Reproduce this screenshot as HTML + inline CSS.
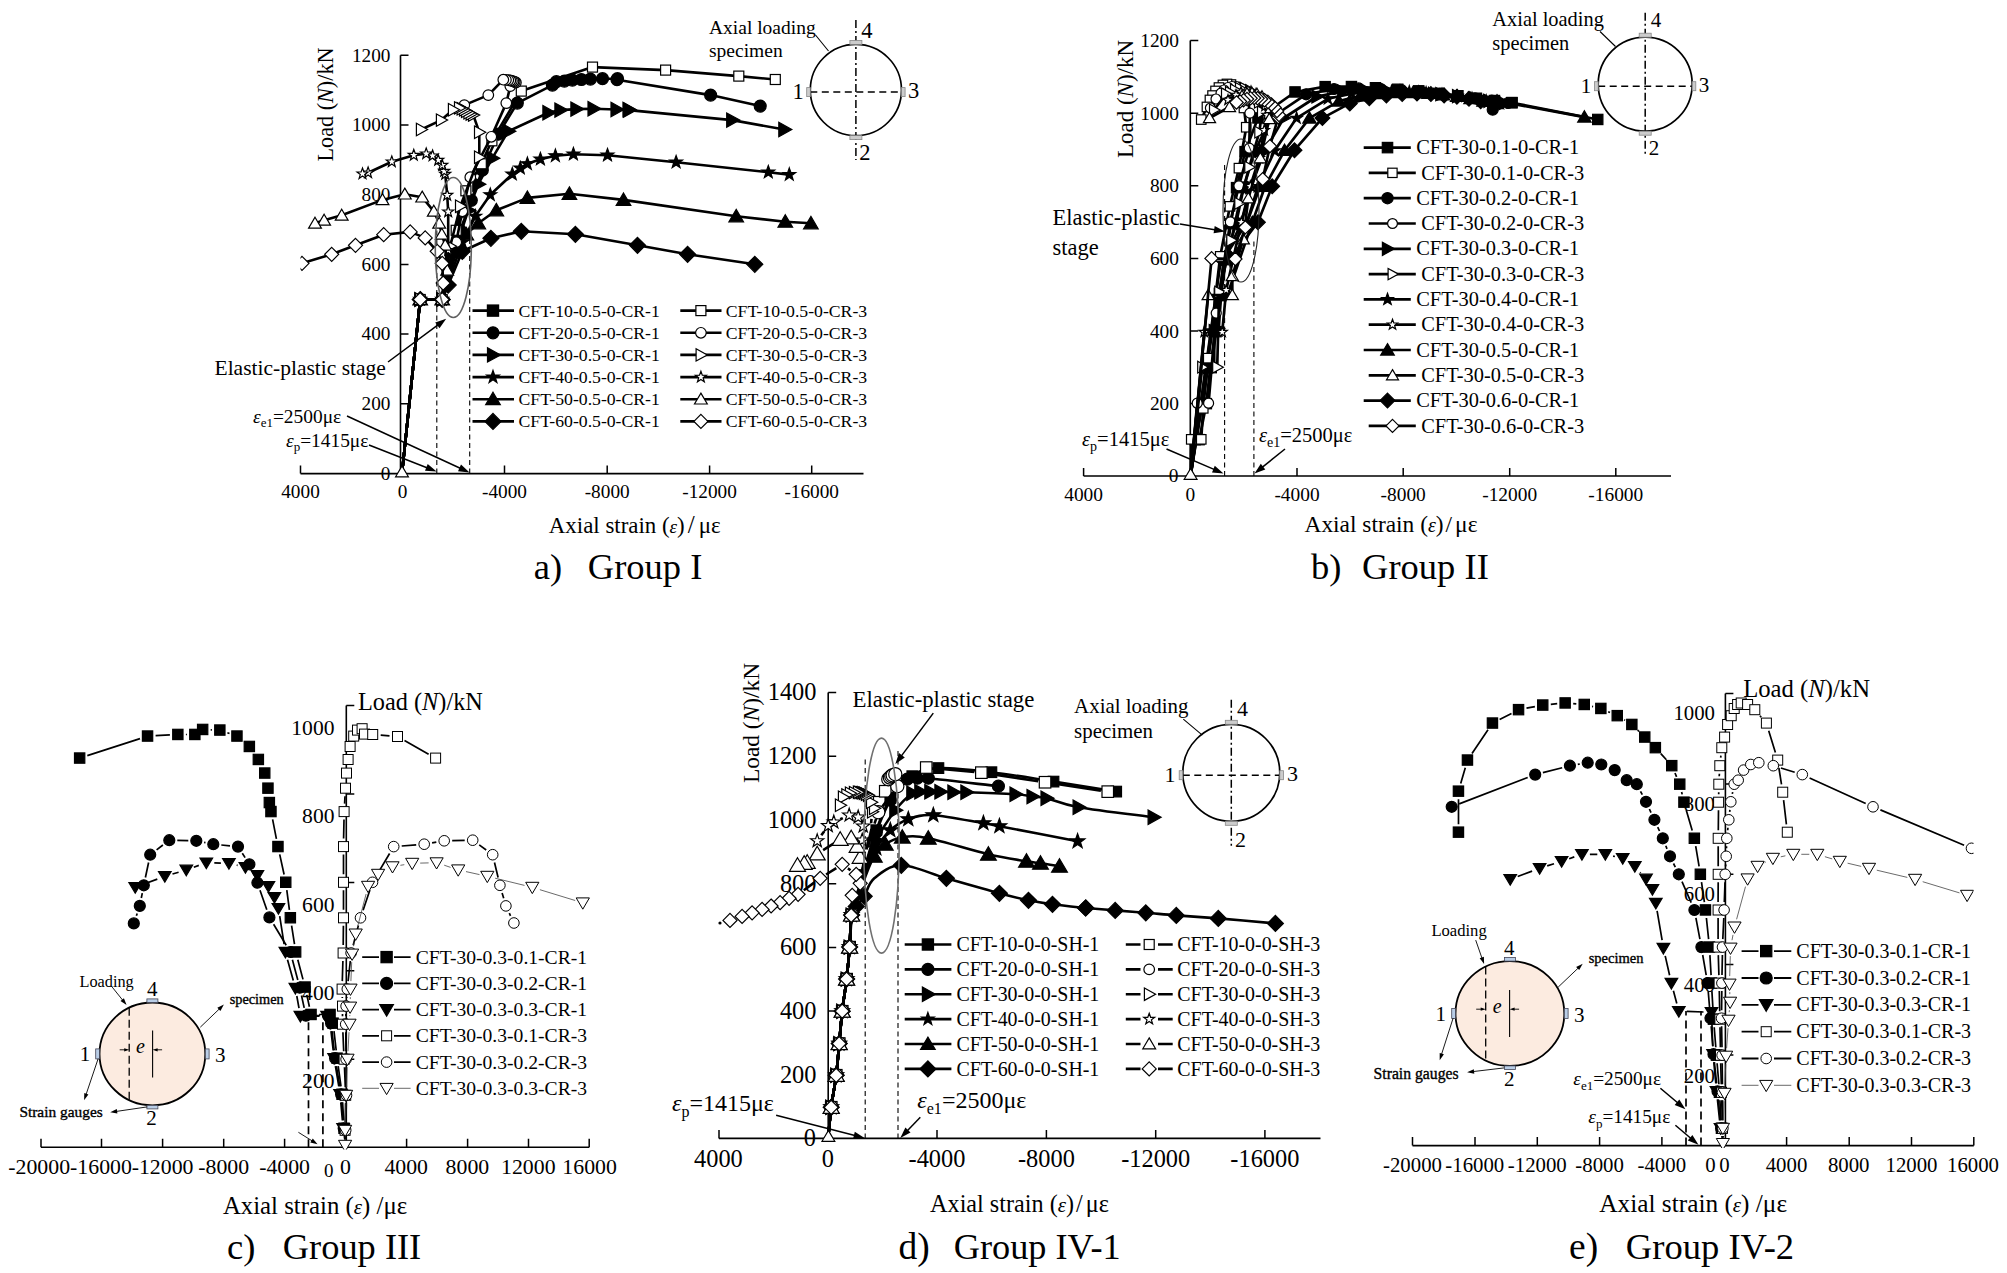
<!DOCTYPE html>
<html><head><meta charset="utf-8"><title>Load-strain curves</title>
<style>html,body{margin:0;padding:0;background:#fff}svg{display:block}text{font-family:"Liberation Serif","Times New Roman",serif;fill:#000}</style>
</head><body>
<svg width="2007" height="1273" viewBox="0 0 2007 1273">
<defs><clipPath id="clipA"><rect x="300.5" y="0" width="700" height="490"/></clipPath>
<clipPath id="clipE"><rect x="1300" y="600" width="673.6" height="548"/></clipPath><clipPath id="clipC"><rect x="0" y="600" width="700" height="549.6"/></clipPath></defs>
<rect width="2007" height="1273" fill="#fff"/>
<g id="chart_a">
<path d="M400.5 55.3V473.6M300.5 473.6H863.5" stroke="#000" stroke-width="1.6" fill="none"/>
<path d="M400.5 55.3h8M400.5 125h8M400.5 194.7h8M400.5 264.4h8M400.5 334.1h8M400.5 403.8h8M300.5 473.6v-8M504.5 473.6v-8M607.2 473.6v-8M709.6 473.6v-8M811.7 473.6v-8" stroke="#000" stroke-width="1.5" fill="none"/>
<text x="390.5" y="61.6" font-size="19.3" text-anchor="end" >1200</text>
<text x="390.5" y="131.3" font-size="19.3" text-anchor="end" >1000</text>
<text x="390.5" y="201" font-size="19.3" text-anchor="end" >800</text>
<text x="390.5" y="270.7" font-size="19.3" text-anchor="end" >600</text>
<text x="390.5" y="340.4" font-size="19.3" text-anchor="end" >400</text>
<text x="390.5" y="410.1" font-size="19.3" text-anchor="end" >200</text>
<text x="390.5" y="480" font-size="19.3" text-anchor="end" >0</text>
<text x="300.5" y="497.6" font-size="19.3" text-anchor="middle" >4000</text>
<text x="402.5" y="497.6" font-size="19.3" text-anchor="middle" >0</text>
<text x="504.5" y="497.6" font-size="19.3" text-anchor="middle" >-4000</text>
<text x="607.2" y="497.6" font-size="19.3" text-anchor="middle" >-8000</text>
<text x="709.6" y="497.6" font-size="19.3" text-anchor="middle" >-12000</text>
<text x="811.7" y="497.6" font-size="19.3" text-anchor="middle" >-16000</text>
<text transform="translate(333,104.5) rotate(-90)" font-size="22.2" text-anchor="middle">Load (<tspan font-style="italic">N</tspan>)/kN</text>
<text x="634.7" y="533.4" font-size="22.9" text-anchor="middle" >Axial strain (<tspan font-style="italic" font-size="19">ε</tspan>)<tspan dx="3" font-size="25">/</tspan><tspan dx="4">με</tspan></text>
<text x="533.7" y="578.5" font-size="36.5" text-anchor="start" >a)</text>
<text x="587.8" y="578.5" font-size="36.5" text-anchor="start" >Group I</text>
<path d="M436.8 473.6V226M469.7 473.6V232" stroke="#000" stroke-width="1.1" stroke-dasharray="5 3.5" fill="none"/>
<g clip-path="url(#clipA)">
<polyline points="402,473.3 420.2,299.5 442.2,299.5 460.3,230.3 471.3,200.3 482.3,170.2 498.3,134.2 517.3,103.1 552.4,85.1 556.4,81.7 564.4,81.1 572.4,80.1 581.4,79.5 590.4,79.1 602.5,78.7 617.5,78.7 617,79.7 710.6,95.1 760.2,106.1" fill="none" stroke="#000" stroke-width="2.6" stroke-linejoin="round" /><circle cx="420.2" cy="299.5" r="6" fill="#000" stroke="#000" stroke-width="1.2"/><circle cx="442.2" cy="299.5" r="6" fill="#000" stroke="#000" stroke-width="1.2"/><circle cx="460.3" cy="230.3" r="6" fill="#000" stroke="#000" stroke-width="1.2"/><circle cx="471.3" cy="200.3" r="6" fill="#000" stroke="#000" stroke-width="1.2"/><circle cx="482.3" cy="170.2" r="6" fill="#000" stroke="#000" stroke-width="1.2"/><circle cx="498.3" cy="134.2" r="6" fill="#000" stroke="#000" stroke-width="1.2"/><circle cx="517.3" cy="103.1" r="6" fill="#000" stroke="#000" stroke-width="1.2"/><circle cx="552.4" cy="85.1" r="6" fill="#000" stroke="#000" stroke-width="1.2"/><circle cx="556.4" cy="81.7" r="6" fill="#000" stroke="#000" stroke-width="1.2"/><circle cx="564.4" cy="81.1" r="6" fill="#000" stroke="#000" stroke-width="1.2"/><circle cx="572.4" cy="80.1" r="6" fill="#000" stroke="#000" stroke-width="1.2"/><circle cx="581.4" cy="79.5" r="6" fill="#000" stroke="#000" stroke-width="1.2"/><circle cx="590.4" cy="79.1" r="6" fill="#000" stroke="#000" stroke-width="1.2"/><circle cx="602.5" cy="78.7" r="6" fill="#000" stroke="#000" stroke-width="1.2"/><circle cx="617.5" cy="78.7" r="6" fill="#000" stroke="#000" stroke-width="1.2"/><circle cx="617" cy="79.7" r="6" fill="#000" stroke="#000" stroke-width="1.2"/><circle cx="710.6" cy="95.1" r="6" fill="#000" stroke="#000" stroke-width="1.2"/><circle cx="760.2" cy="106.1" r="6" fill="#000" stroke="#000" stroke-width="1.2"/>
<polyline points="402,473.3 420.2,299.5 442.2,299.5 458.3,240.3 468.3,210.3 478.3,184.2 492.3,158.2 508.3,131.2 548.4,112.7 560.4,110.1 576.4,109.1 593.5,108.7 616.5,109.5 628.5,109.5 629,110.1 732.2,120.1 784.3,129.5" fill="none" stroke="#000" stroke-width="2.6" stroke-linejoin="round" /><polygon points="414.7,292.4 414.7,306.6 427.7,299.5" fill="#000" stroke="#000" stroke-width="1.2"/><polygon points="436.7,292.4 436.7,306.6 449.7,299.5" fill="#000" stroke="#000" stroke-width="1.2"/><polygon points="452.8,233.2 452.8,247.5 465.8,240.3" fill="#000" stroke="#000" stroke-width="1.2"/><polygon points="462.8,203.2 462.8,217.5 475.8,210.3" fill="#000" stroke="#000" stroke-width="1.2"/><polygon points="472.8,177 472.8,191.3 485.8,184.2" fill="#000" stroke="#000" stroke-width="1.2"/><polygon points="486.8,151 486.8,165.3 499.8,158.2" fill="#000" stroke="#000" stroke-width="1.2"/><polygon points="502.8,124 502.8,138.3 515.8,131.2" fill="#000" stroke="#000" stroke-width="1.2"/><polygon points="542.9,105.5 542.9,119.9 555.9,112.7" fill="#000" stroke="#000" stroke-width="1.2"/><polygon points="554.9,102.9 554.9,117.2 567.9,110.1" fill="#000" stroke="#000" stroke-width="1.2"/><polygon points="570.9,101.9 570.9,116.2 583.9,109.1" fill="#000" stroke="#000" stroke-width="1.2"/><polygon points="588,101.5 588,115.9 601,108.7" fill="#000" stroke="#000" stroke-width="1.2"/><polygon points="611,102.3 611,116.7 624,109.5" fill="#000" stroke="#000" stroke-width="1.2"/><polygon points="623,102.3 623,116.7 636,109.5" fill="#000" stroke="#000" stroke-width="1.2"/><polygon points="623.5,102.9 623.5,117.2 636.5,110.1" fill="#000" stroke="#000" stroke-width="1.2"/><polygon points="726.7,112.9 726.7,127.2 739.7,120.1" fill="#000" stroke="#000" stroke-width="1.2"/><polygon points="778.8,122.3 778.8,136.7 791.8,129.5" fill="#000" stroke="#000" stroke-width="1.2"/>
<polyline points="402,473.3 420.2,299.5 442.2,299.5 462.3,242.3 475.3,216.3 490.3,194.8 512.3,174.2 520.3,168.2 527.4,163.8 540.4,159.2 555.4,155.8 573.4,154.2 607.5,155.2 676.1,162.2 768.3,172.2 789.3,174.6" fill="none" stroke="#000" stroke-width="2.6" stroke-linejoin="round" /><polygon points="420.2,292.8 421.8,297.3 426.6,297.4 422.7,300.3 424.1,304.9 420.2,302.2 416.3,304.9 417.7,300.3 413.8,297.4 418.6,297.3" fill="#000" stroke="#000" stroke-width="1.2"/><polygon points="442.2,292.8 443.8,297.3 448.6,297.4 444.7,300.3 446.1,304.9 442.2,302.2 438.3,304.9 439.7,300.3 435.8,297.4 440.6,297.3" fill="#000" stroke="#000" stroke-width="1.2"/><polygon points="462.3,235.6 463.9,240.1 468.7,240.2 464.8,243.1 466.2,247.7 462.3,245 458.4,247.7 459.8,243.1 455.9,240.2 460.7,240.1" fill="#000" stroke="#000" stroke-width="1.2"/><polygon points="475.3,209.6 476.9,214.1 481.7,214.2 477.8,217.1 479.2,221.7 475.3,219 471.4,221.7 472.8,217.1 468.9,214.2 473.7,214.1" fill="#000" stroke="#000" stroke-width="1.2"/><polygon points="490.3,188.1 491.9,192.6 496.7,192.7 492.8,195.6 494.2,200.2 490.3,197.5 486.4,200.2 487.8,195.6 483.9,192.7 488.7,192.6" fill="#000" stroke="#000" stroke-width="1.2"/><polygon points="512.3,167.5 513.9,172 518.7,172.1 514.8,175 516.2,179.6 512.3,176.9 508.4,179.6 509.8,175 505.9,172.1 510.7,172" fill="#000" stroke="#000" stroke-width="1.2"/><polygon points="520.3,161.5 521.9,166 526.7,166.1 522.8,169 524.2,173.6 520.3,170.9 516.4,173.6 517.8,169 513.9,166.1 518.7,166" fill="#000" stroke="#000" stroke-width="1.2"/><polygon points="527.4,157.1 529,161.6 533.8,161.7 529.9,164.6 531.3,169.2 527.4,166.5 523.5,169.2 524.9,164.6 521,161.7 525.8,161.6" fill="#000" stroke="#000" stroke-width="1.2"/><polygon points="540.4,152.5 542,157 546.8,157.1 542.9,160 544.3,164.6 540.4,161.9 536.5,164.6 537.9,160 534,157.1 538.8,157" fill="#000" stroke="#000" stroke-width="1.2"/><polygon points="555.4,149.1 557,153.6 561.8,153.7 557.9,156.6 559.3,161.2 555.4,158.5 551.5,161.2 552.9,156.6 549,153.7 553.8,153.6" fill="#000" stroke="#000" stroke-width="1.2"/><polygon points="573.4,147.5 575,152 579.8,152.1 575.9,155 577.3,159.6 573.4,156.9 569.5,159.6 570.9,155 567,152.1 571.8,152" fill="#000" stroke="#000" stroke-width="1.2"/><polygon points="607.5,148.5 609.1,153 613.9,153.1 610,156 611.4,160.6 607.5,157.9 603.6,160.6 605,156 601.1,153.1 605.9,153" fill="#000" stroke="#000" stroke-width="1.2"/><polygon points="676.1,155.5 677.7,160 682.5,160.1 678.6,163 680,167.6 676.1,164.9 672.2,167.6 673.6,163 669.7,160.1 674.5,160" fill="#000" stroke="#000" stroke-width="1.2"/><polygon points="768.3,165.5 769.9,170 774.7,170.1 770.8,173 772.2,177.6 768.3,174.9 764.4,177.6 765.8,173 761.9,170.1 766.7,170" fill="#000" stroke="#000" stroke-width="1.2"/><polygon points="789.3,167.9 790.9,172.4 795.7,172.5 791.8,175.4 793.2,180 789.3,177.3 785.4,180 786.8,175.4 782.9,172.5 787.7,172.4" fill="#000" stroke="#000" stroke-width="1.2"/>
<polyline points="402,473.3 420.2,299.5 442.2,299.5 456.2,252.3 466.3,234.3 478.3,223.3 496.3,210.3 527.4,197.9 569.4,193.8 623.5,199.9 736.2,216.3 785.3,221.7 810.9,223.3" fill="none" stroke="#000" stroke-width="2.6" stroke-linejoin="round" /><polygon points="420.2,292.6 427.5,305 412.9,305" fill="#000" stroke="#000" stroke-width="1.2"/><polygon points="442.2,292.6 449.5,305 434.9,305" fill="#000" stroke="#000" stroke-width="1.2"/><polygon points="456.2,245.4 463.5,257.8 448.9,257.8" fill="#000" stroke="#000" stroke-width="1.2"/><polygon points="466.3,227.4 473.6,239.8 459,239.8" fill="#000" stroke="#000" stroke-width="1.2"/><polygon points="478.3,216.4 485.6,228.8 471,228.8" fill="#000" stroke="#000" stroke-width="1.2"/><polygon points="496.3,203.4 503.6,215.8 489,215.8" fill="#000" stroke="#000" stroke-width="1.2"/><polygon points="527.4,191 534.7,203.4 520.1,203.4" fill="#000" stroke="#000" stroke-width="1.2"/><polygon points="569.4,186.9 576.7,199.3 562.1,199.3" fill="#000" stroke="#000" stroke-width="1.2"/><polygon points="623.5,193 630.8,205.4 616.2,205.4" fill="#000" stroke="#000" stroke-width="1.2"/><polygon points="736.2,209.4 743.5,221.8 728.9,221.8" fill="#000" stroke="#000" stroke-width="1.2"/><polygon points="785.3,214.8 792.6,227.2 778,227.2" fill="#000" stroke="#000" stroke-width="1.2"/><polygon points="810.9,216.4 818.2,228.8 803.6,228.8" fill="#000" stroke="#000" stroke-width="1.2"/>
<polyline points="402,473.3 420.2,299.5 442.2,299.5 448.2,285.1 462.3,251.3 490.9,238.3 521.3,231.3 575.4,234.3 637.5,245.3 687.6,254.3 754.8,264.3" fill="none" stroke="#000" stroke-width="2.6" stroke-linejoin="round" /><polygon points="420.2,291.5 428.2,299.5 420.2,307.5 412.2,299.5" fill="#000" stroke="#000" stroke-width="1.2"/><polygon points="442.2,291.5 450.2,299.5 442.2,307.5 434.2,299.5" fill="#000" stroke="#000" stroke-width="1.2"/><polygon points="448.2,277.1 456.2,285.1 448.2,293.1 440.2,285.1" fill="#000" stroke="#000" stroke-width="1.2"/><polygon points="462.3,243.3 470.3,251.3 462.3,259.3 454.3,251.3" fill="#000" stroke="#000" stroke-width="1.2"/><polygon points="490.9,230.3 498.9,238.3 490.9,246.3 482.9,238.3" fill="#000" stroke="#000" stroke-width="1.2"/><polygon points="521.3,223.3 529.3,231.3 521.3,239.3 513.3,231.3" fill="#000" stroke="#000" stroke-width="1.2"/><polygon points="575.4,226.3 583.4,234.3 575.4,242.3 567.4,234.3" fill="#000" stroke="#000" stroke-width="1.2"/><polygon points="637.5,237.3 645.5,245.3 637.5,253.3 629.5,245.3" fill="#000" stroke="#000" stroke-width="1.2"/><polygon points="687.6,246.3 695.6,254.3 687.6,262.3 679.6,254.3" fill="#000" stroke="#000" stroke-width="1.2"/><polygon points="754.8,256.3 762.8,264.3 754.8,272.3 746.8,264.3" fill="#000" stroke="#000" stroke-width="1.2"/>
<polyline points="402,473.3 420.2,299.5 442.2,299.5 456.2,230.3 465.9,190.8 481.3,163.8 491.9,140.8 521.3,91.1 592.5,67.1 665.6,70.1 738.8,76.1 775.3,79.5" fill="none" stroke="#000" stroke-width="2.6" stroke-linejoin="round" /><rect x="415.2" y="294.5" width="10" height="10" fill="#fff" stroke="#000" stroke-width="1.2"/><rect x="437.2" y="294.5" width="10" height="10" fill="#fff" stroke="#000" stroke-width="1.2"/><rect x="451.2" y="225.3" width="10" height="10" fill="#fff" stroke="#000" stroke-width="1.2"/><rect x="460.9" y="185.8" width="10" height="10" fill="#fff" stroke="#000" stroke-width="1.2"/><rect x="476.3" y="158.8" width="10" height="10" fill="#fff" stroke="#000" stroke-width="1.2"/><rect x="486.9" y="135.8" width="10" height="10" fill="#fff" stroke="#000" stroke-width="1.2"/><rect x="516.3" y="86.1" width="10" height="10" fill="#fff" stroke="#000" stroke-width="1.2"/><rect x="587.5" y="62.1" width="10" height="10" fill="#fff" stroke="#000" stroke-width="1.2"/><rect x="660.6" y="65.1" width="10" height="10" fill="#fff" stroke="#000" stroke-width="1.2"/><rect x="733.8" y="71.1" width="10" height="10" fill="#fff" stroke="#000" stroke-width="1.2"/><rect x="770.3" y="74.5" width="10" height="10" fill="#fff" stroke="#000" stroke-width="1.2"/>
<polyline points="402,473.3 420.2,299.5 442.2,299.5 456.2,242.3 462.3,211.3 470.3,177.2 491.3,136.8 506.3,103.1 510.3,86.1 515.9,82.5 514.7,81.9 513.5,81.3 511.9,80.9 510.3,80.5 508.3,80.1 505.9,79.9 503.3,79.7 488.3,95.1 464.3,105.1" fill="none" stroke="#000" stroke-width="2.6" stroke-linejoin="round" /><circle cx="420.2" cy="299.5" r="5.3" fill="#fff" stroke="#000" stroke-width="1.2"/><circle cx="442.2" cy="299.5" r="5.3" fill="#fff" stroke="#000" stroke-width="1.2"/><circle cx="456.2" cy="242.3" r="5.3" fill="#fff" stroke="#000" stroke-width="1.2"/><circle cx="462.3" cy="211.3" r="5.3" fill="#fff" stroke="#000" stroke-width="1.2"/><circle cx="470.3" cy="177.2" r="5.3" fill="#fff" stroke="#000" stroke-width="1.2"/><circle cx="491.3" cy="136.8" r="5.3" fill="#fff" stroke="#000" stroke-width="1.2"/><circle cx="506.3" cy="103.1" r="5.3" fill="#fff" stroke="#000" stroke-width="1.2"/><circle cx="510.3" cy="86.1" r="5.3" fill="#fff" stroke="#000" stroke-width="1.2"/><circle cx="515.9" cy="82.5" r="5.3" fill="#fff" stroke="#000" stroke-width="1.2"/><circle cx="514.7" cy="81.9" r="5.3" fill="#fff" stroke="#000" stroke-width="1.2"/><circle cx="513.5" cy="81.3" r="5.3" fill="#fff" stroke="#000" stroke-width="1.2"/><circle cx="511.9" cy="80.9" r="5.3" fill="#fff" stroke="#000" stroke-width="1.2"/><circle cx="510.3" cy="80.5" r="5.3" fill="#fff" stroke="#000" stroke-width="1.2"/><circle cx="508.3" cy="80.1" r="5.3" fill="#fff" stroke="#000" stroke-width="1.2"/><circle cx="505.9" cy="79.9" r="5.3" fill="#fff" stroke="#000" stroke-width="1.2"/><circle cx="503.3" cy="79.7" r="5.3" fill="#fff" stroke="#000" stroke-width="1.2"/><circle cx="488.3" cy="95.1" r="5.3" fill="#fff" stroke="#000" stroke-width="1.2"/><circle cx="464.3" cy="105.1" r="5.3" fill="#fff" stroke="#000" stroke-width="1.2"/>
<polyline points="402,473.3 420.2,299.5 442.2,299.5 450.2,246.3 460.3,206.3 479.3,157.2 479.3,132.2 473.3,115.1 470.9,114.1 468.7,112.7 466.3,111.3 464.3,109.9 461.9,108.7 459.3,107.9 453.2,109.7 441.2,120.1 421.2,129.5" fill="none" stroke="#000" stroke-width="2.6" stroke-linejoin="round" /><polygon points="415.4,293.3 415.4,305.7 426.6,299.5" fill="#fff" stroke="#000" stroke-width="1.2"/><polygon points="437.4,293.3 437.4,305.7 448.6,299.5" fill="#fff" stroke="#000" stroke-width="1.2"/><polygon points="445.4,240.1 445.4,252.5 456.6,246.3" fill="#fff" stroke="#000" stroke-width="1.2"/><polygon points="455.5,200.1 455.5,212.5 466.7,206.3" fill="#fff" stroke="#000" stroke-width="1.2"/><polygon points="474.5,151 474.5,163.4 485.7,157.2" fill="#fff" stroke="#000" stroke-width="1.2"/><polygon points="474.5,126 474.5,138.4 485.7,132.2" fill="#fff" stroke="#000" stroke-width="1.2"/><polygon points="468.5,108.9 468.5,121.3 479.7,115.1" fill="#fff" stroke="#000" stroke-width="1.2"/><polygon points="466.1,107.9 466.1,120.3 477.3,114.1" fill="#fff" stroke="#000" stroke-width="1.2"/><polygon points="463.9,106.5 463.9,118.9 475.1,112.7" fill="#fff" stroke="#000" stroke-width="1.2"/><polygon points="461.5,105.1 461.5,117.5 472.7,111.3" fill="#fff" stroke="#000" stroke-width="1.2"/><polygon points="459.5,103.7 459.5,116.1 470.7,109.9" fill="#fff" stroke="#000" stroke-width="1.2"/><polygon points="457.1,102.5 457.1,114.9 468.3,108.7" fill="#fff" stroke="#000" stroke-width="1.2"/><polygon points="454.5,101.7 454.5,114.1 465.7,107.9" fill="#fff" stroke="#000" stroke-width="1.2"/><polygon points="448.4,103.5 448.4,115.9 459.6,109.7" fill="#fff" stroke="#000" stroke-width="1.2"/><polygon points="436.4,113.9 436.4,126.3 447.6,120.1" fill="#fff" stroke="#000" stroke-width="1.2"/><polygon points="416.4,123.3 416.4,135.7 427.6,129.5" fill="#fff" stroke="#000" stroke-width="1.2"/>
<polyline points="402,473.3 420.2,299.5 442.2,299.5 448.2,250.3 448.2,211.9 447.2,195.2 445.2,174.2 444.2,171.2 442.2,165.2 438.2,160.2 432.6,155.8 426.2,153.8 413.8,155.2 391.8,161.8 368.1,172.8 362.5,173.8" fill="none" stroke="#000" stroke-width="2.6" stroke-linejoin="round" /><polygon points="420.2,293.7 421.6,297.6 425.7,297.7 422.4,300.2 423.6,304.2 420.2,301.8 416.8,304.2 418,300.2 414.7,297.7 418.8,297.6" fill="#fff" stroke="#000" stroke-width="1.2"/><polygon points="442.2,293.7 443.6,297.6 447.7,297.7 444.4,300.2 445.6,304.2 442.2,301.8 438.8,304.2 440,300.2 436.7,297.7 440.8,297.6" fill="#fff" stroke="#000" stroke-width="1.2"/><polygon points="448.2,244.5 449.6,248.4 453.7,248.5 450.4,251 451.6,255 448.2,252.6 444.8,255 446,251 442.7,248.5 446.8,248.4" fill="#fff" stroke="#000" stroke-width="1.2"/><polygon points="448.2,206.1 449.6,210 453.7,210.1 450.4,212.6 451.6,216.6 448.2,214.2 444.8,216.6 446,212.6 442.7,210.1 446.8,210" fill="#fff" stroke="#000" stroke-width="1.2"/><polygon points="447.2,189.4 448.6,193.3 452.7,193.4 449.4,195.9 450.6,199.9 447.2,197.5 443.8,199.9 445,195.9 441.7,193.4 445.8,193.3" fill="#fff" stroke="#000" stroke-width="1.2"/><polygon points="445.2,168.4 446.6,172.3 450.7,172.4 447.4,174.9 448.6,178.9 445.2,176.5 441.8,178.9 443,174.9 439.7,172.4 443.8,172.3" fill="#fff" stroke="#000" stroke-width="1.2"/><polygon points="444.2,165.4 445.6,169.3 449.7,169.4 446.4,171.9 447.6,175.9 444.2,173.5 440.8,175.9 442,171.9 438.7,169.4 442.8,169.3" fill="#fff" stroke="#000" stroke-width="1.2"/><polygon points="442.2,159.4 443.6,163.3 447.7,163.4 444.4,165.9 445.6,169.9 442.2,167.5 438.8,169.9 440,165.9 436.7,163.4 440.8,163.3" fill="#fff" stroke="#000" stroke-width="1.2"/><polygon points="438.2,154.4 439.6,158.3 443.7,158.4 440.4,160.9 441.6,164.9 438.2,162.5 434.8,164.9 436,160.9 432.7,158.4 436.8,158.3" fill="#fff" stroke="#000" stroke-width="1.2"/><polygon points="432.6,150 434,153.9 438.1,154 434.8,156.5 436,160.5 432.6,158.1 429.2,160.5 430.4,156.5 427.1,154 431.2,153.9" fill="#fff" stroke="#000" stroke-width="1.2"/><polygon points="426.2,148 427.6,151.9 431.7,152 428.4,154.5 429.6,158.5 426.2,156.1 422.8,158.5 424,154.5 420.7,152 424.8,151.9" fill="#fff" stroke="#000" stroke-width="1.2"/><polygon points="413.8,149.4 415.2,153.3 419.3,153.4 416,155.9 417.2,159.9 413.8,157.5 410.4,159.9 411.6,155.9 408.3,153.4 412.4,153.3" fill="#fff" stroke="#000" stroke-width="1.2"/><polygon points="391.8,156 393.2,159.9 397.3,160 394,162.5 395.2,166.5 391.8,164.1 388.4,166.5 389.6,162.5 386.3,160 390.4,159.9" fill="#fff" stroke="#000" stroke-width="1.2"/><polygon points="368.1,167 369.5,170.9 373.6,171 370.3,173.5 371.5,177.5 368.1,175.1 364.7,177.5 365.9,173.5 362.6,171 366.7,170.9" fill="#fff" stroke="#000" stroke-width="1.2"/><polygon points="362.5,168 363.9,171.9 368,172 364.7,174.5 365.9,178.5 362.5,176.1 359.1,178.5 360.3,174.5 357,172 361.1,171.9" fill="#fff" stroke="#000" stroke-width="1.2"/>
<polyline points="402,473.3 420.2,299.5 442.2,299.5 447.2,270.4 445.2,245.3 441.8,234.3 439.2,223.3 433.8,211.3 422.2,197.2 404.8,194.2 382.5,199.9 341.7,215.3 324.1,220.3 315,223.3" fill="none" stroke="#000" stroke-width="2.6" stroke-linejoin="round" /><polygon points="420.2,293.4 426.6,304.3 413.8,304.3" fill="#fff" stroke="#000" stroke-width="1.2"/><polygon points="442.2,293.4 448.6,304.3 435.8,304.3" fill="#fff" stroke="#000" stroke-width="1.2"/><polygon points="447.2,264.3 453.6,275.2 440.8,275.2" fill="#fff" stroke="#000" stroke-width="1.2"/><polygon points="445.2,239.2 451.6,250.1 438.8,250.1" fill="#fff" stroke="#000" stroke-width="1.2"/><polygon points="441.8,228.2 448.2,239.1 435.4,239.1" fill="#fff" stroke="#000" stroke-width="1.2"/><polygon points="439.2,217.2 445.6,228.1 432.8,228.1" fill="#fff" stroke="#000" stroke-width="1.2"/><polygon points="433.8,205.2 440.2,216.1 427.4,216.1" fill="#fff" stroke="#000" stroke-width="1.2"/><polygon points="422.2,191.1 428.6,202 415.8,202" fill="#fff" stroke="#000" stroke-width="1.2"/><polygon points="404.8,188.1 411.2,199 398.4,199" fill="#fff" stroke="#000" stroke-width="1.2"/><polygon points="382.5,193.8 388.9,204.7 376.1,204.7" fill="#fff" stroke="#000" stroke-width="1.2"/><polygon points="341.7,209.2 348.1,220.1 335.3,220.1" fill="#fff" stroke="#000" stroke-width="1.2"/><polygon points="324.1,214.2 330.5,225.1 317.7,225.1" fill="#fff" stroke="#000" stroke-width="1.2"/><polygon points="315,217.2 321.4,228.1 308.6,228.1" fill="#fff" stroke="#000" stroke-width="1.2"/>
<polyline points="402,473.3 420.2,299.5 442.2,299.5 443.2,283.1 442.2,263.3 437.2,251.3 425.2,237.9 410.2,231.9 383.7,234.7 355.5,245.3 331.7,254.3 302,263.3" fill="none" stroke="#000" stroke-width="2.6" stroke-linejoin="round" /><polygon points="420.2,292.5 427.2,299.5 420.2,306.5 413.2,299.5" fill="#fff" stroke="#000" stroke-width="1.2"/><polygon points="442.2,292.5 449.2,299.5 442.2,306.5 435.2,299.5" fill="#fff" stroke="#000" stroke-width="1.2"/><polygon points="443.2,276.1 450.2,283.1 443.2,290.1 436.2,283.1" fill="#fff" stroke="#000" stroke-width="1.2"/><polygon points="442.2,256.3 449.2,263.3 442.2,270.3 435.2,263.3" fill="#fff" stroke="#000" stroke-width="1.2"/><polygon points="437.2,244.3 444.2,251.3 437.2,258.3 430.2,251.3" fill="#fff" stroke="#000" stroke-width="1.2"/><polygon points="425.2,230.9 432.2,237.9 425.2,244.9 418.2,237.9" fill="#fff" stroke="#000" stroke-width="1.2"/><polygon points="410.2,224.9 417.2,231.9 410.2,238.9 403.2,231.9" fill="#fff" stroke="#000" stroke-width="1.2"/><polygon points="383.7,227.7 390.7,234.7 383.7,241.7 376.7,234.7" fill="#fff" stroke="#000" stroke-width="1.2"/><polygon points="355.5,238.3 362.5,245.3 355.5,252.3 348.5,245.3" fill="#fff" stroke="#000" stroke-width="1.2"/><polygon points="331.7,247.3 338.7,254.3 331.7,261.3 324.7,254.3" fill="#fff" stroke="#000" stroke-width="1.2"/><polygon points="302,256.3 309,263.3 302,270.3 295,263.3" fill="#fff" stroke="#000" stroke-width="1.2"/>
<polygon points="402,465.9 408.4,476.8 395.6,476.8" fill="#fff" stroke="#000" stroke-width="1.2"/>
</g>
<ellipse cx="453.3" cy="247.5" rx="18" ry="70" fill="none" stroke="#606060" stroke-width="1.6"/>
<line x1="472.5" y1="310.6" x2="514" y2="310.6" stroke="#000" stroke-width="2.6"/>
<rect x="487.4" y="305" width="11.2" height="11.2" fill="#000" stroke="#000" stroke-width="1.2"/>
<text x="518.5" y="316.5" font-size="17.7" text-anchor="start" >CFT-10-0.5-0-CR-1</text>
<line x1="680.3" y1="310.6" x2="721.5" y2="310.6" stroke="#000" stroke-width="2.6"/>
<rect x="695.9" y="305.6" width="10" height="10" fill="#fff" stroke="#000" stroke-width="1.2"/>
<text x="725.8" y="316.5" font-size="17.7" text-anchor="start" >CFT-10-0.5-0-CR-3</text>
<line x1="472.5" y1="332.8" x2="514" y2="332.8" stroke="#000" stroke-width="2.6"/>
<circle cx="493" cy="332.8" r="6" fill="#000" stroke="#000" stroke-width="1.2"/>
<text x="518.5" y="338.6" font-size="17.7" text-anchor="start" >CFT-20-0.5-0-CR-1</text>
<line x1="680.3" y1="332.8" x2="721.5" y2="332.8" stroke="#000" stroke-width="2.6"/>
<circle cx="700.9" cy="332.8" r="5.3" fill="#fff" stroke="#000" stroke-width="1.2"/>
<text x="725.8" y="338.6" font-size="17.7" text-anchor="start" >CFT-20-0.5-0-CR-3</text>
<line x1="472.5" y1="354.9" x2="514" y2="354.9" stroke="#000" stroke-width="2.6"/>
<polygon points="487.5,347.8 487.5,362.1 500.5,354.9" fill="#000" stroke="#000" stroke-width="1.2"/>
<text x="518.5" y="360.8" font-size="17.7" text-anchor="start" >CFT-30-0.5-0-CR-1</text>
<line x1="680.3" y1="354.9" x2="721.5" y2="354.9" stroke="#000" stroke-width="2.6"/>
<polygon points="696.1,348.7 696.1,361.1 707.3,354.9" fill="#fff" stroke="#000" stroke-width="1.2"/>
<text x="725.8" y="360.8" font-size="17.7" text-anchor="start" >CFT-30-0.5-0-CR-3</text>
<line x1="472.5" y1="377.1" x2="514" y2="377.1" stroke="#000" stroke-width="2.6"/>
<polygon points="493,370.4 494.6,374.9 499.4,375 495.5,377.9 496.9,382.5 493,379.7 489.1,382.5 490.5,377.9 486.6,375 491.4,374.9" fill="#000" stroke="#000" stroke-width="1.2"/>
<text x="518.5" y="382.9" font-size="17.7" text-anchor="start" >CFT-40-0.5-0-CR-1</text>
<line x1="680.3" y1="377.1" x2="721.5" y2="377.1" stroke="#000" stroke-width="2.6"/>
<polygon points="700.9,371.2 702.3,375.2 706.4,375.3 703.1,377.8 704.3,381.7 700.9,379.4 697.5,381.7 698.7,377.8 695.4,375.3 699.5,375.2" fill="#fff" stroke="#000" stroke-width="1.2"/>
<text x="725.8" y="382.9" font-size="17.7" text-anchor="start" >CFT-40-0.5-0-CR-3</text>
<line x1="472.5" y1="399.2" x2="514" y2="399.2" stroke="#000" stroke-width="2.6"/>
<polygon points="493,392.3 500.3,404.7 485.7,404.7" fill="#000" stroke="#000" stroke-width="1.2"/>
<text x="518.5" y="405.1" font-size="17.7" text-anchor="start" >CFT-50-0.5-0-CR-1</text>
<line x1="680.3" y1="399.2" x2="721.5" y2="399.2" stroke="#000" stroke-width="2.6"/>
<polygon points="700.9,393.1 707.3,404 694.5,404" fill="#fff" stroke="#000" stroke-width="1.2"/>
<text x="725.8" y="405.1" font-size="17.7" text-anchor="start" >CFT-50-0.5-0-CR-3</text>
<line x1="472.5" y1="421.4" x2="514" y2="421.4" stroke="#000" stroke-width="2.6"/>
<polygon points="493,413.4 501,421.4 493,429.4 485,421.4" fill="#000" stroke="#000" stroke-width="1.2"/>
<text x="518.5" y="427.2" font-size="17.7" text-anchor="start" >CFT-60-0.5-0-CR-1</text>
<line x1="680.3" y1="421.4" x2="721.5" y2="421.4" stroke="#000" stroke-width="2.6"/>
<polygon points="700.9,414.4 707.9,421.4 700.9,428.4 693.9,421.4" fill="#fff" stroke="#000" stroke-width="1.2"/>
<text x="725.8" y="427.2" font-size="17.7" text-anchor="start" >CFT-60-0.5-0-CR-3</text>
<text x="214.5" y="375.2" font-size="21.5" text-anchor="start" >Elastic-plastic stage</text>
<line x1="388" y1="362" x2="439" y2="324.1" stroke="#000" stroke-width="1.5"/><polygon points="446.2,318.7 439.5,328.2 435.2,322.4" fill="#000"/>
<text x="253" y="422.5" font-size="19.4" text-anchor="start" ><tspan font-style="italic">ε</tspan><tspan font-size="13" dy="4">e1</tspan><tspan dy="-4">=2500με</tspan></text>
<line x1="347" y1="416" x2="461.3" y2="468.7" stroke="#000" stroke-width="1.5"/><polygon points="469.5,472.5 458,471.2 461,464.6" fill="#000"/>
<text x="286" y="446.5" font-size="19.4" text-anchor="start" ><tspan font-style="italic">ε</tspan><tspan font-size="13" dy="4">p</tspan><tspan dy="-4">=1415με</tspan></text>
<line x1="369" y1="445" x2="428.2" y2="468.2" stroke="#000" stroke-width="1.5"/><polygon points="436.6,471.5 425,470.8 427.7,464.1" fill="#000"/>
<circle cx="855.9" cy="90" r="45.6" fill="none" stroke="#000" stroke-width="1.7"/><line x1="810.3" y1="92.1" x2="901.5" y2="92.1" stroke="#000" stroke-width="1.5" stroke-dasharray="7 4.5"/><line x1="855.9" y1="19.9" x2="855.9" y2="160.1" stroke="#000" stroke-width="1.5" stroke-dasharray="8 3 2 3"/><rect x="849.9" y="40.4" width="12" height="4" fill="#ccc" stroke="#888" stroke-width="0.8"/><rect x="849.9" y="135.6" width="12" height="4" fill="#ccc" stroke="#888" stroke-width="0.8"/><rect x="806.6999999999999" y="87.6" width="3.6" height="9" fill="#ccc" stroke="#888" stroke-width="0.8"/><rect x="901.5" y="87.6" width="3.6" height="9" fill="#ccc" stroke="#888" stroke-width="0.8"/><text x="798" y="99.1" font-size="22.5" text-anchor="middle" >1</text><text x="913.5" y="98.1" font-size="22.5" text-anchor="middle" >3</text><text x="866.8" y="37.5" font-size="22.5" text-anchor="middle" >4</text><text x="864.8" y="159.6" font-size="22.5" text-anchor="middle" >2</text>
<text x="709" y="33.5" font-size="19.5" text-anchor="start" >Axial loading</text>
<text x="709" y="56.8" font-size="19.5" text-anchor="start" >specimen</text>
<line x1="815.5" y1="35" x2="828.5" y2="51" stroke="#000" stroke-width="1.1"/>
</g>
<g id="chart_b">
<path d="M1190.3 40.6V476.0M1083.6 476.0H1671" stroke="#000" stroke-width="1.6" fill="none"/>
<path d="M1190.3 40.6h8M1190.3 113.2h8M1190.3 185.8h8M1190.3 258.4h8M1190.3 331h8M1190.3 403.6h8M1083.6 476.0v-8M1297 476.0v-8M1403.2 476.0v-8M1509.7 476.0v-8M1615.8 476.0v-8" stroke="#000" stroke-width="1.5" fill="none"/>
<text x="1179" y="47.1" font-size="19.4" text-anchor="end" >1200</text>
<text x="1179" y="119.7" font-size="19.4" text-anchor="end" >1000</text>
<text x="1179" y="192.3" font-size="19.4" text-anchor="end" >800</text>
<text x="1179" y="264.9" font-size="19.4" text-anchor="end" >600</text>
<text x="1179" y="337.5" font-size="19.4" text-anchor="end" >400</text>
<text x="1179" y="410.1" font-size="19.4" text-anchor="end" >200</text>
<text x="1178.5" y="482.3" font-size="19.4" text-anchor="end" >0</text>
<text x="1083.6" y="501" font-size="19.4" text-anchor="middle" >4000</text>
<text x="1190.3" y="501" font-size="19.4" text-anchor="middle" >0</text>
<text x="1297" y="501" font-size="19.4" text-anchor="middle" >-4000</text>
<text x="1403.2" y="501" font-size="19.4" text-anchor="middle" >-8000</text>
<text x="1509.7" y="501" font-size="19.4" text-anchor="middle" >-12000</text>
<text x="1615.8" y="501" font-size="19.4" text-anchor="middle" >-16000</text>
<text transform="translate(1133,99) rotate(-90)" font-size="23" text-anchor="middle">Load (<tspan font-style="italic">N</tspan>)/kN</text>
<text x="1391" y="531.8" font-size="23.4" text-anchor="middle" >Axial strain (<tspan font-style="italic" font-size="20">ε</tspan>)<tspan dx="2">/</tspan><tspan dx="3">με</tspan></text>
<text x="1311" y="578.5" font-size="36.5" text-anchor="start" >b)</text>
<text x="1362.1" y="578.5" font-size="36.5" text-anchor="start" >Group II</text>
<path d="M1224.6 476.0V165M1253.9 476.0V240" stroke="#000" stroke-width="1.1" stroke-dasharray="5 3.5" fill="none"/>
<polyline points="1190.6,475.8 1195.2,439.7 1199.2,439.7 1206.4,403.7 1211.3,367.7 1216.1,331.7 1221,295.7 1225.9,259.7 1230.8,223.7 1236.6,187.7 1245.1,151.7 1258,118 1295.1,92 1325.2,86.7 1351.5,86.6 1375.5,87.8 1397.8,89.3 1418.8,90.9 1438.8,93.4 1458,95.8 1476.5,98.3 1494.5,100.6 1512,102.7 1512,102.7 1597.8,119.5" fill="none" stroke="#000" stroke-width="2.7" stroke-linejoin="round" /><rect x="1190" y="434.5" width="10.3" height="10.3" fill="#000" stroke="#000" stroke-width="1.2"/><rect x="1194" y="434.5" width="10.3" height="10.3" fill="#000" stroke="#000" stroke-width="1.2"/><rect x="1201.2" y="398.5" width="10.3" height="10.3" fill="#000" stroke="#000" stroke-width="1.2"/><rect x="1206.1" y="362.5" width="10.3" height="10.3" fill="#000" stroke="#000" stroke-width="1.2"/><rect x="1210.9" y="326.5" width="10.3" height="10.3" fill="#000" stroke="#000" stroke-width="1.2"/><rect x="1215.8" y="290.5" width="10.3" height="10.3" fill="#000" stroke="#000" stroke-width="1.2"/><rect x="1220.7" y="254.5" width="10.3" height="10.3" fill="#000" stroke="#000" stroke-width="1.2"/><rect x="1225.6" y="218.5" width="10.3" height="10.3" fill="#000" stroke="#000" stroke-width="1.2"/><rect x="1231.4" y="182.5" width="10.3" height="10.3" fill="#000" stroke="#000" stroke-width="1.2"/><rect x="1239.9" y="146.5" width="10.3" height="10.3" fill="#000" stroke="#000" stroke-width="1.2"/><rect x="1252.8" y="112.8" width="10.3" height="10.3" fill="#000" stroke="#000" stroke-width="1.2"/><rect x="1289.9" y="86.8" width="10.3" height="10.3" fill="#000" stroke="#000" stroke-width="1.2"/><rect x="1320" y="81.5" width="10.3" height="10.3" fill="#000" stroke="#000" stroke-width="1.2"/><rect x="1346.3" y="81.4" width="10.3" height="10.3" fill="#000" stroke="#000" stroke-width="1.2"/><rect x="1370.3" y="82.6" width="10.3" height="10.3" fill="#000" stroke="#000" stroke-width="1.2"/><rect x="1392.6" y="84.1" width="10.3" height="10.3" fill="#000" stroke="#000" stroke-width="1.2"/><rect x="1413.6" y="85.7" width="10.3" height="10.3" fill="#000" stroke="#000" stroke-width="1.2"/><rect x="1433.6" y="88.2" width="10.3" height="10.3" fill="#000" stroke="#000" stroke-width="1.2"/><rect x="1452.8" y="90.6" width="10.3" height="10.3" fill="#000" stroke="#000" stroke-width="1.2"/><rect x="1471.3" y="93.1" width="10.3" height="10.3" fill="#000" stroke="#000" stroke-width="1.2"/><rect x="1489.3" y="95.4" width="10.3" height="10.3" fill="#000" stroke="#000" stroke-width="1.2"/><rect x="1506.8" y="97.5" width="10.3" height="10.3" fill="#000" stroke="#000" stroke-width="1.2"/><rect x="1506.8" y="97.5" width="10.3" height="10.3" fill="#000" stroke="#000" stroke-width="1.2"/><rect x="1592.6" y="114.3" width="10.3" height="10.3" fill="#000" stroke="#000" stroke-width="1.2"/>
<polyline points="1190.6,475.8 1201.8,403.4 1206.3,403.4 1210.3,367.4 1215.2,331.4 1220.1,295.4 1225.1,259.4 1236.1,223.4 1243.7,187.4 1254.8,151.4 1270.9,118 1306.1,94.3 1334,89 1358.5,88.4 1380.8,89 1401.6,90.2 1421.2,91.5 1439.9,93.8 1457.8,95.9 1475,98.4 1491.8,100.7 1508,103 1492.7,109.7" fill="none" stroke="#000" stroke-width="2.7" stroke-linejoin="round" /><circle cx="1201.8" cy="403.4" r="5.5" fill="#000" stroke="#000" stroke-width="1.2"/><circle cx="1206.3" cy="403.4" r="5.5" fill="#000" stroke="#000" stroke-width="1.2"/><circle cx="1210.3" cy="367.4" r="5.5" fill="#000" stroke="#000" stroke-width="1.2"/><circle cx="1215.2" cy="331.4" r="5.5" fill="#000" stroke="#000" stroke-width="1.2"/><circle cx="1220.1" cy="295.4" r="5.5" fill="#000" stroke="#000" stroke-width="1.2"/><circle cx="1225.1" cy="259.4" r="5.5" fill="#000" stroke="#000" stroke-width="1.2"/><circle cx="1236.1" cy="223.4" r="5.5" fill="#000" stroke="#000" stroke-width="1.2"/><circle cx="1243.7" cy="187.4" r="5.5" fill="#000" stroke="#000" stroke-width="1.2"/><circle cx="1254.8" cy="151.4" r="5.5" fill="#000" stroke="#000" stroke-width="1.2"/><circle cx="1270.9" cy="118" r="5.5" fill="#000" stroke="#000" stroke-width="1.2"/><circle cx="1306.1" cy="94.3" r="5.5" fill="#000" stroke="#000" stroke-width="1.2"/><circle cx="1334" cy="89" r="5.5" fill="#000" stroke="#000" stroke-width="1.2"/><circle cx="1358.5" cy="88.4" r="5.5" fill="#000" stroke="#000" stroke-width="1.2"/><circle cx="1380.8" cy="89" r="5.5" fill="#000" stroke="#000" stroke-width="1.2"/><circle cx="1401.6" cy="90.2" r="5.5" fill="#000" stroke="#000" stroke-width="1.2"/><circle cx="1421.2" cy="91.5" r="5.5" fill="#000" stroke="#000" stroke-width="1.2"/><circle cx="1439.9" cy="93.8" r="5.5" fill="#000" stroke="#000" stroke-width="1.2"/><circle cx="1457.8" cy="95.9" r="5.5" fill="#000" stroke="#000" stroke-width="1.2"/><circle cx="1475" cy="98.4" r="5.5" fill="#000" stroke="#000" stroke-width="1.2"/><circle cx="1491.8" cy="100.7" r="5.5" fill="#000" stroke="#000" stroke-width="1.2"/><circle cx="1508" cy="103" r="5.5" fill="#000" stroke="#000" stroke-width="1.2"/><circle cx="1492.7" cy="109.7" r="5.5" fill="#000" stroke="#000" stroke-width="1.2"/>
<polyline points="1190.6,475.8 1208.2,367.1 1214.2,367.1 1214.3,331.1 1219.3,295.1 1224.3,259.1 1241.4,223.1 1250.8,187.1 1264.7,151.1 1283.8,118 1317,96.5 1342.8,91.3 1365.5,90.1 1386.2,90.2 1405.4,91 1423.7,92.2 1440.9,94.2 1457.6,96.1 1473.5,98.5 1489,100.8 1504,103.2" fill="none" stroke="#000" stroke-width="2.7" stroke-linejoin="round" /><polygon points="1203.1,360.5 1203.1,373.7 1215.1,367.1" fill="#000" stroke="#000" stroke-width="1.2"/><polygon points="1209.1,360.5 1209.1,373.7 1221.1,367.1" fill="#000" stroke="#000" stroke-width="1.2"/><polygon points="1209.2,324.5 1209.2,337.7 1221.2,331.1" fill="#000" stroke="#000" stroke-width="1.2"/><polygon points="1214.2,288.5 1214.2,301.7 1226.2,295.1" fill="#000" stroke="#000" stroke-width="1.2"/><polygon points="1219.2,252.5 1219.2,265.7 1231.2,259.1" fill="#000" stroke="#000" stroke-width="1.2"/><polygon points="1236.3,216.5 1236.3,229.7 1248.3,223.1" fill="#000" stroke="#000" stroke-width="1.2"/><polygon points="1245.7,180.5 1245.7,193.7 1257.7,187.1" fill="#000" stroke="#000" stroke-width="1.2"/><polygon points="1259.6,144.5 1259.6,157.7 1271.6,151.1" fill="#000" stroke="#000" stroke-width="1.2"/><polygon points="1278.7,111.4 1278.7,124.6 1290.7,118" fill="#000" stroke="#000" stroke-width="1.2"/><polygon points="1311.9,89.9 1311.9,103.1 1323.9,96.5" fill="#000" stroke="#000" stroke-width="1.2"/><polygon points="1337.7,84.7 1337.7,97.9 1349.7,91.3" fill="#000" stroke="#000" stroke-width="1.2"/><polygon points="1360.4,83.5 1360.4,96.7 1372.4,90.1" fill="#000" stroke="#000" stroke-width="1.2"/><polygon points="1381.1,83.6 1381.1,96.8 1393.1,90.2" fill="#000" stroke="#000" stroke-width="1.2"/><polygon points="1400.3,84.4 1400.3,97.6 1412.3,91" fill="#000" stroke="#000" stroke-width="1.2"/><polygon points="1418.6,85.6 1418.6,98.8 1430.6,92.2" fill="#000" stroke="#000" stroke-width="1.2"/><polygon points="1435.8,87.6 1435.8,100.8 1447.8,94.2" fill="#000" stroke="#000" stroke-width="1.2"/><polygon points="1452.5,89.5 1452.5,102.7 1464.5,96.1" fill="#000" stroke="#000" stroke-width="1.2"/><polygon points="1468.4,91.9 1468.4,105.1 1480.4,98.5" fill="#000" stroke="#000" stroke-width="1.2"/><polygon points="1483.9,94.2 1483.9,107.4 1495.9,100.8" fill="#000" stroke="#000" stroke-width="1.2"/><polygon points="1498.9,96.6 1498.9,109.8 1510.9,103.2" fill="#000" stroke="#000" stroke-width="1.2"/>
<polyline points="1190.6,475.8 1211.4,330.8 1218.6,330.8 1223.6,258.8 1246.8,222.8 1257.9,186.8 1274.6,150.8 1296.6,118.1 1327.9,98.8 1351.6,93.6 1372.5,91.9 1391.5,91.5 1409.3,91.9 1426.1,92.8 1442,94.6 1457.3,96.3 1472,98.5 1486.2,101 1500,103.5" fill="none" stroke="#000" stroke-width="2.7" stroke-linejoin="round" /><polygon points="1211.4,324.6 1212.8,328.8 1217.3,328.9 1213.7,331.6 1215,335.8 1211.4,333.3 1207.8,335.8 1209.1,331.6 1205.5,328.9 1210,328.8" fill="#000" stroke="#000" stroke-width="1.2"/><polygon points="1218.6,324.6 1220,328.8 1224.5,328.9 1220.9,331.6 1222.2,335.8 1218.6,333.3 1215,335.8 1216.3,331.6 1212.7,328.9 1217.2,328.8" fill="#000" stroke="#000" stroke-width="1.2"/><polygon points="1223.6,252.6 1225,256.8 1229.5,256.9 1225.9,259.6 1227.2,263.8 1223.6,261.3 1220,263.8 1221.3,259.6 1217.7,256.9 1222.2,256.8" fill="#000" stroke="#000" stroke-width="1.2"/><polygon points="1246.8,216.6 1248.2,220.8 1252.7,220.9 1249.1,223.6 1250.4,227.8 1246.8,225.3 1243.2,227.8 1244.5,223.6 1240.9,220.9 1245.4,220.8" fill="#000" stroke="#000" stroke-width="1.2"/><polygon points="1257.9,180.6 1259.3,184.8 1263.8,184.9 1260.2,187.6 1261.5,191.8 1257.9,189.3 1254.3,191.8 1255.6,187.6 1252,184.9 1256.5,184.8" fill="#000" stroke="#000" stroke-width="1.2"/><polygon points="1274.6,144.6 1276,148.8 1280.5,148.9 1276.9,151.6 1278.2,155.8 1274.6,153.3 1271,155.8 1272.3,151.6 1268.7,148.9 1273.2,148.8" fill="#000" stroke="#000" stroke-width="1.2"/><polygon points="1296.6,111.9 1298,116.1 1302.5,116.2 1298.9,118.9 1300.2,123.1 1296.6,120.6 1293,123.1 1294.3,118.9 1290.7,116.2 1295.2,116.1" fill="#000" stroke="#000" stroke-width="1.2"/><polygon points="1327.9,92.6 1329.3,96.8 1333.8,96.9 1330.2,99.6 1331.5,103.8 1327.9,101.3 1324.3,103.8 1325.6,99.6 1322,96.9 1326.5,96.8" fill="#000" stroke="#000" stroke-width="1.2"/><polygon points="1351.6,87.4 1353,91.6 1357.5,91.7 1353.9,94.4 1355.2,98.6 1351.6,96.1 1348,98.6 1349.3,94.4 1345.7,91.7 1350.2,91.6" fill="#000" stroke="#000" stroke-width="1.2"/><polygon points="1372.5,85.7 1373.9,89.9 1378.4,90 1374.8,92.7 1376.1,96.9 1372.5,94.4 1368.9,96.9 1370.2,92.7 1366.6,90 1371.1,89.9" fill="#000" stroke="#000" stroke-width="1.2"/><polygon points="1391.5,85.3 1392.9,89.5 1397.4,89.6 1393.8,92.3 1395.1,96.5 1391.5,94 1387.9,96.5 1389.2,92.3 1385.6,89.6 1390.1,89.5" fill="#000" stroke="#000" stroke-width="1.2"/><polygon points="1409.3,85.7 1410.7,89.9 1415.2,90 1411.6,92.7 1412.9,96.9 1409.3,94.4 1405.7,96.9 1407,92.7 1403.4,90 1407.9,89.9" fill="#000" stroke="#000" stroke-width="1.2"/><polygon points="1426.1,86.6 1427.5,90.8 1432,90.9 1428.4,93.6 1429.7,97.8 1426.1,95.3 1422.5,97.8 1423.8,93.6 1420.2,90.9 1424.7,90.8" fill="#000" stroke="#000" stroke-width="1.2"/><polygon points="1442,88.4 1443.4,92.6 1447.9,92.7 1444.3,95.4 1445.6,99.6 1442,97.1 1438.4,99.6 1439.7,95.4 1436.1,92.7 1440.6,92.6" fill="#000" stroke="#000" stroke-width="1.2"/><polygon points="1457.3,90.1 1458.7,94.3 1463.2,94.4 1459.6,97.1 1460.9,101.3 1457.3,98.8 1453.7,101.3 1455,97.1 1451.4,94.4 1455.9,94.3" fill="#000" stroke="#000" stroke-width="1.2"/><polygon points="1472,92.3 1473.4,96.5 1477.9,96.6 1474.3,99.3 1475.6,103.5 1472,101 1468.4,103.5 1469.7,99.3 1466.1,96.6 1470.6,96.5" fill="#000" stroke="#000" stroke-width="1.2"/><polygon points="1486.2,94.8 1487.6,99 1492.1,99.1 1488.5,101.8 1489.8,106 1486.2,103.5 1482.6,106 1483.9,101.8 1480.3,99.1 1484.8,99" fill="#000" stroke="#000" stroke-width="1.2"/><polygon points="1500,97.3 1501.4,101.5 1505.9,101.6 1502.3,104.3 1503.6,108.5 1500,106 1496.4,108.5 1497.7,104.3 1494.1,101.6 1498.6,101.5" fill="#000" stroke="#000" stroke-width="1.2"/>
<polyline points="1190.6,475.8 1217.8,294.5 1227.5,294.5 1252.3,222.5 1265,186.5 1284.5,150.5 1309.5,118.1 1338.9,101.1 1360.4,95.9 1379.5,93.6 1396.9,92.7 1413.1,92.7 1428.5,93.5 1443.1,95 1457.1,96.5 1470.5,98.6 1483.5,101.1 1496,103.7 1497,101 1584.4,117.1" fill="none" stroke="#000" stroke-width="2.7" stroke-linejoin="round" /><polygon points="1217.8,288.1 1224.6,299.5 1211.1,299.5" fill="#000" stroke="#000" stroke-width="1.2"/><polygon points="1227.5,288.1 1234.2,299.5 1220.8,299.5" fill="#000" stroke="#000" stroke-width="1.2"/><polygon points="1252.3,216.1 1259,227.5 1245.6,227.5" fill="#000" stroke="#000" stroke-width="1.2"/><polygon points="1265,180.1 1271.7,191.5 1258.3,191.5" fill="#000" stroke="#000" stroke-width="1.2"/><polygon points="1284.5,144.1 1291.2,155.5 1277.8,155.5" fill="#000" stroke="#000" stroke-width="1.2"/><polygon points="1309.5,111.7 1316.2,123.1 1302.8,123.1" fill="#000" stroke="#000" stroke-width="1.2"/><polygon points="1338.9,94.7 1345.6,106.1 1332.2,106.1" fill="#000" stroke="#000" stroke-width="1.2"/><polygon points="1360.4,89.5 1367.1,100.9 1353.7,100.9" fill="#000" stroke="#000" stroke-width="1.2"/><polygon points="1379.5,87.2 1386.2,98.6 1372.8,98.6" fill="#000" stroke="#000" stroke-width="1.2"/><polygon points="1396.9,86.3 1403.6,97.7 1390.2,97.7" fill="#000" stroke="#000" stroke-width="1.2"/><polygon points="1413.1,86.3 1419.8,97.7 1406.4,97.7" fill="#000" stroke="#000" stroke-width="1.2"/><polygon points="1428.5,87.1 1435.2,98.5 1421.8,98.5" fill="#000" stroke="#000" stroke-width="1.2"/><polygon points="1443.1,88.6 1449.8,100 1436.4,100" fill="#000" stroke="#000" stroke-width="1.2"/><polygon points="1457.1,90.1 1463.8,101.5 1450.4,101.5" fill="#000" stroke="#000" stroke-width="1.2"/><polygon points="1470.5,92.2 1477.2,103.6 1463.8,103.6" fill="#000" stroke="#000" stroke-width="1.2"/><polygon points="1483.5,94.7 1490.2,106.1 1476.8,106.1" fill="#000" stroke="#000" stroke-width="1.2"/><polygon points="1496,97.3 1502.7,108.7 1489.3,108.7" fill="#000" stroke="#000" stroke-width="1.2"/><polygon points="1497,94.6 1503.7,106 1490.3,106" fill="#000" stroke="#000" stroke-width="1.2"/><polygon points="1584.4,110.7 1591.1,122.1 1577.7,122.1" fill="#000" stroke="#000" stroke-width="1.2"/>
<polyline points="1190.6,475.8 1221.1,258.2 1230.6,258.2 1257.9,222.2 1272.2,186.2 1294.5,150.2 1322.4,118.1 1349.8,103.4 1369.3,98.2 1386.4,95.4 1402.2,93.9 1417,93.6 1430.9,94.1 1444.1,95.4 1456.9,96.7 1469,98.7 1480.7,101.2 1492,104" fill="none" stroke="#000" stroke-width="2.7" stroke-linejoin="round" /><polygon points="1221.1,250.8 1228.4,258.2 1221.1,265.6 1213.7,258.2" fill="#000" stroke="#000" stroke-width="1.2"/><polygon points="1230.6,250.8 1237.9,258.2 1230.6,265.6 1223.2,258.2" fill="#000" stroke="#000" stroke-width="1.2"/><polygon points="1257.9,214.8 1265.3,222.2 1257.9,229.6 1250.5,222.2" fill="#000" stroke="#000" stroke-width="1.2"/><polygon points="1272.2,178.8 1279.6,186.2 1272.2,193.6 1264.8,186.2" fill="#000" stroke="#000" stroke-width="1.2"/><polygon points="1294.5,142.8 1301.9,150.2 1294.5,157.6 1287.1,150.2" fill="#000" stroke="#000" stroke-width="1.2"/><polygon points="1322.4,110.7 1329.8,118.1 1322.4,125.5 1315,118.1" fill="#000" stroke="#000" stroke-width="1.2"/><polygon points="1349.8,96 1357.2,103.4 1349.8,110.8 1342.4,103.4" fill="#000" stroke="#000" stroke-width="1.2"/><polygon points="1369.3,90.8 1376.7,98.2 1369.3,105.6 1361.9,98.2" fill="#000" stroke="#000" stroke-width="1.2"/><polygon points="1386.4,88 1393.8,95.4 1386.4,102.8 1379,95.4" fill="#000" stroke="#000" stroke-width="1.2"/><polygon points="1402.2,86.5 1409.6,93.9 1402.2,101.3 1394.8,93.9" fill="#000" stroke="#000" stroke-width="1.2"/><polygon points="1417,86.2 1424.4,93.6 1417,101 1409.6,93.6" fill="#000" stroke="#000" stroke-width="1.2"/><polygon points="1430.9,86.7 1438.3,94.1 1430.9,101.5 1423.5,94.1" fill="#000" stroke="#000" stroke-width="1.2"/><polygon points="1444.1,88 1451.5,95.4 1444.1,102.8 1436.7,95.4" fill="#000" stroke="#000" stroke-width="1.2"/><polygon points="1456.9,89.3 1464.3,96.7 1456.9,104.1 1449.5,96.7" fill="#000" stroke="#000" stroke-width="1.2"/><polygon points="1469,91.3 1476.4,98.7 1469,106.1 1461.6,98.7" fill="#000" stroke="#000" stroke-width="1.2"/><polygon points="1480.7,93.8 1488.1,101.2 1480.7,108.6 1473.3,101.2" fill="#000" stroke="#000" stroke-width="1.2"/><polygon points="1492,96.6 1499.4,104 1492,111.4 1484.6,104" fill="#000" stroke="#000" stroke-width="1.2"/>
<polyline points="1190.6,475.8 1191.2,439.3 1201.2,439.3 1203.2,408.3 1208.2,358.2 1220.2,256.4 1229.9,206.3 1238.9,168.2 1246.3,127.2 1244,108 1240,95 1235,87 1231,84.5 1227,84 1223,85 1219,87.5 1215.5,91 1212.5,95.5 1210,100 1207,107 1201.2,119.5" fill="none" stroke="#000" stroke-width="2.7" stroke-linejoin="round" /><rect x="1186.5" y="434.6" width="9.5" height="9.5" fill="#fff" stroke="#000" stroke-width="1.2"/><rect x="1196.5" y="434.6" width="9.5" height="9.5" fill="#fff" stroke="#000" stroke-width="1.2"/><rect x="1198.5" y="403.6" width="9.5" height="9.5" fill="#fff" stroke="#000" stroke-width="1.2"/><rect x="1203.5" y="353.4" width="9.5" height="9.5" fill="#fff" stroke="#000" stroke-width="1.2"/><rect x="1215.5" y="251.6" width="9.5" height="9.5" fill="#fff" stroke="#000" stroke-width="1.2"/><rect x="1225.2" y="201.6" width="9.5" height="9.5" fill="#fff" stroke="#000" stroke-width="1.2"/><rect x="1234.2" y="163.4" width="9.5" height="9.5" fill="#fff" stroke="#000" stroke-width="1.2"/><rect x="1241.5" y="122.5" width="9.5" height="9.5" fill="#fff" stroke="#000" stroke-width="1.2"/><rect x="1239.2" y="103.2" width="9.5" height="9.5" fill="#fff" stroke="#000" stroke-width="1.2"/><rect x="1235.2" y="90.2" width="9.5" height="9.5" fill="#fff" stroke="#000" stroke-width="1.2"/><rect x="1230.2" y="82.2" width="9.5" height="9.5" fill="#fff" stroke="#000" stroke-width="1.2"/><rect x="1226.2" y="79.8" width="9.5" height="9.5" fill="#fff" stroke="#000" stroke-width="1.2"/><rect x="1222.2" y="79.2" width="9.5" height="9.5" fill="#fff" stroke="#000" stroke-width="1.2"/><rect x="1218.2" y="80.2" width="9.5" height="9.5" fill="#fff" stroke="#000" stroke-width="1.2"/><rect x="1214.2" y="82.8" width="9.5" height="9.5" fill="#fff" stroke="#000" stroke-width="1.2"/><rect x="1210.8" y="86.2" width="9.5" height="9.5" fill="#fff" stroke="#000" stroke-width="1.2"/><rect x="1207.8" y="90.8" width="9.5" height="9.5" fill="#fff" stroke="#000" stroke-width="1.2"/><rect x="1205.2" y="95.2" width="9.5" height="9.5" fill="#fff" stroke="#000" stroke-width="1.2"/><rect x="1202.2" y="102.2" width="9.5" height="9.5" fill="#fff" stroke="#000" stroke-width="1.2"/><rect x="1196.5" y="114.8" width="9.5" height="9.5" fill="#fff" stroke="#000" stroke-width="1.2"/>
<polyline points="1190.6,475.8 1197.2,403.2 1208.6,403.2 1216.2,313.1 1230.3,221.9 1238.9,185.8 1249.3,148.2 1249.9,113.1 1248,100 1244,92 1240,88 1236,86.5 1232,86.5 1228,87.5 1224,90 1221,93.2 1216,99 1210.4,108" fill="none" stroke="#000" stroke-width="2.7" stroke-linejoin="round" /><circle cx="1197.2" cy="403.2" r="5" fill="#fff" stroke="#000" stroke-width="1.2"/><circle cx="1208.6" cy="403.2" r="5" fill="#fff" stroke="#000" stroke-width="1.2"/><circle cx="1216.2" cy="313.1" r="5" fill="#fff" stroke="#000" stroke-width="1.2"/><circle cx="1230.3" cy="221.9" r="5" fill="#fff" stroke="#000" stroke-width="1.2"/><circle cx="1238.9" cy="185.8" r="5" fill="#fff" stroke="#000" stroke-width="1.2"/><circle cx="1249.3" cy="148.2" r="5" fill="#fff" stroke="#000" stroke-width="1.2"/><circle cx="1249.9" cy="113.1" r="5" fill="#fff" stroke="#000" stroke-width="1.2"/><circle cx="1248" cy="100" r="5" fill="#fff" stroke="#000" stroke-width="1.2"/><circle cx="1244" cy="92" r="5" fill="#fff" stroke="#000" stroke-width="1.2"/><circle cx="1240" cy="88" r="5" fill="#fff" stroke="#000" stroke-width="1.2"/><circle cx="1236" cy="86.5" r="5" fill="#fff" stroke="#000" stroke-width="1.2"/><circle cx="1232" cy="86.5" r="5" fill="#fff" stroke="#000" stroke-width="1.2"/><circle cx="1228" cy="87.5" r="5" fill="#fff" stroke="#000" stroke-width="1.2"/><circle cx="1224" cy="90" r="5" fill="#fff" stroke="#000" stroke-width="1.2"/><circle cx="1221" cy="93.2" r="5" fill="#fff" stroke="#000" stroke-width="1.2"/><circle cx="1216" cy="99" r="5" fill="#fff" stroke="#000" stroke-width="1.2"/><circle cx="1210.4" cy="108" r="5" fill="#fff" stroke="#000" stroke-width="1.2"/>
<polyline points="1190.6,475.8 1202.2,367.2 1217.2,367.2 1219.2,292.1 1231.3,240.3 1239.3,203.3 1249.3,167.2 1259.3,132.2 1262,112 1259,102 1255,95 1250,90.5 1245,88.5 1240,88.5 1235,90 1230,92.5 1226,94 1214,110" fill="none" stroke="#000" stroke-width="2.7" stroke-linejoin="round" /><polygon points="1197.7,361.3 1197.7,373.1 1208.3,367.2" fill="#fff" stroke="#000" stroke-width="1.2"/><polygon points="1212.7,361.3 1212.7,373.1 1223.3,367.2" fill="#fff" stroke="#000" stroke-width="1.2"/><polygon points="1214.7,286.2 1214.7,298 1225.3,292.1" fill="#fff" stroke="#000" stroke-width="1.2"/><polygon points="1226.8,234.4 1226.8,246.2 1237.4,240.3" fill="#fff" stroke="#000" stroke-width="1.2"/><polygon points="1234.8,197.4 1234.8,209.2 1245.4,203.3" fill="#fff" stroke="#000" stroke-width="1.2"/><polygon points="1244.8,161.3 1244.8,173.1 1255.4,167.2" fill="#fff" stroke="#000" stroke-width="1.2"/><polygon points="1254.8,126.3 1254.8,138.1 1265.4,132.2" fill="#fff" stroke="#000" stroke-width="1.2"/><polygon points="1257.5,106.1 1257.5,117.9 1268.1,112" fill="#fff" stroke="#000" stroke-width="1.2"/><polygon points="1254.5,96.1 1254.5,107.9 1265.1,102" fill="#fff" stroke="#000" stroke-width="1.2"/><polygon points="1250.5,89.1 1250.5,100.9 1261.1,95" fill="#fff" stroke="#000" stroke-width="1.2"/><polygon points="1245.5,84.6 1245.5,96.4 1256.1,90.5" fill="#fff" stroke="#000" stroke-width="1.2"/><polygon points="1240.5,82.6 1240.5,94.4 1251.1,88.5" fill="#fff" stroke="#000" stroke-width="1.2"/><polygon points="1235.5,82.6 1235.5,94.4 1246.1,88.5" fill="#fff" stroke="#000" stroke-width="1.2"/><polygon points="1230.5,84.1 1230.5,95.9 1241.1,90" fill="#fff" stroke="#000" stroke-width="1.2"/><polygon points="1225.5,86.6 1225.5,98.4 1236.1,92.5" fill="#fff" stroke="#000" stroke-width="1.2"/><polygon points="1221.5,88.1 1221.5,99.9 1232.1,94" fill="#fff" stroke="#000" stroke-width="1.2"/><polygon points="1209.5,104.1 1209.5,115.9 1220.1,110" fill="#fff" stroke="#000" stroke-width="1.2"/>
<polyline points="1190.6,475.8 1204.2,332.1 1222.2,332.1 1226.2,290.1 1241.3,222.3 1250.3,186.2 1259.3,158.2 1264.3,130.2 1267,115 1265,106 1261,99 1256,94 1251,91.5 1246,91 1241,92 1236,95 1228,100" fill="none" stroke="#000" stroke-width="2.7" stroke-linejoin="round" /><polygon points="1204.2,326.6 1205.5,330.3 1209.4,330.4 1206.3,332.8 1207.4,336.6 1204.2,334.3 1201,336.6 1202.1,332.8 1199,330.4 1202.9,330.3" fill="#fff" stroke="#000" stroke-width="1.2"/><polygon points="1222.2,326.6 1223.5,330.3 1227.4,330.4 1224.3,332.8 1225.4,336.6 1222.2,334.3 1219,336.6 1220.1,332.8 1217,330.4 1220.9,330.3" fill="#fff" stroke="#000" stroke-width="1.2"/><polygon points="1226.2,284.6 1227.5,288.3 1231.4,288.4 1228.3,290.8 1229.4,294.6 1226.2,292.3 1223,294.6 1224.1,290.8 1221,288.4 1224.9,288.3" fill="#fff" stroke="#000" stroke-width="1.2"/><polygon points="1241.3,216.8 1242.6,220.5 1246.5,220.6 1243.4,223 1244.5,226.8 1241.3,224.5 1238.1,226.8 1239.2,223 1236.1,220.6 1240,220.5" fill="#fff" stroke="#000" stroke-width="1.2"/><polygon points="1250.3,180.7 1251.6,184.4 1255.5,184.5 1252.4,186.9 1253.5,190.7 1250.3,188.4 1247.1,190.7 1248.2,186.9 1245.1,184.5 1249,184.4" fill="#fff" stroke="#000" stroke-width="1.2"/><polygon points="1259.3,152.7 1260.6,156.4 1264.5,156.5 1261.4,158.9 1262.5,162.7 1259.3,160.4 1256.1,162.7 1257.2,158.9 1254.1,156.5 1258,156.4" fill="#fff" stroke="#000" stroke-width="1.2"/><polygon points="1264.3,124.7 1265.6,128.4 1269.5,128.5 1266.4,130.9 1267.5,134.7 1264.3,132.4 1261.1,134.7 1262.2,130.9 1259.1,128.5 1263,128.4" fill="#fff" stroke="#000" stroke-width="1.2"/><polygon points="1267,109.5 1268.3,113.2 1272.2,113.3 1269.1,115.7 1270.2,119.5 1267,117.2 1263.8,119.5 1264.9,115.7 1261.8,113.3 1265.7,113.2" fill="#fff" stroke="#000" stroke-width="1.2"/><polygon points="1265,100.5 1266.3,104.2 1270.2,104.3 1267.1,106.7 1268.2,110.5 1265,108.2 1261.8,110.5 1262.9,106.7 1259.8,104.3 1263.7,104.2" fill="#fff" stroke="#000" stroke-width="1.2"/><polygon points="1261,93.5 1262.3,97.2 1266.2,97.3 1263.1,99.7 1264.2,103.5 1261,101.2 1257.8,103.5 1258.9,99.7 1255.8,97.3 1259.7,97.2" fill="#fff" stroke="#000" stroke-width="1.2"/><polygon points="1256,88.5 1257.3,92.2 1261.2,92.3 1258.1,94.7 1259.2,98.5 1256,96.2 1252.8,98.5 1253.9,94.7 1250.8,92.3 1254.7,92.2" fill="#fff" stroke="#000" stroke-width="1.2"/><polygon points="1251,86 1252.3,89.7 1256.2,89.8 1253.1,92.2 1254.2,96 1251,93.7 1247.8,96 1248.9,92.2 1245.8,89.8 1249.7,89.7" fill="#fff" stroke="#000" stroke-width="1.2"/><polygon points="1246,85.5 1247.3,89.2 1251.2,89.3 1248.1,91.7 1249.2,95.5 1246,93.2 1242.8,95.5 1243.9,91.7 1240.8,89.3 1244.7,89.2" fill="#fff" stroke="#000" stroke-width="1.2"/><polygon points="1241,86.5 1242.3,90.2 1246.2,90.3 1243.1,92.7 1244.2,96.5 1241,94.2 1237.8,96.5 1238.9,92.7 1235.8,90.3 1239.7,90.2" fill="#fff" stroke="#000" stroke-width="1.2"/><polygon points="1236,89.5 1237.3,93.2 1241.2,93.3 1238.1,95.7 1239.2,99.5 1236,97.2 1232.8,99.5 1233.9,95.7 1230.8,93.3 1234.7,93.2" fill="#fff" stroke="#000" stroke-width="1.2"/><polygon points="1228,94.5 1229.3,98.2 1233.2,98.3 1230.1,100.7 1231.2,104.5 1228,102.2 1224.8,104.5 1225.9,100.7 1222.8,98.3 1226.7,98.2" fill="#fff" stroke="#000" stroke-width="1.2"/>
<polyline points="1190.6,475.8 1208.2,295.1 1232.3,295.1 1232.3,276.1 1243.3,239.3 1248.3,198.3 1260.3,158.2 1269.3,119.1 1271,108 1267,101 1262,96.5 1257,94 1252,93 1247,93.5 1242,96 1229.5,107 1209.5,118" fill="none" stroke="#000" stroke-width="2.7" stroke-linejoin="round" /><polygon points="1208.2,289.3 1214.3,299.7 1202.1,299.7" fill="#fff" stroke="#000" stroke-width="1.2"/><polygon points="1232.3,289.3 1238.4,299.7 1226.2,299.7" fill="#fff" stroke="#000" stroke-width="1.2"/><polygon points="1232.3,270.3 1238.4,280.7 1226.2,280.7" fill="#fff" stroke="#000" stroke-width="1.2"/><polygon points="1243.3,233.5 1249.4,243.9 1237.2,243.9" fill="#fff" stroke="#000" stroke-width="1.2"/><polygon points="1248.3,192.5 1254.4,202.9 1242.2,202.9" fill="#fff" stroke="#000" stroke-width="1.2"/><polygon points="1260.3,152.4 1266.4,162.8 1254.2,162.8" fill="#fff" stroke="#000" stroke-width="1.2"/><polygon points="1269.3,113.3 1275.4,123.7 1263.2,123.7" fill="#fff" stroke="#000" stroke-width="1.2"/><polygon points="1271,102.2 1277.1,112.6 1264.9,112.6" fill="#fff" stroke="#000" stroke-width="1.2"/><polygon points="1267,95.2 1273.1,105.6 1260.9,105.6" fill="#fff" stroke="#000" stroke-width="1.2"/><polygon points="1262,90.7 1268.1,101.1 1255.9,101.1" fill="#fff" stroke="#000" stroke-width="1.2"/><polygon points="1257,88.2 1263.1,98.6 1250.9,98.6" fill="#fff" stroke="#000" stroke-width="1.2"/><polygon points="1252,87.2 1258.1,97.6 1245.9,97.6" fill="#fff" stroke="#000" stroke-width="1.2"/><polygon points="1247,87.7 1253.1,98.1 1240.9,98.1" fill="#fff" stroke="#000" stroke-width="1.2"/><polygon points="1242,90.2 1248.1,100.6 1235.9,100.6" fill="#fff" stroke="#000" stroke-width="1.2"/><polygon points="1229.5,101.2 1235.6,111.6 1223.4,111.6" fill="#fff" stroke="#000" stroke-width="1.2"/><polygon points="1209.5,112.2 1215.6,122.6 1203.4,122.6" fill="#fff" stroke="#000" stroke-width="1.2"/>
<polyline points="1190.6,475.8 1211.6,258.4 1235.3,259 1245.3,227.3 1262.7,179.2 1269.9,146.2 1278.3,117.1 1279,115 1277,111 1274.5,107.5 1271.5,104.5 1268,102 1264.5,100.2 1261,99 1257.5,98.3 1254,98 1250.5,98.3 1247,99 1243.5,100.3 1240,101.5 1236.5,102.4" fill="none" stroke="#000" stroke-width="2.7" stroke-linejoin="round" /><polygon points="1211.6,251.7 1218.2,258.4 1211.6,265 1204.9,258.4" fill="#fff" stroke="#000" stroke-width="1.2"/><polygon points="1235.3,252.3 1242,259 1235.3,265.6 1228.6,259" fill="#fff" stroke="#000" stroke-width="1.2"/><polygon points="1245.3,220.7 1252,227.3 1245.3,234 1238.6,227.3" fill="#fff" stroke="#000" stroke-width="1.2"/><polygon points="1262.7,172.5 1269.4,179.2 1262.7,185.8 1256,179.2" fill="#fff" stroke="#000" stroke-width="1.2"/><polygon points="1269.9,139.5 1276.6,146.2 1269.9,152.8 1263.2,146.2" fill="#fff" stroke="#000" stroke-width="1.2"/><polygon points="1278.3,110.4 1285,117.1 1278.3,123.8 1271.6,117.1" fill="#fff" stroke="#000" stroke-width="1.2"/><polygon points="1279,108.3 1285.7,115 1279,121.7 1272.3,115" fill="#fff" stroke="#000" stroke-width="1.2"/><polygon points="1277,104.3 1283.7,111 1277,117.7 1270.3,111" fill="#fff" stroke="#000" stroke-width="1.2"/><polygon points="1274.5,100.8 1281.2,107.5 1274.5,114.2 1267.8,107.5" fill="#fff" stroke="#000" stroke-width="1.2"/><polygon points="1271.5,97.8 1278.2,104.5 1271.5,111.2 1264.8,104.5" fill="#fff" stroke="#000" stroke-width="1.2"/><polygon points="1268,95.3 1274.7,102 1268,108.7 1261.3,102" fill="#fff" stroke="#000" stroke-width="1.2"/><polygon points="1264.5,93.5 1271.2,100.2 1264.5,106.9 1257.8,100.2" fill="#fff" stroke="#000" stroke-width="1.2"/><polygon points="1261,92.3 1267.7,99 1261,105.7 1254.3,99" fill="#fff" stroke="#000" stroke-width="1.2"/><polygon points="1257.5,91.6 1264.2,98.3 1257.5,105 1250.8,98.3" fill="#fff" stroke="#000" stroke-width="1.2"/><polygon points="1254,91.3 1260.7,98 1254,104.7 1247.3,98" fill="#fff" stroke="#000" stroke-width="1.2"/><polygon points="1250.5,91.6 1257.2,98.3 1250.5,105 1243.8,98.3" fill="#fff" stroke="#000" stroke-width="1.2"/><polygon points="1247,92.3 1253.7,99 1247,105.7 1240.3,99" fill="#fff" stroke="#000" stroke-width="1.2"/><polygon points="1243.5,93.6 1250.2,100.3 1243.5,107 1236.8,100.3" fill="#fff" stroke="#000" stroke-width="1.2"/><polygon points="1240,94.8 1246.7,101.5 1240,108.2 1233.3,101.5" fill="#fff" stroke="#000" stroke-width="1.2"/><polygon points="1236.5,95.8 1243.2,102.4 1236.5,109.1 1229.8,102.4" fill="#fff" stroke="#000" stroke-width="1.2"/>
<polygon points="1190.6,468.4 1197,479.3 1184.2,479.3" fill="#fff" stroke="#000" stroke-width="1.2"/>
<ellipse cx="1241" cy="210.5" rx="18" ry="71.5" fill="none" stroke="#222" stroke-width="1.1"/>
<line x1="1363.7" y1="147.6" x2="1410.8" y2="147.6" stroke="#000" stroke-width="2.7"/>
<rect x="1382.3" y="142.4" width="10.4" height="10.4" fill="#000" stroke="#000" stroke-width="1.2"/>
<text x="1416.2" y="154.2" font-size="20.4" text-anchor="start" >CFT-30-0.1-0-CR-1</text>
<line x1="1368.7" y1="172.9" x2="1415.8" y2="172.9" stroke="#000" stroke-width="2.7"/>
<rect x="1387.8" y="168.2" width="9.3" height="9.3" fill="#fff" stroke="#000" stroke-width="1.2"/>
<text x="1421.2" y="179.5" font-size="20.4" text-anchor="start" >CFT-30-0.1-0-CR-3</text>
<line x1="1363.7" y1="198.2" x2="1410.8" y2="198.2" stroke="#000" stroke-width="2.7"/>
<circle cx="1387.5" cy="198.2" r="5.6" fill="#000" stroke="#000" stroke-width="1.2"/>
<text x="1416.2" y="204.8" font-size="20.4" text-anchor="start" >CFT-30-0.2-0-CR-1</text>
<line x1="1368.7" y1="223.5" x2="1415.8" y2="223.5" stroke="#000" stroke-width="2.7"/>
<circle cx="1392.5" cy="223.5" r="4.9" fill="#fff" stroke="#000" stroke-width="1.2"/>
<text x="1421.2" y="230.1" font-size="20.4" text-anchor="start" >CFT-30-0.2-0-CR-3</text>
<line x1="1363.7" y1="248.8" x2="1410.8" y2="248.8" stroke="#000" stroke-width="2.7"/>
<polygon points="1382.4,242.2 1382.4,255.4 1394.5,248.8" fill="#000" stroke="#000" stroke-width="1.2"/>
<text x="1416.2" y="255.4" font-size="20.4" text-anchor="start" >CFT-30-0.3-0-CR-1</text>
<line x1="1368.7" y1="274.1" x2="1415.8" y2="274.1" stroke="#000" stroke-width="2.7"/>
<polygon points="1388.1,268.4 1388.1,279.8 1398.5,274.1" fill="#fff" stroke="#000" stroke-width="1.2"/>
<text x="1421.2" y="280.7" font-size="20.4" text-anchor="start" >CFT-30-0.3-0-CR-3</text>
<line x1="1363.7" y1="299.4" x2="1410.8" y2="299.4" stroke="#000" stroke-width="2.7"/>
<polygon points="1387.5,293.2 1389,297.4 1393.4,297.5 1389.9,300.2 1391.2,304.4 1387.5,301.9 1383.8,304.4 1385.1,300.2 1381.6,297.5 1386,297.4" fill="#000" stroke="#000" stroke-width="1.2"/>
<text x="1416.2" y="306" font-size="20.4" text-anchor="start" >CFT-30-0.4-0-CR-1</text>
<line x1="1368.7" y1="324.7" x2="1415.8" y2="324.7" stroke="#000" stroke-width="2.7"/>
<polygon points="1392.5,319.3 1393.8,323 1397.6,323 1394.6,325.4 1395.7,329.1 1392.5,326.9 1389.3,329.1 1390.4,325.4 1387.4,323 1391.2,323" fill="#fff" stroke="#000" stroke-width="1.2"/>
<text x="1421.2" y="331.3" font-size="20.4" text-anchor="start" >CFT-30-0.4-0-CR-3</text>
<line x1="1363.7" y1="350" x2="1410.8" y2="350" stroke="#000" stroke-width="2.7"/>
<polygon points="1387.5,343.6 1394.3,355.1 1380.7,355.1" fill="#000" stroke="#000" stroke-width="1.2"/>
<text x="1416.2" y="356.6" font-size="20.4" text-anchor="start" >CFT-30-0.5-0-CR-1</text>
<line x1="1368.7" y1="375.3" x2="1415.8" y2="375.3" stroke="#000" stroke-width="2.7"/>
<polygon points="1392.5,369.6 1398.5,379.8 1386.5,379.8" fill="#fff" stroke="#000" stroke-width="1.2"/>
<text x="1421.2" y="381.9" font-size="20.4" text-anchor="start" >CFT-30-0.5-0-CR-3</text>
<line x1="1363.7" y1="400.6" x2="1410.8" y2="400.6" stroke="#000" stroke-width="2.7"/>
<polygon points="1387.5,393.2 1394.9,400.6 1387.5,408 1380.1,400.6" fill="#000" stroke="#000" stroke-width="1.2"/>
<text x="1416.2" y="407.2" font-size="20.4" text-anchor="start" >CFT-30-0.6-0-CR-1</text>
<line x1="1368.7" y1="425.9" x2="1415.8" y2="425.9" stroke="#000" stroke-width="2.7"/>
<polygon points="1392.5,419.4 1399,425.9 1392.5,432.4 1386,425.9" fill="#fff" stroke="#000" stroke-width="1.2"/>
<text x="1421.2" y="432.5" font-size="20.4" text-anchor="start" >CFT-30-0.6-0-CR-3</text>
<text x="1052.5" y="224.5" font-size="22.5" text-anchor="start" >Elastic-plastic</text>
<text x="1052.5" y="254.5" font-size="22.5" text-anchor="start" >stage</text>
<line x1="1180" y1="224" x2="1216.1" y2="230" stroke="#000" stroke-width="1.5"/><polygon points="1225,231.5 1213.6,233.2 1214.7,226.1" fill="#000"/>
<text x="1082" y="446" font-size="20.5" text-anchor="start" ><tspan font-style="italic">ε</tspan><tspan font-size="14" dy="5">p</tspan><tspan dy="-5">=1415με</tspan></text>
<line x1="1166.5" y1="449" x2="1215.2" y2="469.9" stroke="#000" stroke-width="1.5"/><polygon points="1223.5,473.5 1212,472.5 1214.8,465.8" fill="#000"/>
<text x="1259" y="441.5" font-size="20.5" text-anchor="start" ><tspan font-style="italic">ε</tspan><tspan font-size="14" dy="5">e1</tspan><tspan dy="-5">=2500με</tspan></text>
<line x1="1285" y1="449" x2="1261.5" y2="467.9" stroke="#000" stroke-width="1.5"/><polygon points="1254.5,473.5 1260.8,463.8 1265.3,469.4" fill="#000"/>
<circle cx="1645.2" cy="84.2" r="47" fill="none" stroke="#000" stroke-width="1.7"/><line x1="1598.2" y1="86.2" x2="1692.2" y2="86.2" stroke="#000" stroke-width="1.5" stroke-dasharray="7 4.5"/><line x1="1645.2" y1="12.700000000000003" x2="1645.2" y2="155.7" stroke="#000" stroke-width="1.5" stroke-dasharray="8 3 2 3"/><rect x="1639.2" y="33.2" width="12" height="4" fill="#ccc" stroke="#888" stroke-width="0.8"/><rect x="1639.2" y="131.2" width="12" height="4" fill="#ccc" stroke="#888" stroke-width="0.8"/><rect x="1594.6000000000001" y="81.7" width="3.6" height="9" fill="#ccc" stroke="#888" stroke-width="0.8"/><rect x="1692.2" y="81.7" width="3.6" height="9" fill="#ccc" stroke="#888" stroke-width="0.8"/><text x="1586" y="93.2" font-size="21" text-anchor="middle" >1</text><text x="1704" y="92.2" font-size="21" text-anchor="middle" >3</text><text x="1656" y="27" font-size="21" text-anchor="middle" >4</text><text x="1654" y="155" font-size="21" text-anchor="middle" >2</text>
<text x="1492.3" y="25.5" font-size="20.4" text-anchor="start" >Axial loading</text>
<text x="1492.3" y="50" font-size="20.4" text-anchor="start" >specimen</text>
<line x1="1600" y1="31.5" x2="1615.5" y2="46.5" stroke="#000" stroke-width="1.1"/>
</g>
<g id="chart_c">
<path d="M346.3 705.6V1147.2M41 1147.2H589.2" stroke="#000" stroke-width="1.6" fill="none"/>
<path d="M346.3 705.6h8M346.3 794h8M346.3 882.4h8M346.3 970.8h8M346.3 1059.2h8M41 1147.2v-8.5M101.5 1147.2v-8.5M162.6 1147.2v-8.5M223.7 1147.2v-8.5M284.6 1147.2v-8.5M406.6 1147.2v-8.5M467.6 1147.2v-8.5M528.5 1147.2v-8.5M589.2 1147.2v-8.5" stroke="#000" stroke-width="1.5" fill="none"/>
<text x="334.5" y="734.7" font-size="21.6" text-anchor="end" >1000</text>
<text x="334.5" y="823.1" font-size="21.6" text-anchor="end" >800</text>
<text x="334.5" y="911.5" font-size="21.6" text-anchor="end" >600</text>
<text x="334.5" y="999.9" font-size="21.6" text-anchor="end" >400</text>
<text x="334.5" y="1088.3" font-size="21.6" text-anchor="end" >200</text>
<text x="39.2" y="1174.4" font-size="21.8" text-anchor="middle" >-20000</text>
<text x="101" y="1174.4" font-size="21.8" text-anchor="middle" >-16000</text>
<text x="162.6" y="1174.4" font-size="21.8" text-anchor="middle" >-12000</text>
<text x="223.7" y="1174.4" font-size="21.8" text-anchor="middle" >-8000</text>
<text x="284.6" y="1174.4" font-size="21.8" text-anchor="middle" >-4000</text>
<text x="345.5" y="1174.4" font-size="21.8" text-anchor="middle" >0</text>
<text x="406.2" y="1174.4" font-size="21.8" text-anchor="middle" >4000</text>
<text x="467.4" y="1174.4" font-size="21.8" text-anchor="middle" >8000</text>
<text x="528.3" y="1174.4" font-size="21.8" text-anchor="middle" >12000</text>
<text x="589.6" y="1174.4" font-size="21.8" text-anchor="middle" >16000</text>
<text x="328.8" y="1176.5" font-size="19" text-anchor="middle" >0</text>
<text x="358" y="710" font-size="24.3" text-anchor="start" >Load (<tspan font-style="italic">N</tspan>)/kN</text>
<text x="315" y="1214.1" font-size="24.8" text-anchor="middle" >Axial strain (<tspan font-style="italic" font-size="21">ε</tspan>) /με</text>
<text x="227" y="1258.5" font-size="36.5" text-anchor="start" >c)</text>
<text x="282.8" y="1258.5" font-size="36.4" text-anchor="start" >Group III</text>
<path d="M308.5 1147.2V1016M322.9 1147.2V1016" stroke="#000" stroke-width="1.7" stroke-dasharray="8 5" fill="none"/>
<line x1="298.4" y1="1132.3" x2="313.3" y2="1141.6" stroke="#000" stroke-width="0.9"/><polygon points="317.5,1144.3 310.3,1142.6 312.8,1138.5" fill="#000"/>
<g clip-path="url(#clipC)">
<path d="M345.2 1139.2L344.9 1136.3M343.6 1120.3L342.6 1102.3M341 1086.4L338.2 1066.1M336.2 1050.3L334 1031.1M322.1 1014.5L319.1 1014.5M309.4 1006.7L306.8 994.9M303 979.4L297.8 959.7M294.5 944.1L291.6 925.7M289.4 909.9L286.8 890.2M284.1 874.5L279.7 854.4M276.4 838.8L272.6 819.4M229.5 733.5L227.4 732.7M211.9 729.8L210.7 729.8M186.9 734.5L185.9 734.5M169.9 734.9L155.6 735.7M140 738.6L87.3 755.6" fill="none" stroke="#000" stroke-width="1.7"/><rect x="338.9" y="1123.1" width="10.3" height="10.3" fill="#000" stroke="#000" stroke-width="1.2"/><rect x="336.9" y="1089.1" width="10.3" height="10.3" fill="#000" stroke="#000" stroke-width="1.2"/><rect x="331.9" y="1053" width="10.3" height="10.3" fill="#000" stroke="#000" stroke-width="1.2"/><rect x="327.9" y="1018" width="10.3" height="10.3" fill="#000" stroke="#000" stroke-width="1.2"/><rect x="324.9" y="1009.3" width="10.3" height="10.3" fill="#000" stroke="#000" stroke-width="1.2"/><rect x="305.9" y="1009.3" width="10.3" height="10.3" fill="#000" stroke="#000" stroke-width="1.2"/><rect x="299.9" y="981.9" width="10.3" height="10.3" fill="#000" stroke="#000" stroke-width="1.2"/><rect x="290.5" y="946.8" width="10.3" height="10.3" fill="#000" stroke="#000" stroke-width="1.2"/><rect x="285.2" y="912.6" width="10.3" height="10.3" fill="#000" stroke="#000" stroke-width="1.2"/><rect x="280.6" y="877.1" width="10.3" height="10.3" fill="#000" stroke="#000" stroke-width="1.2"/><rect x="272.8" y="841.4" width="10.3" height="10.3" fill="#000" stroke="#000" stroke-width="1.2"/><rect x="265.8" y="806.4" width="10.3" height="10.3" fill="#000" stroke="#000" stroke-width="1.2"/><rect x="264.2" y="797.4" width="10.3" height="10.3" fill="#000" stroke="#000" stroke-width="1.2"/><rect x="262.8" y="783" width="10.3" height="10.3" fill="#000" stroke="#000" stroke-width="1.2"/><rect x="259.6" y="767.9" width="10.3" height="10.3" fill="#000" stroke="#000" stroke-width="1.2"/><rect x="253.2" y="754.3" width="10.3" height="10.3" fill="#000" stroke="#000" stroke-width="1.2"/><rect x="244.2" y="741.3" width="10.3" height="10.3" fill="#000" stroke="#000" stroke-width="1.2"/><rect x="231.8" y="730.9" width="10.3" height="10.3" fill="#000" stroke="#000" stroke-width="1.2"/><rect x="214.7" y="724.9" width="10.3" height="10.3" fill="#000" stroke="#000" stroke-width="1.2"/><rect x="197.5" y="724.3" width="10.3" height="10.3" fill="#000" stroke="#000" stroke-width="1.2"/><rect x="189.7" y="729.3" width="10.3" height="10.3" fill="#000" stroke="#000" stroke-width="1.2"/><rect x="172.7" y="729.3" width="10.3" height="10.3" fill="#000" stroke="#000" stroke-width="1.2"/><rect x="142.4" y="730.9" width="10.3" height="10.3" fill="#000" stroke="#000" stroke-width="1.2"/><rect x="74.5" y="752.9" width="10.3" height="10.3" fill="#000" stroke="#000" stroke-width="1.2"/>
<path d="M345 1139.3L344.7 1136.2M343.1 1120.3L341.7 1102.3M339.8 1086.4L336.4 1066.1M334.2 1050.3L332 1031.1M320.1 1015.7L313.9 1015.7M304.2 1007.9L301.5 995.5M297.8 980L292.4 959.7M286.2 945.2L273.6 924.2M266.8 909.8L260 890.3M254.2 875.4L252.6 871.6M245.1 857.6L242.3 853.3M230 845.8L221.3 845M205.5 842.6L204.1 842.4M188.3 840.6L177.3 840.4M162.9 845L156.6 849.9M148.6 862.5L145.4 877.5M142.3 893.2L141.3 898M137.2 913.5L136.4 915.8" fill="none" stroke="#000" stroke-width="1.7"/><circle cx="343.7" cy="1128.3" r="5.5" fill="#000" stroke="#000" stroke-width="1.2"/><circle cx="341.1" cy="1094.3" r="5.5" fill="#000" stroke="#000" stroke-width="1.2"/><circle cx="335.1" cy="1058.2" r="5.5" fill="#000" stroke="#000" stroke-width="1.2"/><circle cx="331.1" cy="1023.2" r="5.5" fill="#000" stroke="#000" stroke-width="1.2"/><circle cx="328.1" cy="1015.7" r="5.5" fill="#000" stroke="#000" stroke-width="1.2"/><circle cx="305.9" cy="1015.7" r="5.5" fill="#000" stroke="#000" stroke-width="1.2"/><circle cx="299.8" cy="987.7" r="5.5" fill="#000" stroke="#000" stroke-width="1.2"/><circle cx="290.4" cy="952" r="5.5" fill="#000" stroke="#000" stroke-width="1.2"/><circle cx="269.4" cy="917.4" r="5.5" fill="#000" stroke="#000" stroke-width="1.2"/><circle cx="257.4" cy="882.7" r="5.5" fill="#000" stroke="#000" stroke-width="1.2"/><circle cx="249.4" cy="864.3" r="5.5" fill="#000" stroke="#000" stroke-width="1.2"/><circle cx="238" cy="846.6" r="5.5" fill="#000" stroke="#000" stroke-width="1.2"/><circle cx="213.3" cy="844.2" r="5.5" fill="#000" stroke="#000" stroke-width="1.2"/><circle cx="196.3" cy="840.8" r="5.5" fill="#000" stroke="#000" stroke-width="1.2"/><circle cx="169.3" cy="840.2" r="5.5" fill="#000" stroke="#000" stroke-width="1.2"/><circle cx="150.2" cy="854.7" r="5.5" fill="#000" stroke="#000" stroke-width="1.2"/><circle cx="143.8" cy="885.3" r="5.5" fill="#000" stroke="#000" stroke-width="1.2"/><circle cx="139.8" cy="905.9" r="5.5" fill="#000" stroke="#000" stroke-width="1.2"/><circle cx="133.8" cy="923.4" r="5.5" fill="#000" stroke="#000" stroke-width="1.2"/>
<path d="M344.8 1139.3L344.3 1136.2M342.4 1120.3L340.8 1102.3M338.8 1086.4L335.4 1066.1M333.2 1050.3L331 1031.1M319.1 1016.1L308.4 1016.1M299 1008.2L296.8 996M293.3 980.4L287.5 959.7M284.1 944.1L279.7 916.2M237.6 865.4L236.7 865.2M220.9 863.1L214.3 862.9M198.8 865.4L193.8 867.2M178.6 872.2L172.5 874M157.3 879.1L142.7 884.5" fill="none" stroke="#000" stroke-width="1.7"/><polygon points="343.1,1134.2 349.4,1123.6 336.8,1123.6" fill="#000" stroke="#000" stroke-width="1.2"/><polygon points="340.1,1100.2 346.4,1089.6 333.8,1089.6" fill="#000" stroke="#000" stroke-width="1.2"/><polygon points="334.1,1064.1 340.4,1053.5 327.8,1053.5" fill="#000" stroke="#000" stroke-width="1.2"/><polygon points="330.1,1029.1 336.4,1018.5 323.8,1018.5" fill="#000" stroke="#000" stroke-width="1.2"/><polygon points="327.1,1022 333.4,1011.4 320.8,1011.4" fill="#000" stroke="#000" stroke-width="1.2"/><polygon points="300.4,1022 306.7,1011.4 294.1,1011.4" fill="#000" stroke="#000" stroke-width="1.2"/><polygon points="295.4,994 301.7,983.4 289.1,983.4" fill="#000" stroke="#000" stroke-width="1.2"/><polygon points="285.4,957.9 291.7,947.3 279.1,947.3" fill="#000" stroke="#000" stroke-width="1.2"/><polygon points="278.4,914.2 284.7,903.6 272.1,903.6" fill="#000" stroke="#000" stroke-width="1.2"/><polygon points="274.4,903.2 280.7,892.6 268.1,892.6" fill="#000" stroke="#000" stroke-width="1.2"/><polygon points="268.4,892.2 274.7,881.6 262.1,881.6" fill="#000" stroke="#000" stroke-width="1.2"/><polygon points="257.4,881.2 263.7,870.6 251.1,870.6" fill="#000" stroke="#000" stroke-width="1.2"/><polygon points="245.4,873.2 251.7,862.6 239.1,862.6" fill="#000" stroke="#000" stroke-width="1.2"/><polygon points="228.9,869.2 235.2,858.6 222.6,858.6" fill="#000" stroke="#000" stroke-width="1.2"/><polygon points="206.3,868.6 212.6,858 200,858" fill="#000" stroke="#000" stroke-width="1.2"/><polygon points="186.3,875.8 192.6,865.2 180,865.2" fill="#000" stroke="#000" stroke-width="1.2"/><polygon points="164.8,882.2 171.1,871.6 158.5,871.6" fill="#000" stroke="#000" stroke-width="1.2"/><polygon points="135.2,893.2 141.5,882.6 128.9,882.6" fill="#000" stroke="#000" stroke-width="1.2"/>
<path d="M345.6 1139.2L345.5 1138.3M345.2 1122.3L345.6 1103.3M345.3 1087.3L344.5 1067.2M343.7 1051.2L342.9 1032.2M342.5 1016.2L342.5 1014.1M342.3 998.1L342.3 997.1M342.3 981.1L342.9 961M343.2 945L343.4 925.8M343.5 909.8L343.5 890.3M343.5 874.3L343.5 854.6M343.6 838.6L344 819.6M344.6 803.6L345 796.2M380.7 735.1L389.5 735.9M404.5 740.4L428.6 754.2" fill="none" stroke="#000" stroke-width="1.7"/><rect x="340.1" y="1125.3" width="10" height="10" fill="#fff" stroke="#000" stroke-width="1.0"/><rect x="340.7" y="1090.3" width="10" height="10" fill="#fff" stroke="#000" stroke-width="1.0"/><rect x="339.1" y="1054.2" width="10" height="10" fill="#fff" stroke="#000" stroke-width="1.0"/><rect x="337.5" y="1019.2" width="10" height="10" fill="#fff" stroke="#000" stroke-width="1.0"/><rect x="337.5" y="1001.1" width="10" height="10" fill="#fff" stroke="#000" stroke-width="1.0"/><rect x="337.1" y="984.1" width="10" height="10" fill="#fff" stroke="#000" stroke-width="1.0"/><rect x="338.1" y="948" width="10" height="10" fill="#fff" stroke="#000" stroke-width="1.0"/><rect x="338.5" y="912.8" width="10" height="10" fill="#fff" stroke="#000" stroke-width="1.0"/><rect x="338.5" y="877.3" width="10" height="10" fill="#fff" stroke="#000" stroke-width="1.0"/><rect x="338.5" y="841.6" width="10" height="10" fill="#fff" stroke="#000" stroke-width="1.0"/><rect x="339.1" y="806.6" width="10" height="10" fill="#fff" stroke="#000" stroke-width="1.0"/><rect x="340.5" y="783.2" width="10" height="10" fill="#fff" stroke="#000" stroke-width="1.0"/><rect x="341.5" y="768.1" width="10" height="10" fill="#fff" stroke="#000" stroke-width="1.0"/><rect x="343.1" y="754.5" width="10" height="10" fill="#fff" stroke="#000" stroke-width="1.0"/><rect x="345.1" y="741.5" width="10" height="10" fill="#fff" stroke="#000" stroke-width="1.0"/><rect x="348.7" y="731.1" width="10" height="10" fill="#fff" stroke="#000" stroke-width="1.0"/><rect x="352.5" y="725.1" width="10" height="10" fill="#fff" stroke="#000" stroke-width="1.0"/><rect x="357.1" y="723.7" width="10" height="10" fill="#fff" stroke="#000" stroke-width="1.0"/><rect x="359.5" y="729.1" width="10" height="10" fill="#fff" stroke="#000" stroke-width="1.0"/><rect x="367.7" y="729.5" width="10" height="10" fill="#fff" stroke="#000" stroke-width="1.0"/><rect x="392.5" y="731.5" width="10" height="10" fill="#fff" stroke="#000" stroke-width="1.0"/><rect x="430.6" y="753.1" width="10" height="10" fill="#fff" stroke="#000" stroke-width="1.0"/>
<path d="M345.9 1139.2L345.8 1138.3M345.9 1122.3L346.3 1103.3M346.4 1087.3L346.2 1067.2M346 1051.2L345.8 1032.2M345.9 1016.2L345.9 1014.1M346.7 998.1L346.7 997.1M348.1 981.1L350.3 961M353.2 945.3L358.4 925.5M363.1 910.2L369.9 889.9M376.6 875.4L389.6 853.5M401.7 846L416.2 844.8M432.1 842.9L436.3 842.1M452.2 840.6L464.7 840.4M479.2 844.9L486.2 850M494.5 862.5L498.1 877.5M502.1 893L503.7 898.2M509.3 913.1L510.5 915.8" fill="none" stroke="#000" stroke-width="1.7"/><circle cx="345.7" cy="1130.3" r="5.3" fill="#fff" stroke="#000" stroke-width="1.0"/><circle cx="346.5" cy="1095.3" r="5.3" fill="#fff" stroke="#000" stroke-width="1.0"/><circle cx="346.1" cy="1059.2" r="5.3" fill="#fff" stroke="#000" stroke-width="1.0"/><circle cx="345.7" cy="1024.2" r="5.3" fill="#fff" stroke="#000" stroke-width="1.0"/><circle cx="346.1" cy="1006.1" r="5.3" fill="#fff" stroke="#000" stroke-width="1.0"/><circle cx="347.3" cy="989.1" r="5.3" fill="#fff" stroke="#000" stroke-width="1.0"/><circle cx="351.1" cy="953" r="5.3" fill="#fff" stroke="#000" stroke-width="1.0"/><circle cx="360.5" cy="917.8" r="5.3" fill="#fff" stroke="#000" stroke-width="1.0"/><circle cx="372.5" cy="882.3" r="5.3" fill="#fff" stroke="#000" stroke-width="1.0"/><circle cx="393.7" cy="846.6" r="5.3" fill="#fff" stroke="#000" stroke-width="1.0"/><circle cx="424.2" cy="844.2" r="5.3" fill="#fff" stroke="#000" stroke-width="1.0"/><circle cx="444.2" cy="840.8" r="5.3" fill="#fff" stroke="#000" stroke-width="1.0"/><circle cx="472.7" cy="840.2" r="5.3" fill="#fff" stroke="#000" stroke-width="1.0"/><circle cx="492.7" cy="854.7" r="5.3" fill="#fff" stroke="#000" stroke-width="1.0"/><circle cx="499.9" cy="885.3" r="5.3" fill="#fff" stroke="#000" stroke-width="1.0"/><circle cx="505.9" cy="905.9" r="5.3" fill="#fff" stroke="#000" stroke-width="1.0"/><circle cx="513.9" cy="923" r="5.3" fill="#fff" stroke="#000" stroke-width="1.0"/>
<path d="M345.3 1122.3L345.9 1103.3M346.4 1087.3L347.2 1067.2M348 1051.2L349 1032.2M349.8 1016.2L349.8 1015.1M350.3 999.1L350.3 997.1M350.9 981.1L351.7 962.1M353.5 946.2L354.3 941.9M357.7 926.3L366.1 894M400.4 865.3L404.3 864.7M420.2 863.1L428.6 862.9M444.2 865.2L450.6 867.4M466 871.6L479.5 874.6M495.1 878.2L524.5 885.4M539.9 889.7L575.2 900.5" fill="none" stroke="#444" stroke-width="0.8"/><polygon points="345.1,1151.6 351.7,1140.3 338.5,1140.3" fill="#fff" stroke="#000" stroke-width="1.0"/><polygon points="345.1,1136.6 351.7,1125.3 338.5,1125.3" fill="#fff" stroke="#000" stroke-width="1.0"/><polygon points="346.1,1101.6 352.7,1090.3 339.5,1090.3" fill="#fff" stroke="#000" stroke-width="1.0"/><polygon points="347.5,1065.5 354.1,1054.2 340.9,1054.2" fill="#fff" stroke="#000" stroke-width="1.0"/><polygon points="349.5,1030.5 356.1,1019.2 342.9,1019.2" fill="#fff" stroke="#000" stroke-width="1.0"/><polygon points="350.1,1013.4 356.7,1002.1 343.5,1002.1" fill="#fff" stroke="#000" stroke-width="1.0"/><polygon points="350.5,995.4 357.1,984.1 343.9,984.1" fill="#fff" stroke="#000" stroke-width="1.0"/><polygon points="352.1,960.4 358.7,949.1 345.5,949.1" fill="#fff" stroke="#000" stroke-width="1.0"/><polygon points="355.7,940.3 362.3,929 349.1,929" fill="#fff" stroke="#000" stroke-width="1.0"/><polygon points="368.1,892.6 374.7,881.3 361.5,881.3" fill="#fff" stroke="#000" stroke-width="1.0"/><polygon points="378.1,880.6 384.7,869.3 371.5,869.3" fill="#fff" stroke="#000" stroke-width="1.0"/><polygon points="392.5,873 399.1,861.8 385.9,861.8" fill="#fff" stroke="#000" stroke-width="1.0"/><polygon points="412.2,869.6 418.8,858.3 405.6,858.3" fill="#fff" stroke="#000" stroke-width="1.0"/><polygon points="436.6,869 443.2,857.8 430,857.8" fill="#fff" stroke="#000" stroke-width="1.0"/><polygon points="458.2,876.2 464.8,864.9 451.6,864.9" fill="#fff" stroke="#000" stroke-width="1.0"/><polygon points="487.3,882.6 493.9,871.3 480.7,871.3" fill="#fff" stroke="#000" stroke-width="1.0"/><polygon points="532.3,893.6 538.9,882.3 525.7,882.3" fill="#fff" stroke="#000" stroke-width="1.0"/><polygon points="582.8,909.2 589.4,897.9 576.2,897.9" fill="#fff" stroke="#000" stroke-width="1.0"/>
</g>
<path d="M362.2 957.1H379M394 957.1H410.6" stroke="#000" stroke-width="1.8"/>
<rect x="381" y="951.5" width="11.2" height="11.2" fill="#000" stroke="#000" stroke-width="1.2"/>
<text x="415.8" y="963.6" font-size="19.6" text-anchor="start" >CFT-30-0.3-0.1-CR-1</text>
<path d="M362.2 983.4H379M394 983.4H410.6" stroke="#000" stroke-width="1.8"/>
<circle cx="386.6" cy="983.4" r="6" fill="#000" stroke="#000" stroke-width="1.2"/>
<text x="415.8" y="989.9" font-size="19.6" text-anchor="start" >CFT-30-0.3-0.2-CR-1</text>
<path d="M362.2 1009.6H379M394 1009.6H410.6" stroke="#000" stroke-width="1.8"/>
<polygon points="386.6,1016.1 393.4,1004.5 379.8,1004.5" fill="#000" stroke="#000" stroke-width="1.2"/>
<text x="415.8" y="1016.1" font-size="19.6" text-anchor="start" >CFT-30-0.3-0.3-CR-1</text>
<path d="M362.2 1035.8H379M394 1035.8H410.6" stroke="#000" stroke-width="1.8"/>
<rect x="381.6" y="1030.8" width="10" height="10" fill="#fff" stroke="#000" stroke-width="1.0"/>
<text x="415.8" y="1042.3" font-size="19.6" text-anchor="start" >CFT-30-0.3-0.1-CR-3</text>
<path d="M362.2 1062.1H379M394 1062.1H410.6" stroke="#000" stroke-width="1.8"/>
<circle cx="386.6" cy="1062.1" r="5.3" fill="#fff" stroke="#000" stroke-width="1.0"/>
<text x="415.8" y="1068.6" font-size="19.6" text-anchor="start" >CFT-30-0.3-0.2-CR-3</text>
<path d="M362.2 1088.3H379M394 1088.3H410.6" stroke="#444" stroke-width="0.8"/>
<polygon points="386.6,1094.6 393.2,1083.4 380,1083.4" fill="#fff" stroke="#000" stroke-width="1.0"/>
<text x="415.8" y="1094.8" font-size="19.6" text-anchor="start" >CFT-30-0.3-0.3-CR-3</text>
<ellipse cx="152.4" cy="1053.9" rx="52.9" ry="51.4" fill="#fcebe0" stroke="#000" stroke-width="1.8"/><line x1="129.2" y1="1007.7" x2="129.2" y2="1100.1" stroke="#000" stroke-width="1.3" stroke-dasharray="8 4"/><line x1="152.6" y1="1030.4" x2="152.6" y2="1077.4" stroke="#000" stroke-width="1.1"/><line x1="119.7" y1="1049.8" x2="126.2" y2="1049.8" stroke="#000" stroke-width="0.9"/><polygon points="129.2,1049.8 124.2,1051.4 124.2,1048.2" fill="#000"/><line x1="162.1" y1="1049.8" x2="155.6" y2="1049.8" stroke="#000" stroke-width="0.9"/><polygon points="152.6,1049.8 157.6,1048.2 157.6,1051.4" fill="#000"/><text x="140.4" y="1053.3" font-size="20" text-anchor="middle" font-style="italic">e</text><rect x="146.9" y="998.9000000000001" width="11" height="3.6" fill="#b9cde6" stroke="#445" stroke-width="0.8"/><rect x="146.9" y="1105.3000000000002" width="11" height="3.6" fill="#b9cde6" stroke="#445" stroke-width="0.8"/><rect x="95.7" y="1048.9" width="3.8" height="10" fill="#b9cde6" stroke="#445" stroke-width="0.8"/><rect x="205.3" y="1048.9" width="3.8" height="10" fill="#b9cde6" stroke="#445" stroke-width="0.8"/><text x="152.2" y="996.1" font-size="21" text-anchor="middle" >4</text><text x="85.1" y="1060.8" font-size="21" text-anchor="middle" >1</text><text x="220.3" y="1062.2" font-size="21" text-anchor="middle" >3</text><text x="151.6" y="1125.3" font-size="21" text-anchor="middle" >2</text>
<text x="79.5" y="987.1" font-size="16.3" text-anchor="start" >Loading</text>
<line x1="112.2" y1="987.1" x2="123.5" y2="1001.2" stroke="#000" stroke-width="0.9"/><polygon points="126.6,1005.1 120.5,1001 123.9,998.3" fill="#000"/>
<text x="229.7" y="1003.7" font-size="14.3" text-anchor="start" stroke="#000" stroke-width="0.35">specimen</text>
<line x1="200.3" y1="1027.2" x2="220.3" y2="1008" stroke="#000" stroke-width="0.9"/><polygon points="223.9,1004.5 220.4,1010.9 217.3,1007.8" fill="#000"/>
<text x="19.4" y="1117.3" font-size="15.4" text-anchor="start" stroke="#000" stroke-width="0.35">Strain gauges</text>
<line x1="98.1" y1="1058.8" x2="85.7" y2="1095.6" stroke="#000" stroke-width="0.9"/><polygon points="84.1,1100.3 84.3,1093 88.4,1094.4" fill="#000"/>
<line x1="147.2" y1="1106.9" x2="115.1" y2="1111.6" stroke="#000" stroke-width="0.9"/><polygon points="110.2,1112.3 116.8,1109.1 117.4,1113.5" fill="#000"/>
</g>
<g id="chart_d">
<path d="M828.2 692.6V1138.4M719 1138.4H1320.5" stroke="#000" stroke-width="1.6" fill="none"/>
<path d="M828.2 692.6h8M828.2 756.3h8M828.2 820h8M828.2 883.7h8M828.2 947.4h8M828.2 1011.1h8M828.2 1074.8h8M719 1138.4v-8.5M937 1138.4v-8.5M1046.4 1138.4v-8.5M1155.7 1138.4v-8.5M1264.9 1138.4v-8.5" stroke="#000" stroke-width="1.5" fill="none"/>
<text x="816.5" y="700.4" font-size="24.4" text-anchor="end" >1400</text>
<text x="816.5" y="764.1" font-size="24.4" text-anchor="end" >1200</text>
<text x="816.5" y="827.8" font-size="24.4" text-anchor="end" >1000</text>
<text x="816.5" y="891.5" font-size="24.4" text-anchor="end" >800</text>
<text x="816.5" y="955.2" font-size="24.4" text-anchor="end" >600</text>
<text x="816.5" y="1018.9" font-size="24.4" text-anchor="end" >400</text>
<text x="816.5" y="1082.6" font-size="24.4" text-anchor="end" >200</text>
<text x="816" y="1146.3" font-size="24.4" text-anchor="end" >0</text>
<text x="718.4" y="1167.4" font-size="24.4" text-anchor="middle" >4000</text>
<text x="827.9" y="1167.4" font-size="24.4" text-anchor="middle" >0</text>
<text x="937" y="1167.4" font-size="24.4" text-anchor="middle" >-4000</text>
<text x="1046.4" y="1167.4" font-size="24.4" text-anchor="middle" >-8000</text>
<text x="1155.7" y="1167.4" font-size="24.4" text-anchor="middle" >-12000</text>
<text x="1264.9" y="1167.4" font-size="24.4" text-anchor="middle" >-16000</text>
<text transform="translate(759,723) rotate(-90)" font-size="23.4" text-anchor="middle">Load (<tspan font-style="italic">N</tspan>)/kN</text>
<text x="1019.5" y="1211.8" font-size="24.2" text-anchor="middle" >Axial strain (<tspan font-style="italic" font-size="21">ε</tspan>)<tspan dx="2">/</tspan><tspan dx="3">με</tspan></text>
<text x="898.6" y="1258.5" font-size="37.5" text-anchor="start" >d)</text>
<text x="953.7" y="1258.5" font-size="36.3" text-anchor="start" >Group IV-1</text>
<path d="M865.2 1138.4V758M898 1138.4V751" stroke="#000" stroke-width="1.1" stroke-dasharray="5 3.5" fill="none"/>
<path d="M828.2 1138.4C828.7 1133.2 829.9 1117.8 831.2 1107.3C832.5 1096.8 834.9 1085.9 836.2 1075.3C837.5 1064.7 838.2 1054.3 839.2 1043.6C840.2 1032.9 841 1022 842.2 1011.2C843.4 1000.5 845.4 989.8 846.6 979.1C847.8 968.4 848.8 957.8 849.6 947.1C850.4 936.4 850.2 924.5 851.6 915C853 905.5 855.8 899.1 858.2 890.3C860.6 881.5 863.2 872.3 866.2 862.3C869.2 852.3 872.3 840.9 876.3 830.2C880.3 819.5 884.3 807.2 890.3 798.2C896.3 789.2 904.3 781.2 912.3 776.2C920.3 771.2 925.2 768.8 938.4 768.1C951.6 767.4 972.2 770 991.4 772.2C1010.6 774.5 1032.7 778.4 1053.5 781.6C1074.3 784.8 1105.8 789.9 1116.2 791.6" fill="none" stroke="#000" stroke-width="2.6"/><rect x="825.9" y="1102" width="10.6" height="10.6" fill="#000" stroke="#000" stroke-width="1.2"/><rect x="830.9" y="1070" width="10.6" height="10.6" fill="#000" stroke="#000" stroke-width="1.2"/><rect x="833.9" y="1038.3" width="10.6" height="10.6" fill="#000" stroke="#000" stroke-width="1.2"/><rect x="836.9" y="1005.9" width="10.6" height="10.6" fill="#000" stroke="#000" stroke-width="1.2"/><rect x="841.3" y="973.8" width="10.6" height="10.6" fill="#000" stroke="#000" stroke-width="1.2"/><rect x="844.3" y="941.8" width="10.6" height="10.6" fill="#000" stroke="#000" stroke-width="1.2"/><rect x="846.3" y="909.7" width="10.6" height="10.6" fill="#000" stroke="#000" stroke-width="1.2"/><rect x="871" y="824.9" width="10.6" height="10.6" fill="#000" stroke="#000" stroke-width="1.2"/><rect x="885" y="792.9" width="10.6" height="10.6" fill="#000" stroke="#000" stroke-width="1.2"/><rect x="907" y="770.9" width="10.6" height="10.6" fill="#000" stroke="#000" stroke-width="1.2"/><rect x="933.1" y="762.8" width="10.6" height="10.6" fill="#000" stroke="#000" stroke-width="1.2"/><rect x="986.1" y="766.9" width="10.6" height="10.6" fill="#000" stroke="#000" stroke-width="1.2"/><rect x="1048.2" y="776.3" width="10.6" height="10.6" fill="#000" stroke="#000" stroke-width="1.2"/><rect x="1110.9" y="786.3" width="10.6" height="10.6" fill="#000" stroke="#000" stroke-width="1.2"/>
<path d="M828.2 1138.4C828.7 1133.2 829.9 1117.8 831.2 1107.3C832.5 1096.8 834.9 1085.9 836.2 1075.3C837.5 1064.7 838.2 1054.3 839.2 1043.6C840.2 1032.9 841 1022 842.2 1011.2C843.4 1000.5 845.4 989.8 846.6 979.1C847.8 968.4 848.8 957.8 849.6 947.1C850.4 936.4 850.2 924.1 851.6 915C853 905.9 855.8 900.8 858.2 892.3C860.6 883.8 863.2 874.3 866.2 864.3C869.2 854.3 872.3 842.9 876.3 832.2C880.3 821.5 885.1 809 890.3 800.2C895.5 791.4 902.8 782.9 907.3 779.2C911.8 775.5 913.8 778.4 917.3 778.2C920.8 778 914.8 776.9 928.3 778.2C941.8 779.5 986.7 784.9 998.4 786.2" fill="none" stroke="#000" stroke-width="2.6"/><circle cx="831.2" cy="1107.3" r="6" fill="#000" stroke="#000" stroke-width="1.2"/><circle cx="836.2" cy="1075.3" r="6" fill="#000" stroke="#000" stroke-width="1.2"/><circle cx="839.2" cy="1043.6" r="6" fill="#000" stroke="#000" stroke-width="1.2"/><circle cx="842.2" cy="1011.2" r="6" fill="#000" stroke="#000" stroke-width="1.2"/><circle cx="846.6" cy="979.1" r="6" fill="#000" stroke="#000" stroke-width="1.2"/><circle cx="849.6" cy="947.1" r="6" fill="#000" stroke="#000" stroke-width="1.2"/><circle cx="851.6" cy="915" r="6" fill="#000" stroke="#000" stroke-width="1.2"/><circle cx="876.3" cy="832.2" r="6" fill="#000" stroke="#000" stroke-width="1.2"/><circle cx="890.3" cy="800.2" r="6" fill="#000" stroke="#000" stroke-width="1.2"/><circle cx="907.3" cy="779.2" r="6" fill="#000" stroke="#000" stroke-width="1.2"/><circle cx="917.3" cy="778.2" r="6" fill="#000" stroke="#000" stroke-width="1.2"/><circle cx="928.3" cy="778.2" r="6" fill="#000" stroke="#000" stroke-width="1.2"/><circle cx="998.4" cy="786.2" r="6" fill="#000" stroke="#000" stroke-width="1.2"/>
<path d="M828.2 1138.4C828.7 1133.2 829.9 1117.8 831.2 1107.3C832.5 1096.8 834.9 1085.9 836.2 1075.3C837.5 1064.7 838.2 1054.3 839.2 1043.6C840.2 1032.9 841 1022 842.2 1011.2C843.4 1000.5 845.4 989.8 846.6 979.1C847.8 968.4 848.8 957.8 849.6 947.1C850.4 936.4 850.2 923.8 851.6 915C853 906.2 855.8 902.2 858.2 894.3C860.6 886.3 863.2 876.3 866.2 867.3C869.2 858.3 871.4 849.8 876.3 840.3C881.1 830.8 889.3 818.1 895.3 810.2C901.3 802.4 908.1 796.3 912.3 793.2C916.5 790.1 917.3 792 920.3 791.8C923.3 791.6 926.9 791.8 930.3 791.8C933.6 791.8 936.5 791.7 940.4 791.8C944.2 791.9 949.1 792.1 953.4 792.2C957.7 792.3 956 791.9 966.4 792.2C976.8 792.5 1004.5 793.5 1015.5 794.2C1026.5 794.9 1027.3 795.9 1032.5 796.6C1037.7 797.3 1038.8 796.4 1046.5 798.2C1054.2 800 1060.8 804 1078.6 807.2C1096.4 810.4 1141.1 815.5 1153.6 817.2" fill="none" stroke="#000" stroke-width="2.6"/><polygon points="825.7,1100.1 825.7,1114.5 838.7,1107.3" fill="#000" stroke="#000" stroke-width="1.2"/><polygon points="830.7,1068.1 830.7,1082.5 843.7,1075.3" fill="#000" stroke="#000" stroke-width="1.2"/><polygon points="833.7,1036.4 833.7,1050.8 846.7,1043.6" fill="#000" stroke="#000" stroke-width="1.2"/><polygon points="836.7,1004.1 836.7,1018.4 849.7,1011.2" fill="#000" stroke="#000" stroke-width="1.2"/><polygon points="841.1,972 841.1,986.2 854.1,979.1" fill="#000" stroke="#000" stroke-width="1.2"/><polygon points="844.1,940 844.1,954.2 857.1,947.1" fill="#000" stroke="#000" stroke-width="1.2"/><polygon points="846.1,907.9 846.1,922.1 859.1,915" fill="#000" stroke="#000" stroke-width="1.2"/><polygon points="870.8,833.1 870.8,847.4 883.8,840.3" fill="#000" stroke="#000" stroke-width="1.2"/><polygon points="889.8,803.1 889.8,817.4 902.8,810.2" fill="#000" stroke="#000" stroke-width="1.2"/><polygon points="906.8,786.1 906.8,800.4 919.8,793.2" fill="#000" stroke="#000" stroke-width="1.2"/><polygon points="914.8,784.6 914.8,798.9 927.8,791.8" fill="#000" stroke="#000" stroke-width="1.2"/><polygon points="924.8,784.6 924.8,798.9 937.8,791.8" fill="#000" stroke="#000" stroke-width="1.2"/><polygon points="934.9,784.6 934.9,798.9 947.9,791.8" fill="#000" stroke="#000" stroke-width="1.2"/><polygon points="947.9,785.1 947.9,799.4 960.9,792.2" fill="#000" stroke="#000" stroke-width="1.2"/><polygon points="960.9,785.1 960.9,799.4 973.9,792.2" fill="#000" stroke="#000" stroke-width="1.2"/><polygon points="1010,787.1 1010,801.4 1023,794.2" fill="#000" stroke="#000" stroke-width="1.2"/><polygon points="1027,789.5 1027,803.8 1040,796.6" fill="#000" stroke="#000" stroke-width="1.2"/><polygon points="1041,791.1 1041,805.4 1054,798.2" fill="#000" stroke="#000" stroke-width="1.2"/><polygon points="1073.1,800.1 1073.1,814.4 1086.1,807.2" fill="#000" stroke="#000" stroke-width="1.2"/><polygon points="1148.1,810.1 1148.1,824.4 1161.1,817.2" fill="#000" stroke="#000" stroke-width="1.2"/>
<path d="M828.2 1138.4C828.7 1133.2 829.9 1117.8 831.2 1107.3C832.5 1096.8 834.9 1085.9 836.2 1075.3C837.5 1064.7 838.2 1054.3 839.2 1043.6C840.2 1032.9 841 1022 842.2 1011.2C843.4 1000.5 845.4 989.8 846.6 979.1C847.8 968.4 848.8 957.8 849.6 947.1C850.4 936.4 850.2 923.5 851.6 915C853 906.5 855.8 903.8 858.2 896.3C860.6 888.8 863.2 878.3 866.2 870.3C869.2 862.3 872.3 855 876.3 848.3C880.3 841.6 885 835.1 890.3 830.2C895.6 825.4 901.1 821.7 908.3 819.2C915.5 816.7 920.8 814.5 933.3 815.2C945.8 815.9 972.4 821.4 983.4 823.2C994.4 825 983.7 823.2 999.4 826.2C1015.1 829.2 1064.6 838.8 1077.6 841.3" fill="none" stroke="#000" stroke-width="2.6"/><polygon points="831.2,1099.6 833,1104.8 838.5,1104.9 834.1,1108.3 835.7,1113.5 831.2,1110.4 826.7,1113.5 828.3,1108.3 823.9,1104.9 829.4,1104.8" fill="#000" stroke="#000" stroke-width="1.2"/><polygon points="836.2,1067.6 838,1072.8 843.5,1072.9 839.1,1076.3 840.7,1081.5 836.2,1078.4 831.7,1081.5 833.3,1076.3 828.9,1072.9 834.4,1072.8" fill="#000" stroke="#000" stroke-width="1.2"/><polygon points="839.2,1035.9 841,1041.1 846.5,1041.2 842.1,1044.6 843.7,1049.8 839.2,1046.7 834.7,1049.8 836.3,1044.6 831.9,1041.2 837.4,1041.1" fill="#000" stroke="#000" stroke-width="1.2"/><polygon points="842.2,1003.5 844,1008.7 849.5,1008.8 845.1,1012.2 846.7,1017.4 842.2,1014.3 837.7,1017.4 839.3,1012.2 834.9,1008.8 840.4,1008.7" fill="#000" stroke="#000" stroke-width="1.2"/><polygon points="846.6,971.4 848.4,976.6 853.9,976.7 849.5,980.1 851.1,985.3 846.6,982.2 842.1,985.3 843.7,980.1 839.3,976.7 844.8,976.6" fill="#000" stroke="#000" stroke-width="1.2"/><polygon points="849.6,939.4 851.4,944.6 856.9,944.7 852.5,948.1 854.1,953.3 849.6,950.2 845.1,953.3 846.7,948.1 842.3,944.7 847.8,944.6" fill="#000" stroke="#000" stroke-width="1.2"/><polygon points="851.6,907.3 853.4,912.5 858.9,912.6 854.5,916 856.1,921.2 851.6,918.1 847.1,921.2 848.7,916 844.3,912.6 849.8,912.5" fill="#000" stroke="#000" stroke-width="1.2"/><polygon points="876.3,840.6 878.1,845.8 883.6,845.9 879.2,849.3 880.8,854.5 876.3,851.4 871.8,854.5 873.4,849.3 869,845.9 874.5,845.8" fill="#000" stroke="#000" stroke-width="1.2"/><polygon points="890.3,822.5 892.1,827.7 897.6,827.8 893.2,831.2 894.8,836.4 890.3,833.3 885.8,836.4 887.4,831.2 883,827.8 888.5,827.7" fill="#000" stroke="#000" stroke-width="1.2"/><polygon points="908.3,811.5 910.1,816.7 915.6,816.8 911.2,820.2 912.8,825.4 908.3,822.3 903.8,825.4 905.4,820.2 901,816.8 906.5,816.7" fill="#000" stroke="#000" stroke-width="1.2"/><polygon points="933.3,807.5 935.1,812.7 940.6,812.8 936.2,816.2 937.8,821.4 933.3,818.3 928.8,821.4 930.4,816.2 926,812.8 931.5,812.7" fill="#000" stroke="#000" stroke-width="1.2"/><polygon points="983.4,815.5 985.2,820.7 990.7,820.8 986.3,824.2 987.9,829.4 983.4,826.3 978.9,829.4 980.5,824.2 976.1,820.8 981.6,820.7" fill="#000" stroke="#000" stroke-width="1.2"/><polygon points="999.4,818.5 1001.2,823.7 1006.7,823.8 1002.3,827.2 1003.9,832.4 999.4,829.3 994.9,832.4 996.5,827.2 992.1,823.8 997.6,823.7" fill="#000" stroke="#000" stroke-width="1.2"/><polygon points="1077.6,833.6 1079.4,838.8 1084.9,838.9 1080.5,842.3 1082.1,847.5 1077.6,844.4 1073.1,847.5 1074.7,842.3 1070.3,838.9 1075.8,838.8" fill="#000" stroke="#000" stroke-width="1.2"/>
<path d="M828.2 1138.4C828.7 1133.2 829.9 1117.8 831.2 1107.3C832.5 1096.8 834.9 1085.9 836.2 1075.3C837.5 1064.7 838.2 1054.3 839.2 1043.6C840.2 1032.9 841 1022 842.2 1011.2C843.4 1000.5 845.4 989.8 846.6 979.1C847.8 968.4 848.8 957.8 849.6 947.1C850.4 936.4 850.2 923.1 851.6 915C853 906.9 855.8 905.1 858.2 898.3C860.6 891.5 863.5 881.3 866.2 874.3C868.9 867.3 871.1 861.3 874.3 856.3C877.5 851.3 880.6 847.5 885.3 844.3C890 841.1 895.1 838.2 902.3 837.2C909.5 836.2 913.9 835.4 928.3 838.3C942.6 841.1 972 850.5 988.4 854.3C1004.8 858.1 1017.8 859.8 1026.5 861.3C1035.2 862.8 1035 862.5 1040.5 863.3C1046 864.1 1056.3 865.8 1059.5 866.3" fill="none" stroke="#000" stroke-width="2.6"/><polygon points="831.2,1099.8 839.1,1113.2 823.3,1113.2" fill="#000" stroke="#000" stroke-width="1.2"/><polygon points="836.2,1067.8 844.1,1081.2 828.3,1081.2" fill="#000" stroke="#000" stroke-width="1.2"/><polygon points="839.2,1036.1 847.1,1049.5 831.3,1049.5" fill="#000" stroke="#000" stroke-width="1.2"/><polygon points="842.2,1003.7 850.1,1017.1 834.3,1017.1" fill="#000" stroke="#000" stroke-width="1.2"/><polygon points="846.6,971.6 854.5,985 838.7,985" fill="#000" stroke="#000" stroke-width="1.2"/><polygon points="849.6,939.6 857.5,953 841.7,953" fill="#000" stroke="#000" stroke-width="1.2"/><polygon points="851.6,907.5 859.5,920.9 843.7,920.9" fill="#000" stroke="#000" stroke-width="1.2"/><polygon points="874.3,848.8 882.2,862.2 866.4,862.2" fill="#000" stroke="#000" stroke-width="1.2"/><polygon points="885.3,836.8 893.2,850.2 877.4,850.2" fill="#000" stroke="#000" stroke-width="1.2"/><polygon points="902.3,829.7 910.2,843.1 894.4,843.1" fill="#000" stroke="#000" stroke-width="1.2"/><polygon points="928.3,830.8 936.2,844.2 920.4,844.2" fill="#000" stroke="#000" stroke-width="1.2"/><polygon points="988.4,846.8 996.3,860.2 980.5,860.2" fill="#000" stroke="#000" stroke-width="1.2"/><polygon points="1026.5,853.8 1034.4,867.2 1018.6,867.2" fill="#000" stroke="#000" stroke-width="1.2"/><polygon points="1040.5,855.8 1048.4,869.2 1032.6,869.2" fill="#000" stroke="#000" stroke-width="1.2"/><polygon points="1059.5,858.8 1067.4,872.2 1051.6,872.2" fill="#000" stroke="#000" stroke-width="1.2"/>
<path d="M828.2 1138.4C828.7 1133.2 829.9 1117.8 831.2 1107.3C832.5 1096.8 834.9 1085.9 836.2 1075.3C837.5 1064.7 838.2 1054.3 839.2 1043.6C840.2 1032.9 841 1022 842.2 1011.2C843.4 1000.5 845.4 989.8 846.6 979.1C847.8 968.4 848.8 957.8 849.6 947.1C850.4 936.4 850.5 921.8 851.6 915C852.7 908.2 854.1 909.5 856.2 906.4C858.3 903.3 861.2 901 864.2 896.3C867.2 891.6 868.1 883.5 874.3 878.3C880.5 873.1 889.3 865.3 901.3 865.3C913.3 865.3 930 873.6 946.4 878.3C962.8 883 985.7 889.6 999.4 893.3C1013.1 897 1019.6 898.5 1028.5 900.3C1037.3 902.1 1043 903 1052.5 904.3C1062 905.6 1080.1 907.4 1085.6 908C1091.1 908.6 1080.8 907.6 1085.7 908C1090.6 908.4 1105.2 909.6 1115.2 910.4C1125.2 911.2 1135.6 912 1145.8 912.8C1156 913.6 1164.2 914.5 1176.3 915.4C1188.4 916.3 1201.8 917.1 1218.3 918.4C1234.8 919.7 1265.9 922.6 1275.4 923.4" fill="none" stroke="#000" stroke-width="2.6"/><polygon points="831.2,1099.3 839.2,1107.3 831.2,1115.3 823.2,1107.3" fill="#000" stroke="#000" stroke-width="1.2"/><polygon points="836.2,1067.3 844.2,1075.3 836.2,1083.3 828.2,1075.3" fill="#000" stroke="#000" stroke-width="1.2"/><polygon points="839.2,1035.6 847.2,1043.6 839.2,1051.6 831.2,1043.6" fill="#000" stroke="#000" stroke-width="1.2"/><polygon points="842.2,1003.2 850.2,1011.2 842.2,1019.2 834.2,1011.2" fill="#000" stroke="#000" stroke-width="1.2"/><polygon points="846.6,971.1 854.6,979.1 846.6,987.1 838.6,979.1" fill="#000" stroke="#000" stroke-width="1.2"/><polygon points="849.6,939.1 857.6,947.1 849.6,955.1 841.6,947.1" fill="#000" stroke="#000" stroke-width="1.2"/><polygon points="851.6,907 859.6,915 851.6,923 843.6,915" fill="#000" stroke="#000" stroke-width="1.2"/><polygon points="856.2,898.4 864.2,906.4 856.2,914.4 848.2,906.4" fill="#000" stroke="#000" stroke-width="1.2"/><polygon points="864.2,888.3 872.2,896.3 864.2,904.3 856.2,896.3" fill="#000" stroke="#000" stroke-width="1.2"/><polygon points="901.3,857.3 909.3,865.3 901.3,873.3 893.3,865.3" fill="#000" stroke="#000" stroke-width="1.2"/><polygon points="946.4,870.3 954.4,878.3 946.4,886.3 938.4,878.3" fill="#000" stroke="#000" stroke-width="1.2"/><polygon points="999.4,885.3 1007.4,893.3 999.4,901.3 991.4,893.3" fill="#000" stroke="#000" stroke-width="1.2"/><polygon points="1028.5,892.3 1036.5,900.3 1028.5,908.3 1020.5,900.3" fill="#000" stroke="#000" stroke-width="1.2"/><polygon points="1052.5,896.3 1060.5,904.3 1052.5,912.3 1044.5,904.3" fill="#000" stroke="#000" stroke-width="1.2"/><polygon points="1085.6,900 1093.6,908 1085.6,916 1077.6,908" fill="#000" stroke="#000" stroke-width="1.2"/><polygon points="1085.7,900 1093.7,908 1085.7,916 1077.7,908" fill="#000" stroke="#000" stroke-width="1.2"/><polygon points="1115.2,902.4 1123.2,910.4 1115.2,918.4 1107.2,910.4" fill="#000" stroke="#000" stroke-width="1.2"/><polygon points="1145.8,904.8 1153.8,912.8 1145.8,920.8 1137.8,912.8" fill="#000" stroke="#000" stroke-width="1.2"/><polygon points="1176.3,907.4 1184.3,915.4 1176.3,923.4 1168.3,915.4" fill="#000" stroke="#000" stroke-width="1.2"/><polygon points="1218.3,910.4 1226.3,918.4 1218.3,926.4 1210.3,918.4" fill="#000" stroke="#000" stroke-width="1.2"/><polygon points="1275.4,915.4 1283.4,923.4 1275.4,931.4 1267.4,923.4" fill="#000" stroke="#000" stroke-width="1.2"/>
<path d="M828.2 1138.4C828.7 1133.2 829.9 1117.8 831.2 1107.3C832.5 1096.8 834.9 1085.9 836.2 1075.3C837.5 1064.7 838.2 1054.3 839.2 1043.6C840.2 1032.9 841 1022 842.2 1011.2C843.4 1000.5 845.4 989.8 846.6 979.1C847.8 968.4 848.8 957.8 849.6 947.1C850.4 936.4 850.2 924.5 851.6 915C853 905.5 857.1 894.4 858.2 890.3" fill="none" stroke="#000" stroke-width="2.6"/><path d="M859.6 883.4L864.8 857.2M867.9 843.5L871.6 829M875.3 815.5L877.3 808.9M891.4 787.7L920.2 771M933.3 768.1L974.4 772M988.3 773.6L1038.2 781.2M1052 783.2L1100.9 790.6" fill="none" stroke="#000" stroke-width="2.6"/>
<rect x="825.5" y="1101.5" width="11.5" height="11.5" fill="#fff" stroke="#000" stroke-width="1.2"/>
<rect x="830.5" y="1069.5" width="11.5" height="11.5" fill="#fff" stroke="#000" stroke-width="1.2"/>
<rect x="833.5" y="1037.8" width="11.5" height="11.5" fill="#fff" stroke="#000" stroke-width="1.2"/>
<rect x="836.5" y="1005.5" width="11.5" height="11.5" fill="#fff" stroke="#000" stroke-width="1.2"/>
<rect x="840.9" y="973.4" width="11.5" height="11.5" fill="#fff" stroke="#000" stroke-width="1.2"/>
<rect x="843.9" y="941.4" width="11.5" height="11.5" fill="#fff" stroke="#000" stroke-width="1.2"/>
<rect x="845.9" y="909.2" width="11.5" height="11.5" fill="#fff" stroke="#000" stroke-width="1.2"/>
<rect x="873.5" y="796.5" width="11.5" height="11.5" fill="#fff" stroke="#000" stroke-width="1.2"/>
<rect x="879.5" y="785.5" width="11.5" height="11.5" fill="#fff" stroke="#000" stroke-width="1.2"/>
<rect x="920.5" y="761.8" width="11.5" height="11.5" fill="#fff" stroke="#000" stroke-width="1.2"/>
<rect x="975.6" y="766.9" width="11.5" height="11.5" fill="#fff" stroke="#000" stroke-width="1.2"/>
<rect x="1039.3" y="776.5" width="11.5" height="11.5" fill="#fff" stroke="#000" stroke-width="1.2"/>
<rect x="1102" y="785.9" width="11.5" height="11.5" fill="#fff" stroke="#000" stroke-width="1.2"/>
<path d="M828.2 1138.4C828.7 1133.2 829.9 1117.8 831.2 1107.3C832.5 1096.8 834.9 1085.9 836.2 1075.3C837.5 1064.7 838.2 1054.3 839.2 1043.6C840.2 1032.9 841 1022 842.2 1011.2C843.4 1000.5 845.4 989.8 846.6 979.1C847.8 968.4 848.8 957.8 849.6 947.1C850.4 936.4 850.2 924.3 851.6 915C853 905.7 857.1 895.2 858.2 891.3" fill="none" stroke="#000" stroke-width="2.6"/><path d="M859.7 884.5L864.7 861.1M867.9 847.5L870.6 837M874.5 823.6L876.1 818.8M882.4 806.5L893.2 791.9" fill="none" stroke="#000" stroke-width="2.6"/>
<circle cx="831.2" cy="1107.3" r="6.6" fill="#fff" stroke="#000" stroke-width="1.2"/>
<circle cx="836.2" cy="1075.3" r="6.6" fill="#fff" stroke="#000" stroke-width="1.2"/>
<circle cx="839.2" cy="1043.6" r="6.6" fill="#fff" stroke="#000" stroke-width="1.2"/>
<circle cx="842.2" cy="1011.2" r="6.6" fill="#fff" stroke="#000" stroke-width="1.2"/>
<circle cx="846.6" cy="979.1" r="6.6" fill="#fff" stroke="#000" stroke-width="1.2"/>
<circle cx="849.6" cy="947.1" r="6.6" fill="#fff" stroke="#000" stroke-width="1.2"/>
<circle cx="851.6" cy="915" r="6.6" fill="#fff" stroke="#000" stroke-width="1.2"/>
<circle cx="878.3" cy="812.2" r="6.6" fill="#fff" stroke="#000" stroke-width="1.2"/>
<circle cx="897.3" cy="786.2" r="6.6" fill="#fff" stroke="#000" stroke-width="1.2"/>
<circle cx="888.3" cy="779.2" r="6.6" fill="#fff" stroke="#000" stroke-width="1.2"/>
<circle cx="889.9" cy="777.6" r="6.6" fill="#fff" stroke="#000" stroke-width="1.2"/>
<circle cx="891.3" cy="776.2" r="6.6" fill="#fff" stroke="#000" stroke-width="1.2"/>
<circle cx="892.7" cy="775.2" r="6.6" fill="#fff" stroke="#000" stroke-width="1.2"/>
<circle cx="895.3" cy="774.2" r="6.6" fill="#fff" stroke="#000" stroke-width="1.2"/>
<path d="M828.2 1138.4C828.7 1133.2 829.9 1117.8 831.2 1107.3C832.5 1096.8 834.9 1085.9 836.2 1075.3C837.5 1064.7 838.2 1054.3 839.2 1043.6C840.2 1032.9 841 1022 842.2 1011.2C843.4 1000.5 845.4 989.8 846.6 979.1C847.8 968.4 848.8 957.8 849.6 947.1C850.4 936.4 850.2 924.1 851.6 915C853 905.9 857.1 896.1 858.2 892.3" fill="none" stroke="#000" stroke-width="2.6"/><path d="M859.5 885.4L863.9 863.2M866.5 849.4L869 837.1M871.1 823.2L871.5 818.8" fill="none" stroke="#000" stroke-width="2.6"/>
<polygon points="826.4,1101.1 826.4,1113.5 837.6,1107.3" fill="#fff" stroke="#000" stroke-width="1.2"/>
<polygon points="831.4,1069.1 831.4,1081.5 842.6,1075.3" fill="#fff" stroke="#000" stroke-width="1.2"/>
<polygon points="834.4,1037.4 834.4,1049.8 845.6,1043.6" fill="#fff" stroke="#000" stroke-width="1.2"/>
<polygon points="837.4,1005 837.4,1017.4 848.6,1011.2" fill="#fff" stroke="#000" stroke-width="1.2"/>
<polygon points="841.8,972.9 841.8,985.3 853,979.1" fill="#fff" stroke="#000" stroke-width="1.2"/>
<polygon points="844.8,940.9 844.8,953.3 856,947.1" fill="#fff" stroke="#000" stroke-width="1.2"/>
<polygon points="846.8,908.8 846.8,921.2 858,915" fill="#fff" stroke="#000" stroke-width="1.2"/>
<polygon points="867.5,805.6 867.5,818 878.7,811.8" fill="#fff" stroke="#000" stroke-width="1.2"/>
<polygon points="869.5,802 869.5,814.4 880.7,808.2" fill="#fff" stroke="#000" stroke-width="1.2"/>
<polygon points="866.5,796 866.5,808.4 877.7,802.2" fill="#fff" stroke="#000" stroke-width="1.2"/>
<polygon points="863.5,789 863.5,801.4 874.7,795.2" fill="#fff" stroke="#000" stroke-width="1.2"/>
<polygon points="861.4,788 861.4,800.4 872.6,794.2" fill="#fff" stroke="#000" stroke-width="1.2"/>
<polygon points="859.4,787 859.4,799.4 870.6,793.2" fill="#fff" stroke="#000" stroke-width="1.2"/>
<polygon points="857.8,786.6 857.8,799 869,792.8" fill="#fff" stroke="#000" stroke-width="1.2"/>
<polygon points="856.4,786.4 856.4,798.8 867.6,792.6" fill="#fff" stroke="#000" stroke-width="1.2"/>
<polygon points="854.8,786.2 854.8,798.6 866,792.4" fill="#fff" stroke="#000" stroke-width="1.2"/>
<polygon points="853.4,786 853.4,798.4 864.6,792.2" fill="#fff" stroke="#000" stroke-width="1.2"/>
<polygon points="849.4,786.4 849.4,798.8 860.6,792.6" fill="#fff" stroke="#000" stroke-width="1.2"/>
<polygon points="845.4,787 845.4,799.4 856.6,793.2" fill="#fff" stroke="#000" stroke-width="1.2"/>
<polygon points="841.8,788.8 841.8,801.2 853,795" fill="#fff" stroke="#000" stroke-width="1.2"/>
<polygon points="838.4,791 838.4,803.4 849.6,797.2" fill="#fff" stroke="#000" stroke-width="1.2"/>
<polygon points="835.4,799 835.4,811.4 846.6,805.2" fill="#fff" stroke="#000" stroke-width="1.2"/>
<path d="M828.2 1138.4C828.7 1133.2 829.9 1117.8 831.2 1107.3C832.5 1096.8 834.9 1085.9 836.2 1075.3C837.5 1064.7 838.2 1054.3 839.2 1043.6C840.2 1032.9 841 1022 842.2 1011.2C843.4 1000.5 845.4 989.8 846.6 979.1C847.8 968.4 848.8 957.8 849.6 947.1C850.4 936.4 850.3 924 851.6 915C852.9 906 856.3 896.9 857.2 893.3" fill="none" stroke="#000" stroke-width="2.6"/><path d="M858.1 886.4L860.3 869.2M861.5 855.3L861.9 847.3M842.8 818.1L840.2 819.3M824.1 831.5L821.3 835.2" fill="none" stroke="#000" stroke-width="2.6"/>
<polygon points="831.2,1100.3 832.8,1105 837.8,1105.1 833.8,1108.2 835.3,1112.9 831.2,1110.1 827.1,1112.9 828.6,1108.2 824.6,1105.1 829.6,1105" fill="#fff" stroke="#000" stroke-width="1.2"/>
<polygon points="836.2,1068.3 837.8,1073 842.8,1073.1 838.8,1076.2 840.3,1080.9 836.2,1078.1 832.1,1080.9 833.6,1076.2 829.6,1073.1 834.6,1073" fill="#fff" stroke="#000" stroke-width="1.2"/>
<polygon points="839.2,1036.6 840.8,1041.3 845.8,1041.4 841.8,1044.5 843.3,1049.2 839.2,1046.4 835.1,1049.2 836.6,1044.5 832.6,1041.4 837.6,1041.3" fill="#fff" stroke="#000" stroke-width="1.2"/>
<polygon points="842.2,1004.2 843.8,1008.9 848.8,1009 844.8,1012.1 846.3,1016.8 842.2,1014 838.1,1016.8 839.6,1012.1 835.6,1009 840.6,1008.9" fill="#fff" stroke="#000" stroke-width="1.2"/>
<polygon points="846.6,972.1 848.2,976.8 853.2,976.9 849.2,980 850.7,984.7 846.6,981.9 842.5,984.7 844,980 840,976.9 845,976.8" fill="#fff" stroke="#000" stroke-width="1.2"/>
<polygon points="849.6,940.1 851.2,944.8 856.2,944.9 852.2,948 853.7,952.7 849.6,949.9 845.5,952.7 847,948 843,944.9 848,944.8" fill="#fff" stroke="#000" stroke-width="1.2"/>
<polygon points="851.6,908 853.2,912.7 858.2,912.8 854.2,915.9 855.7,920.6 851.6,917.8 847.5,920.6 849,915.9 845,912.8 850,912.7" fill="#fff" stroke="#000" stroke-width="1.2"/>
<polygon points="862.2,833.3 863.8,838 868.8,838.1 864.8,841.2 866.3,845.9 862.2,843.1 858.1,845.9 859.6,841.2 855.6,838.1 860.6,838" fill="#fff" stroke="#000" stroke-width="1.2"/>
<polygon points="863.2,819.2 864.8,823.9 869.8,824 865.8,827.1 867.3,831.8 863.2,829 859.1,831.8 860.6,827.1 856.6,824 861.6,823.9" fill="#fff" stroke="#000" stroke-width="1.2"/>
<polygon points="858.2,810.2 859.8,814.9 864.8,815 860.8,818.1 862.3,822.8 858.2,820 854.1,822.8 855.6,818.1 851.6,815 856.6,814.9" fill="#fff" stroke="#000" stroke-width="1.2"/>
<polygon points="849.2,808.2 850.8,812.9 855.8,813 851.8,816.1 853.3,820.8 849.2,818 845.1,820.8 846.6,816.1 842.6,813 847.6,812.9" fill="#fff" stroke="#000" stroke-width="1.2"/>
<polygon points="833.8,815.2 835.4,819.9 840.4,820 836.4,823.1 837.9,827.8 833.8,825 829.7,827.8 831.2,823.1 827.2,820 832.2,819.9" fill="#fff" stroke="#000" stroke-width="1.2"/>
<polygon points="828.2,818.8 829.8,823.5 834.8,823.6 830.8,826.7 832.3,831.4 828.2,828.6 824.1,831.4 825.6,826.7 821.6,823.6 826.6,823.5" fill="#fff" stroke="#000" stroke-width="1.2"/>
<polygon points="817.2,833.9 818.8,838.6 823.8,838.7 819.8,841.8 821.3,846.5 817.2,843.7 813.1,846.5 814.6,841.8 810.6,838.7 815.6,838.6" fill="#fff" stroke="#000" stroke-width="1.2"/>
<path d="M828.2 1138.4C828.7 1133.2 829.9 1117.8 831.2 1107.3C832.5 1096.8 834.9 1085.9 836.2 1075.3C837.5 1064.7 838.2 1054.3 839.2 1043.6C840.2 1032.9 841 1022 842.2 1011.2C843.4 1000.5 845.4 989.8 846.6 979.1C847.8 968.4 848.8 957.8 849.6 947.1C850.4 936.4 850.5 923.8 851.6 915C852.7 906.2 855.4 897.8 856.2 894.3" fill="none" stroke="#000" stroke-width="2.6"/><path d="M857.4 887.4L859 877.2M834.3 843.1L823.1 850.1" fill="none" stroke="#000" stroke-width="2.6"/>
<polygon points="831.2,1099.7 839.2,1113.3 823.2,1113.3" fill="#fff" stroke="#000" stroke-width="1.2"/>
<polygon points="836.2,1067.7 844.2,1081.3 828.2,1081.3" fill="#fff" stroke="#000" stroke-width="1.2"/>
<polygon points="839.2,1036 847.2,1049.6 831.2,1049.6" fill="#fff" stroke="#000" stroke-width="1.2"/>
<polygon points="842.2,1003.6 850.2,1017.2 834.2,1017.2" fill="#fff" stroke="#000" stroke-width="1.2"/>
<polygon points="846.6,971.5 854.6,985.1 838.6,985.1" fill="#fff" stroke="#000" stroke-width="1.2"/>
<polygon points="849.6,939.5 857.6,953.1 841.6,953.1" fill="#fff" stroke="#000" stroke-width="1.2"/>
<polygon points="851.6,907.4 859.6,921 843.6,921" fill="#fff" stroke="#000" stroke-width="1.2"/>
<polygon points="860.2,849.7 868.2,863.3 852.2,863.3" fill="#fff" stroke="#000" stroke-width="1.2"/>
<polygon points="857.2,838.7 865.2,852.3 849.2,852.3" fill="#fff" stroke="#000" stroke-width="1.2"/>
<polygon points="851.2,830.3 859.2,843.9 843.2,843.9" fill="#fff" stroke="#000" stroke-width="1.2"/>
<polygon points="840.2,831.7 848.2,845.3 832.2,845.3" fill="#fff" stroke="#000" stroke-width="1.2"/>
<polygon points="817.2,846.3 825.2,859.9 809.2,859.9" fill="#fff" stroke="#000" stroke-width="1.2"/>
<polygon points="807.2,854.7 815.2,868.3 799.2,868.3" fill="#fff" stroke="#000" stroke-width="1.2"/>
<polygon points="804.2,855.7 812.2,869.3 796.2,869.3" fill="#fff" stroke="#000" stroke-width="1.2"/>
<polygon points="797.5,857.7 805.5,871.3 789.5,871.3" fill="#fff" stroke="#000" stroke-width="1.2"/>
<path d="M828.2 1138.4C828.7 1133.2 829.9 1117.8 831.2 1107.3C832.5 1096.8 834.9 1085.9 836.2 1075.3C837.5 1064.7 838.2 1054.3 839.2 1043.6C840.2 1032.9 841 1022 842.2 1011.2C843.4 1000.5 845.4 989.8 846.6 979.1C847.8 968.4 848.8 957.8 849.6 947.1C850.4 936.4 851.3 920.3 851.6 915C851.9 909.7 851.3 915.3 851.2 915.4" fill="none" stroke="#000" stroke-width="2.6"/><path d="M851.5 908.4L851.9 902.3M850.5 870.2L847.9 868.4M836.3 868.1L826.1 874.5M814.5 882.4L803.8 890.2" fill="none" stroke="#000" stroke-width="2.6"/>
<polygon points="831.2,1100.3 838.2,1107.3 831.2,1114.3 824.2,1107.3" fill="#fff" stroke="#000" stroke-width="1.2"/>
<polygon points="836.2,1068.3 843.2,1075.3 836.2,1082.3 829.2,1075.3" fill="#fff" stroke="#000" stroke-width="1.2"/>
<polygon points="839.2,1036.6 846.2,1043.6 839.2,1050.6 832.2,1043.6" fill="#fff" stroke="#000" stroke-width="1.2"/>
<polygon points="842.2,1004.2 849.2,1011.2 842.2,1018.2 835.2,1011.2" fill="#fff" stroke="#000" stroke-width="1.2"/>
<polygon points="846.6,972.1 853.6,979.1 846.6,986.1 839.6,979.1" fill="#fff" stroke="#000" stroke-width="1.2"/>
<polygon points="849.6,940.1 856.6,947.1 849.6,954.1 842.6,947.1" fill="#fff" stroke="#000" stroke-width="1.2"/>
<polygon points="851.6,908 858.6,915 851.6,922 844.6,915" fill="#fff" stroke="#000" stroke-width="1.2"/>
<polygon points="851.2,908.4 858.2,915.4 851.2,922.4 844.2,915.4" fill="#fff" stroke="#000" stroke-width="1.2"/>
<polygon points="852.2,888.3 859.2,895.3 852.2,902.3 845.2,895.3" fill="#fff" stroke="#000" stroke-width="1.2"/>
<polygon points="860.2,876.3 867.2,883.3 860.2,890.3 853.2,883.3" fill="#fff" stroke="#000" stroke-width="1.2"/>
<polygon points="856.2,867.3 863.2,874.3 856.2,881.3 849.2,874.3" fill="#fff" stroke="#000" stroke-width="1.2"/>
<polygon points="842.2,857.3 849.2,864.3 842.2,871.3 835.2,864.3" fill="#fff" stroke="#000" stroke-width="1.2"/>
<polygon points="820.2,871.3 827.2,878.3 820.2,885.3 813.2,878.3" fill="#fff" stroke="#000" stroke-width="1.2"/>
<polygon points="798.1,887.3 805.1,894.3 798.1,901.3 791.1,894.3" fill="#fff" stroke="#000" stroke-width="1.2"/>
<polygon points="789.1,891.3 796.1,898.3 789.1,905.3 782.1,898.3" fill="#fff" stroke="#000" stroke-width="1.2"/>
<polygon points="780.1,895.7 787.1,902.7 780.1,909.7 773.1,902.7" fill="#fff" stroke="#000" stroke-width="1.2"/>
<polygon points="771.1,899 778.1,906 771.1,913 764.1,906" fill="#fff" stroke="#000" stroke-width="1.2"/>
<polygon points="762.1,902.4 769.1,909.4 762.1,916.4 755.1,909.4" fill="#fff" stroke="#000" stroke-width="1.2"/>
<polygon points="752.1,905.8 759.1,912.8 752.1,919.8 745.1,912.8" fill="#fff" stroke="#000" stroke-width="1.2"/>
<polygon points="742.1,909.4 749.1,916.4 742.1,923.4 735.1,916.4" fill="#fff" stroke="#000" stroke-width="1.2"/>
<polygon points="730,913.4 737,920.4 730,927.4 723,920.4" fill="#fff" stroke="#000" stroke-width="1.2"/>
<circle cx="720" cy="923" r="1.6" fill="#000"/>
<polygon points="828.4,1130.4 834.8,1141.3 822,1141.3" fill="#fff" stroke="#000" stroke-width="1.2"/>
<ellipse cx="881.5" cy="845.6" rx="17.7" ry="107.5" fill="none" stroke="#707070" stroke-width="1.6"/>
<line x1="904.7" y1="944.5" x2="951.4" y2="944.5" stroke="#000" stroke-width="2.6"/>
<rect x="922.3" y="938.9" width="11.2" height="11.2" fill="#000" stroke="#000" stroke-width="1.2"/>
<text x="956.4" y="951.1" font-size="19.9" text-anchor="start" >CFT-10-0-0-SH-1</text>
<path d="M1125.8 944.5H1140.5M1158 944.5H1172.7" stroke="#000" stroke-width="2.6"/>
<rect x="1144.2" y="939.5" width="10" height="10" fill="#fff" stroke="#000" stroke-width="1.2"/>
<text x="1177.3" y="951.1" font-size="19.9" text-anchor="start" >CFT-10-0-0-SH-3</text>
<line x1="904.7" y1="969.4" x2="951.4" y2="969.4" stroke="#000" stroke-width="2.6"/>
<circle cx="927.9" cy="969.4" r="6" fill="#000" stroke="#000" stroke-width="1.2"/>
<text x="956.4" y="976" font-size="19.9" text-anchor="start" >CFT-20-0-0-SH-1</text>
<path d="M1125.8 969.4H1140.5M1158 969.4H1172.7" stroke="#000" stroke-width="2.6"/>
<circle cx="1149.2" cy="969.4" r="5.3" fill="#fff" stroke="#000" stroke-width="1.2"/>
<text x="1177.3" y="976" font-size="19.9" text-anchor="start" >CFT-20-0-0-SH-3</text>
<line x1="904.7" y1="994.3" x2="951.4" y2="994.3" stroke="#000" stroke-width="2.6"/>
<polygon points="922.4,987.1 922.4,1001.4 935.4,994.3" fill="#000" stroke="#000" stroke-width="1.2"/>
<text x="956.4" y="1000.9" font-size="19.9" text-anchor="start" >CFT-30-0-0-SH-1</text>
<path d="M1125.8 994.3H1140.5M1158 994.3H1172.7" stroke="#000" stroke-width="2.6"/>
<polygon points="1144.4,988.1 1144.4,1000.4 1155.6,994.3" fill="#fff" stroke="#000" stroke-width="1.2"/>
<text x="1177.3" y="1000.9" font-size="19.9" text-anchor="start" >CFT-30-0-0-SH-3</text>
<line x1="904.7" y1="1019.1" x2="951.4" y2="1019.1" stroke="#000" stroke-width="2.6"/>
<polygon points="927.9,1012.4 929.5,1017 934.3,1017.1 930.4,1020 931.8,1024.6 927.9,1021.8 924,1024.6 925.4,1020 921.5,1017.1 926.3,1017" fill="#000" stroke="#000" stroke-width="1.2"/>
<text x="956.4" y="1025.7" font-size="19.9" text-anchor="start" >CFT-40-0-0-SH-1</text>
<path d="M1125.8 1019.1H1140.5M1158 1019.1H1172.7" stroke="#000" stroke-width="2.6"/>
<polygon points="1149.2,1013.3 1150.6,1017.3 1154.7,1017.3 1151.4,1019.9 1152.6,1023.8 1149.2,1021.5 1145.8,1023.8 1147,1019.9 1143.7,1017.3 1147.8,1017.3" fill="#fff" stroke="#000" stroke-width="1.2"/>
<text x="1177.3" y="1025.7" font-size="19.9" text-anchor="start" >CFT-40-0-0-SH-3</text>
<line x1="904.7" y1="1044" x2="951.4" y2="1044" stroke="#000" stroke-width="2.6"/>
<polygon points="927.9,1037.1 935.2,1049.5 920.6,1049.5" fill="#000" stroke="#000" stroke-width="1.2"/>
<text x="956.4" y="1050.6" font-size="19.9" text-anchor="start" >CFT-50-0-0-SH-1</text>
<path d="M1125.8 1044H1140.5M1158 1044H1172.7" stroke="#000" stroke-width="2.6"/>
<polygon points="1149.2,1037.9 1155.6,1048.8 1142.8,1048.8" fill="#fff" stroke="#000" stroke-width="1.2"/>
<text x="1177.3" y="1050.6" font-size="19.9" text-anchor="start" >CFT-50-0-0-SH-3</text>
<line x1="904.7" y1="1068.9" x2="951.4" y2="1068.9" stroke="#000" stroke-width="2.6"/>
<polygon points="927.9,1060.9 935.9,1068.9 927.9,1076.9 919.9,1068.9" fill="#000" stroke="#000" stroke-width="1.2"/>
<text x="956.4" y="1075.5" font-size="19.9" text-anchor="start" >CFT-60-0-0-SH-1</text>
<path d="M1125.8 1068.9H1140.5M1158 1068.9H1172.7" stroke="#000" stroke-width="2.6"/>
<polygon points="1149.2,1061.9 1156.2,1068.9 1149.2,1075.9 1142.2,1068.9" fill="#fff" stroke="#000" stroke-width="1.2"/>
<text x="1177.3" y="1075.5" font-size="19.9" text-anchor="start" >CFT-60-0-0-SH-3</text>
<text x="852.6" y="706.7" font-size="22.8" text-anchor="start" >Elastic-plastic stage</text>
<line x1="933.3" y1="713.1" x2="900.7" y2="756.9" stroke="#000" stroke-width="1.5"/><polygon points="895.3,764.1 899,753.1 904.8,757.4" fill="#000"/>
<text x="917.3" y="1108.3" font-size="24" text-anchor="start" ><tspan font-style="italic">ε</tspan><tspan font-size="16" dy="6">e1</tspan><tspan dy="-6">=2500με</tspan></text>
<line x1="920.3" y1="1117.3" x2="906.6" y2="1131.5" stroke="#000" stroke-width="1.5"/><polygon points="900.3,1138 905.4,1127.6 910.5,1132.6" fill="#000"/>
<text x="672" y="1111" font-size="24" text-anchor="start" ><tspan font-style="italic">ε</tspan><tspan font-size="16" dy="6">p</tspan><tspan dy="-6">=1415με</tspan></text>
<line x1="776.1" y1="1115.3" x2="855.9" y2="1135.8" stroke="#000" stroke-width="1.5"/><polygon points="864.6,1138 853.1,1138.8 854.8,1131.8" fill="#000"/>
<circle cx="1231.3" cy="772.8" r="48.5" fill="none" stroke="#000" stroke-width="1.7"/><line x1="1182.8" y1="775.2" x2="1279.8" y2="775.2" stroke="#000" stroke-width="1.5" stroke-dasharray="7 4.5"/><line x1="1231.3" y1="699.8" x2="1231.3" y2="845.8" stroke="#000" stroke-width="1.5" stroke-dasharray="8 3 2 3"/><rect x="1225.3" y="720.3" width="12" height="4" fill="#ccc" stroke="#888" stroke-width="0.8"/><rect x="1225.3" y="821.3" width="12" height="4" fill="#ccc" stroke="#888" stroke-width="0.8"/><rect x="1179.2" y="770.7" width="3.6" height="9" fill="#ccc" stroke="#888" stroke-width="0.8"/><rect x="1279.8" y="770.7" width="3.6" height="9" fill="#ccc" stroke="#888" stroke-width="0.8"/><text x="1169.9" y="782.2" font-size="22" text-anchor="middle" >1</text><text x="1292.4" y="781.2" font-size="22" text-anchor="middle" >3</text><text x="1242.4" y="716" font-size="22" text-anchor="middle" >4</text><text x="1240.4" y="847.3" font-size="22" text-anchor="middle" >2</text>
<text x="1074.1" y="712.5" font-size="20.9" text-anchor="start" >Axial loading</text>
<text x="1074.1" y="738.1" font-size="20.9" text-anchor="start" >specimen</text>
<line x1="1183.3" y1="719.1" x2="1202.3" y2="735.1" stroke="#000" stroke-width="1.1"/>
</g>
<g id="chart_e">
<path d="M1725.4 693.6V1145.6M1412.5 1145.6H1973.8" stroke="#000" stroke-width="1.6" fill="none"/>
<path d="M1725.4 693.6h8M1725.4 784h8M1725.4 874.3h8M1725.4 964.6h8M1725.4 1055h8M1412.5 1145.6v-8.5M1475 1145.6v-8.5M1537.3 1145.6v-8.5M1599.6 1145.6v-8.5M1661.9 1145.6v-8.5M1786.6 1145.6v-8.5M1849.2 1145.6v-8.5M1911.5 1145.6v-8.5M1973.8 1145.6v-8.5" stroke="#000" stroke-width="1.5" fill="none"/>
<text x="1715" y="720.1" font-size="20.8" text-anchor="end" >1000</text>
<text x="1715" y="810.7" font-size="20.8" text-anchor="end" >800</text>
<text x="1715" y="901.3" font-size="20.8" text-anchor="end" >600</text>
<text x="1715" y="991.9" font-size="20.8" text-anchor="end" >400</text>
<text x="1715" y="1082.5" font-size="20.8" text-anchor="end" >200</text>
<text x="1412.5" y="1172.4" font-size="20.8" text-anchor="middle" >-20000</text>
<text x="1474.8" y="1172.4" font-size="20.8" text-anchor="middle" >-16000</text>
<text x="1537.3" y="1172.4" font-size="20.8" text-anchor="middle" >-12000</text>
<text x="1599.6" y="1172.4" font-size="20.8" text-anchor="middle" >-8000</text>
<text x="1661.8" y="1172.4" font-size="20.8" text-anchor="middle" >-4000</text>
<text x="1724.4" y="1172.4" font-size="20.8" text-anchor="middle" >0</text>
<text x="1786.5" y="1172.4" font-size="20.8" text-anchor="middle" >4000</text>
<text x="1848.7" y="1172.4" font-size="20.8" text-anchor="middle" >8000</text>
<text x="1911.5" y="1172.4" font-size="20.8" text-anchor="middle" >12000</text>
<text x="1973" y="1172.4" font-size="20.8" text-anchor="middle" >16000</text>
<text x="1710.5" y="1172.4" font-size="20.8" text-anchor="middle" >0</text>
<text x="1743.2" y="697" font-size="24.7" text-anchor="start" >Load (<tspan font-style="italic">N</tspan>)/kN</text>
<text x="1693.2" y="1211.8" font-size="25.3" text-anchor="middle" >Axial strain (<tspan font-style="italic" font-size="21">ε</tspan>) /με</text>
<text x="1569" y="1258.5" font-size="37.5" text-anchor="start" >e)</text>
<text x="1625.8" y="1258.5" font-size="36.6" text-anchor="start" >Group IV-2</text>
<path d="M1686 1145.6V1011M1701 1145.6V1011" stroke="#000" stroke-width="1.7" stroke-dasharray="8 5" fill="none"/>
<g clip-path="url(#clipE)">
<path d="M1722.6 1137.5L1722.4 1136.2M1721.1 1120.3L1719.9 1100.3M1718.9 1084.3L1717.1 1063.2M1715.8 1047.2L1714.2 1027.2M1713.1 1011.2L1711.9 991.1M1711.1 975.1L1709.9 955.1M1708.6 939.1L1706.4 918M1704.4 902.1L1701.5 882.2M1699.1 866.4L1695.7 846.2M1692.2 830.6L1686.2 809.9M1682.2 794.4L1681.6 792M1676.6 776.9L1675 773M1666.4 759.8L1660.8 753.6M1639.1 731.5L1637.6 730.1M1625 720.4L1624.2 719.8M1610 712.5L1608.2 711.7M1593.1 706.6L1592.1 706.4M1576.3 703.9L1573.2 703.6M1557.2 703.7L1550.8 704.4M1534.9 706.6L1526.5 708.2M1511.5 713.4L1499.6 719.4M1488 729.7L1472 753.5M1465.3 767.8L1460.7 783.5M1458.5 799.2L1458.5 824.2" fill="none" stroke="#000" stroke-width="1.7"/><rect x="1716.3" y="1123.1" width="10.3" height="10.3" fill="#000" stroke="#000" stroke-width="1.2"/><rect x="1714.3" y="1087.1" width="10.3" height="10.3" fill="#000" stroke="#000" stroke-width="1.2"/><rect x="1711.3" y="1050" width="10.3" height="10.3" fill="#000" stroke="#000" stroke-width="1.2"/><rect x="1708.3" y="1014" width="10.3" height="10.3" fill="#000" stroke="#000" stroke-width="1.2"/><rect x="1706.3" y="977.9" width="10.3" height="10.3" fill="#000" stroke="#000" stroke-width="1.2"/><rect x="1704.3" y="941.9" width="10.3" height="10.3" fill="#000" stroke="#000" stroke-width="1.2"/><rect x="1700.3" y="904.8" width="10.3" height="10.3" fill="#000" stroke="#000" stroke-width="1.2"/><rect x="1695.2" y="869.1" width="10.3" height="10.3" fill="#000" stroke="#000" stroke-width="1.2"/><rect x="1689.2" y="833.1" width="10.3" height="10.3" fill="#000" stroke="#000" stroke-width="1.2"/><rect x="1678.8" y="797" width="10.3" height="10.3" fill="#000" stroke="#000" stroke-width="1.2"/><rect x="1674.6" y="779" width="10.3" height="10.3" fill="#000" stroke="#000" stroke-width="1.2"/><rect x="1666.6" y="760.5" width="10.3" height="10.3" fill="#000" stroke="#000" stroke-width="1.2"/><rect x="1650.2" y="742.5" width="10.3" height="10.3" fill="#000" stroke="#000" stroke-width="1.2"/><rect x="1639.6" y="731.9" width="10.3" height="10.3" fill="#000" stroke="#000" stroke-width="1.2"/><rect x="1626.7" y="719.3" width="10.3" height="10.3" fill="#000" stroke="#000" stroke-width="1.2"/><rect x="1612.1" y="710.5" width="10.3" height="10.3" fill="#000" stroke="#000" stroke-width="1.2"/><rect x="1595.7" y="703.3" width="10.3" height="10.3" fill="#000" stroke="#000" stroke-width="1.2"/><rect x="1579.1" y="699.3" width="10.3" height="10.3" fill="#000" stroke="#000" stroke-width="1.2"/><rect x="1560" y="697.8" width="10.3" height="10.3" fill="#000" stroke="#000" stroke-width="1.2"/><rect x="1537.6" y="699.9" width="10.3" height="10.3" fill="#000" stroke="#000" stroke-width="1.2"/><rect x="1513.4" y="704.5" width="10.3" height="10.3" fill="#000" stroke="#000" stroke-width="1.2"/><rect x="1487.3" y="717.9" width="10.3" height="10.3" fill="#000" stroke="#000" stroke-width="1.2"/><rect x="1462.3" y="754.9" width="10.3" height="10.3" fill="#000" stroke="#000" stroke-width="1.2"/><rect x="1453.3" y="786" width="10.3" height="10.3" fill="#000" stroke="#000" stroke-width="1.2"/><rect x="1453.3" y="827" width="10.3" height="10.3" fill="#000" stroke="#000" stroke-width="1.2"/>
<path d="M1722.4 1137.5L1722.2 1136.2M1720.3 1120.3L1718.3 1099.3M1716.6 1083.3L1714.4 1062.2M1712.8 1046.2L1711.2 1026.2M1709.8 1010.2L1708.2 991.1M1706.2 975.2L1702.7 955M1699.9 939.2L1695.9 917.9M1691.2 902.7L1682 881.6M1675.3 867.1L1673.5 863.5M1667 848.9L1665.8 845.7M1659.5 831L1657.7 827.1M1651 812.6L1649.4 809M1642.3 794.7L1640.5 791.3M1579.8 764L1577.8 764.4M1562.2 767.7L1542.9 772.6M1527.7 777.5L1459.2 803.9" fill="none" stroke="#000" stroke-width="1.7"/><circle cx="1721.1" cy="1128.3" r="5.5" fill="#000" stroke="#000" stroke-width="1.2"/><circle cx="1717.5" cy="1091.3" r="5.5" fill="#000" stroke="#000" stroke-width="1.2"/><circle cx="1713.5" cy="1054.2" r="5.5" fill="#000" stroke="#000" stroke-width="1.2"/><circle cx="1710.5" cy="1018.2" r="5.5" fill="#000" stroke="#000" stroke-width="1.2"/><circle cx="1707.5" cy="983.1" r="5.5" fill="#000" stroke="#000" stroke-width="1.2"/><circle cx="1701.4" cy="947.1" r="5.5" fill="#000" stroke="#000" stroke-width="1.2"/><circle cx="1694.4" cy="910" r="5.5" fill="#000" stroke="#000" stroke-width="1.2"/><circle cx="1678.8" cy="874.3" r="5.5" fill="#000" stroke="#000" stroke-width="1.2"/><circle cx="1670" cy="856.3" r="5.5" fill="#000" stroke="#000" stroke-width="1.2"/><circle cx="1662.8" cy="838.3" r="5.5" fill="#000" stroke="#000" stroke-width="1.2"/><circle cx="1654.4" cy="819.8" r="5.5" fill="#000" stroke="#000" stroke-width="1.2"/><circle cx="1646" cy="801.8" r="5.5" fill="#000" stroke="#000" stroke-width="1.2"/><circle cx="1636.8" cy="784.2" r="5.5" fill="#000" stroke="#000" stroke-width="1.2"/><circle cx="1626.7" cy="780.2" r="5.5" fill="#000" stroke="#000" stroke-width="1.2"/><circle cx="1614.7" cy="770.1" r="5.5" fill="#000" stroke="#000" stroke-width="1.2"/><circle cx="1601.3" cy="764.5" r="5.5" fill="#000" stroke="#000" stroke-width="1.2"/><circle cx="1587.7" cy="762.7" r="5.5" fill="#000" stroke="#000" stroke-width="1.2"/><circle cx="1569.9" cy="765.7" r="5.5" fill="#000" stroke="#000" stroke-width="1.2"/><circle cx="1535.2" cy="774.6" r="5.5" fill="#000" stroke="#000" stroke-width="1.2"/><circle cx="1451.7" cy="806.8" r="5.5" fill="#000" stroke="#000" stroke-width="1.2"/>
<path d="M1722.1 1137.5L1721.9 1136.2M1719.6 1120.3L1717.4 1099.3M1715.8 1083.3L1713.8 1062.2M1712.8 1046.2L1711.8 1020.2M1703.5 1012L1686.8 1011.4M1676.8 1003.5L1673.4 990.8M1669.6 975.3L1665.2 955.9M1662.1 940.2L1657.1 910.9M1640.7 872.9L1640.1 872.3M1614.9 856.5L1613.1 856.1M1597.3 854.3L1589.9 854.3M1574.3 856.9L1569.2 858.7M1554 863.7L1547.2 865.9M1532.1 871.1L1517.7 876.5" fill="none" stroke="#000" stroke-width="1.7"/><polygon points="1720.5,1134.2 1726.8,1123.6 1714.2,1123.6" fill="#000" stroke="#000" stroke-width="1.2"/><polygon points="1716.5,1097.2 1722.8,1086.6 1710.2,1086.6" fill="#000" stroke="#000" stroke-width="1.2"/><polygon points="1713.1,1060.1 1719.4,1049.5 1706.8,1049.5" fill="#000" stroke="#000" stroke-width="1.2"/><polygon points="1711.5,1018.1 1717.8,1007.5 1705.2,1007.5" fill="#000" stroke="#000" stroke-width="1.2"/><polygon points="1678.8,1017.1 1685.1,1006.5 1672.5,1006.5" fill="#000" stroke="#000" stroke-width="1.2"/><polygon points="1671.4,989 1677.7,978.4 1665.1,978.4" fill="#000" stroke="#000" stroke-width="1.2"/><polygon points="1663.4,954 1669.7,943.4 1657.1,943.4" fill="#000" stroke="#000" stroke-width="1.2"/><polygon points="1655.8,908.9 1662.1,898.3 1649.5,898.3" fill="#000" stroke="#000" stroke-width="1.2"/><polygon points="1652.4,895.2 1658.7,884.6 1646.1,884.6" fill="#000" stroke="#000" stroke-width="1.2"/><polygon points="1646,884.8 1652.3,874.2 1639.7,874.2" fill="#000" stroke="#000" stroke-width="1.2"/><polygon points="1634.8,872.2 1641.1,861.6 1628.5,861.6" fill="#000" stroke="#000" stroke-width="1.2"/><polygon points="1622.7,864.2 1629,853.6 1616.4,853.6" fill="#000" stroke="#000" stroke-width="1.2"/><polygon points="1605.3,860.2 1611.6,849.6 1599,849.6" fill="#000" stroke="#000" stroke-width="1.2"/><polygon points="1581.9,860.2 1588.2,849.6 1575.6,849.6" fill="#000" stroke="#000" stroke-width="1.2"/><polygon points="1561.6,867.2 1567.9,856.6 1555.3,856.6" fill="#000" stroke="#000" stroke-width="1.2"/><polygon points="1539.6,874.2 1545.9,863.6 1533.3,863.6" fill="#000" stroke="#000" stroke-width="1.2"/><polygon points="1510.2,885.2 1516.5,874.6 1503.9,874.6" fill="#000" stroke="#000" stroke-width="1.2"/>
<path d="M1723 1137.4L1723 1136.3M1722.3 1120.3L1721.7 1100.3M1721.3 1084.3L1720.7 1063.2M1720.4 1047.2L1720 1027.2M1719.7 1011.2L1719.3 991.1M1718.9 975.1L1718.3 955.1M1718.1 939.1L1718.1 918M1718.1 902L1718.2 882.3M1718.2 866.3L1718.2 846.3M1718.3 830.3L1718.5 810.2M1718.7 794.2L1718.7 792.2M1719.2 776.2L1719.4 773.7M1720.7 757.7L1720.9 755.7M1760 715.7L1761.2 717.1M1768.7 730.8L1775.4 752.4M1778.9 768L1781.5 784.3M1783.6 800.1L1786.4 824.3" fill="none" stroke="#000" stroke-width="1.7"/><rect x="1717.5" y="1123.3" width="10" height="10" fill="#fff" stroke="#000" stroke-width="1.0"/><rect x="1716.5" y="1087.3" width="10" height="10" fill="#fff" stroke="#000" stroke-width="1.0"/><rect x="1715.5" y="1050.2" width="10" height="10" fill="#fff" stroke="#000" stroke-width="1.0"/><rect x="1714.9" y="1014.2" width="10" height="10" fill="#fff" stroke="#000" stroke-width="1.0"/><rect x="1714.1" y="978.1" width="10" height="10" fill="#fff" stroke="#000" stroke-width="1.0"/><rect x="1713.1" y="942.1" width="10" height="10" fill="#fff" stroke="#000" stroke-width="1.0"/><rect x="1713.1" y="905" width="10" height="10" fill="#fff" stroke="#000" stroke-width="1.0"/><rect x="1713.2" y="869.3" width="10" height="10" fill="#fff" stroke="#000" stroke-width="1.0"/><rect x="1713.2" y="833.3" width="10" height="10" fill="#fff" stroke="#000" stroke-width="1.0"/><rect x="1713.6" y="797.2" width="10" height="10" fill="#fff" stroke="#000" stroke-width="1.0"/><rect x="1713.8" y="779.2" width="10" height="10" fill="#fff" stroke="#000" stroke-width="1.0"/><rect x="1714.8" y="760.7" width="10" height="10" fill="#fff" stroke="#000" stroke-width="1.0"/><rect x="1716.8" y="742.7" width="10" height="10" fill="#fff" stroke="#000" stroke-width="1.0"/><rect x="1719.6" y="732.1" width="10" height="10" fill="#fff" stroke="#000" stroke-width="1.0"/><rect x="1722.6" y="719.5" width="10" height="10" fill="#fff" stroke="#000" stroke-width="1.0"/><rect x="1726.2" y="710.7" width="10" height="10" fill="#fff" stroke="#000" stroke-width="1.0"/><rect x="1729.2" y="703.5" width="10" height="10" fill="#fff" stroke="#000" stroke-width="1.0"/><rect x="1732.6" y="699.5" width="10" height="10" fill="#fff" stroke="#000" stroke-width="1.0"/><rect x="1736.2" y="698" width="10" height="10" fill="#fff" stroke="#000" stroke-width="1.0"/><rect x="1742.6" y="699.5" width="10" height="10" fill="#fff" stroke="#000" stroke-width="1.0"/><rect x="1749.8" y="704.7" width="10" height="10" fill="#fff" stroke="#000" stroke-width="1.0"/><rect x="1761.4" y="718.1" width="10" height="10" fill="#fff" stroke="#000" stroke-width="1.0"/><rect x="1772.7" y="755.1" width="10" height="10" fill="#fff" stroke="#000" stroke-width="1.0"/><rect x="1777.7" y="787.2" width="10" height="10" fill="#fff" stroke="#000" stroke-width="1.0"/><rect x="1782.3" y="827.2" width="10" height="10" fill="#fff" stroke="#000" stroke-width="1.0"/>
<path d="M1723.2 1137.4L1723.2 1136.3M1722.8 1120.3L1722.6 1100.3M1722.4 1084.3L1722.2 1063.2M1722 1047.2L1721.6 1026.2M1721.6 1010.2L1721.8 991.1M1722 975.1L1722.4 955.1M1722.8 939.1L1723.8 918M1724.3 902L1725 882.3M1725.6 866.3L1725.8 864.3M1726.5 848.3L1726.5 846.3M1727.7 830.3L1727.9 827.8M1729.7 811.8L1729.9 809.8M1732.3 793.9L1732.7 792.1M1780.9 768L1794.7 772.3M1809.6 777.9L1865.7 803.5M1880.4 809.9L1964.1 845.2" fill="none" stroke="#000" stroke-width="1.7"/><circle cx="1722.9" cy="1128.3" r="5.3" fill="#fff" stroke="#000" stroke-width="1.0"/><circle cx="1722.5" cy="1092.3" r="5.3" fill="#fff" stroke="#000" stroke-width="1.0"/><circle cx="1722.1" cy="1055.2" r="5.3" fill="#fff" stroke="#000" stroke-width="1.0"/><circle cx="1721.5" cy="1018.2" r="5.3" fill="#fff" stroke="#000" stroke-width="1.0"/><circle cx="1721.9" cy="983.1" r="5.3" fill="#fff" stroke="#000" stroke-width="1.0"/><circle cx="1722.5" cy="947.1" r="5.3" fill="#fff" stroke="#000" stroke-width="1.0"/><circle cx="1724.1" cy="910" r="5.3" fill="#fff" stroke="#000" stroke-width="1.0"/><circle cx="1725.2" cy="874.3" r="5.3" fill="#fff" stroke="#000" stroke-width="1.0"/><circle cx="1726.2" cy="856.3" r="5.3" fill="#fff" stroke="#000" stroke-width="1.0"/><circle cx="1726.8" cy="838.3" r="5.3" fill="#fff" stroke="#000" stroke-width="1.0"/><circle cx="1728.8" cy="819.8" r="5.3" fill="#fff" stroke="#000" stroke-width="1.0"/><circle cx="1730.8" cy="801.8" r="5.3" fill="#fff" stroke="#000" stroke-width="1.0"/><circle cx="1734.2" cy="784.2" r="5.3" fill="#fff" stroke="#000" stroke-width="1.0"/><circle cx="1738.2" cy="780.2" r="5.3" fill="#fff" stroke="#000" stroke-width="1.0"/><circle cx="1743.6" cy="770.1" r="5.3" fill="#fff" stroke="#000" stroke-width="1.0"/><circle cx="1750.8" cy="764.5" r="5.3" fill="#fff" stroke="#000" stroke-width="1.0"/><circle cx="1758.8" cy="762.7" r="5.3" fill="#fff" stroke="#000" stroke-width="1.0"/><circle cx="1773.3" cy="765.7" r="5.3" fill="#fff" stroke="#000" stroke-width="1.0"/><circle cx="1802.3" cy="774.6" r="5.3" fill="#fff" stroke="#000" stroke-width="1.0"/><circle cx="1873" cy="806.8" r="5.3" fill="#fff" stroke="#000" stroke-width="1.0"/><circle cx="1971.5" cy="848.3" r="5.3" fill="#fff" stroke="#000" stroke-width="1.0"/>
<path d="M1723.3 1120.3L1724.1 1101.3M1724.8 1085.3L1725.8 1064.2M1726.6 1048.2L1728 1028.2M1729.2 1012.2L1729.4 1010.2M1729.8 994.2L1729.8 992.1M1729.7 976.1L1730.3 956.1M1732 940.2L1733 934.9M1736.6 919.3L1745.5 886.6M1764.7 862.6L1765.8 862M1780.8 856.8L1785.4 855.8M1801.3 854.3L1809.3 854.3M1824.9 856.7L1832.2 858.9M1847.6 863.2L1861.2 866.4M1876.8 870.2L1907.3 877.4M1922.7 881.7L1959.5 892.9" fill="none" stroke="#444" stroke-width="0.8"/><polygon points="1722.9,1149.7 1729.5,1138.5 1716.3,1138.5" fill="#fff" stroke="#000" stroke-width="1.0"/><polygon points="1722.9,1134.6 1729.5,1123.3 1716.3,1123.3" fill="#fff" stroke="#000" stroke-width="1.0"/><polygon points="1724.5,1099.6 1731.1,1088.3 1717.9,1088.3" fill="#fff" stroke="#000" stroke-width="1.0"/><polygon points="1726.1,1062.5 1732.7,1051.2 1719.5,1051.2" fill="#fff" stroke="#000" stroke-width="1.0"/><polygon points="1728.5,1026.5 1735.1,1015.2 1721.9,1015.2" fill="#fff" stroke="#000" stroke-width="1.0"/><polygon points="1730.1,1008.5 1736.7,997.2 1723.5,997.2" fill="#fff" stroke="#000" stroke-width="1.0"/><polygon points="1729.5,990.4 1736.1,979.1 1722.9,979.1" fill="#fff" stroke="#000" stroke-width="1.0"/><polygon points="1730.5,954.4 1737.1,943.1 1723.9,943.1" fill="#fff" stroke="#000" stroke-width="1.0"/><polygon points="1734.5,933.3 1741.1,922 1727.9,922" fill="#fff" stroke="#000" stroke-width="1.0"/><polygon points="1747.6,885.2 1754.2,873.9 1741,873.9" fill="#fff" stroke="#000" stroke-width="1.0"/><polygon points="1757.6,872.6 1764.2,861.3 1751,861.3" fill="#fff" stroke="#000" stroke-width="1.0"/><polygon points="1772.9,864.6 1779.5,853.3 1766.3,853.3" fill="#fff" stroke="#000" stroke-width="1.0"/><polygon points="1793.3,860.6 1799.9,849.3 1786.7,849.3" fill="#fff" stroke="#000" stroke-width="1.0"/><polygon points="1817.3,860.6 1823.9,849.3 1810.7,849.3" fill="#fff" stroke="#000" stroke-width="1.0"/><polygon points="1839.8,867.6 1846.4,856.3 1833.2,856.3" fill="#fff" stroke="#000" stroke-width="1.0"/><polygon points="1869,874.6 1875.6,863.3 1862.4,863.3" fill="#fff" stroke="#000" stroke-width="1.0"/><polygon points="1915.1,885.6 1921.7,874.3 1908.5,874.3" fill="#fff" stroke="#000" stroke-width="1.0"/><polygon points="1967.1,901.6 1973.7,890.3 1960.5,890.3" fill="#fff" stroke="#000" stroke-width="1.0"/>
</g>
<path d="M1741.6 951.1H1758.5M1774 951.1H1791.3" stroke="#000" stroke-width="1.8"/>
<rect x="1760.6" y="945.5" width="11.2" height="11.2" fill="#000" stroke="#000" stroke-width="1.2"/>
<text x="1796.3" y="957.7" font-size="20" text-anchor="start" >CFT-30-0.3-0.1-CR-1</text>
<path d="M1741.6 978H1758.5M1774 978H1791.3" stroke="#000" stroke-width="1.8"/>
<circle cx="1766.2" cy="978" r="6" fill="#000" stroke="#000" stroke-width="1.2"/>
<text x="1796.3" y="984.6" font-size="20" text-anchor="start" >CFT-30-0.3-0.2-CR-1</text>
<path d="M1741.6 1004.8H1758.5M1774 1004.8H1791.3" stroke="#000" stroke-width="1.8"/>
<polygon points="1766.2,1011.3 1773,999.7 1759.4,999.7" fill="#000" stroke="#000" stroke-width="1.2"/>
<text x="1796.3" y="1011.4" font-size="20" text-anchor="start" >CFT-30-0.3-0.3-CR-1</text>
<path d="M1741.6 1031.7H1758.5M1774 1031.7H1791.3" stroke="#000" stroke-width="1.8"/>
<rect x="1761.2" y="1026.7" width="10" height="10" fill="#fff" stroke="#000" stroke-width="1.0"/>
<text x="1796.3" y="1038.2" font-size="20" text-anchor="start" >CFT-30-0.3-0.1-CR-3</text>
<path d="M1741.6 1058.5H1758.5M1774 1058.5H1791.3" stroke="#000" stroke-width="1.8"/>
<circle cx="1766.2" cy="1058.5" r="5.3" fill="#fff" stroke="#000" stroke-width="1.0"/>
<text x="1796.3" y="1065.1" font-size="20" text-anchor="start" >CFT-30-0.3-0.2-CR-3</text>
<path d="M1741.6 1085.3H1758.5M1774 1085.3H1791.3" stroke="#444" stroke-width="0.8"/>
<polygon points="1766.2,1091.6 1772.8,1080.4 1759.6,1080.4" fill="#fff" stroke="#000" stroke-width="1.0"/>
<text x="1796.3" y="1091.9" font-size="20" text-anchor="start" >CFT-30-0.3-0.3-CR-3</text>
<ellipse cx="1509.9" cy="1013.5" rx="54.4" ry="52.4" fill="#fcebe0" stroke="#000" stroke-width="1.8"/><line x1="1485.7" y1="966.6" x2="1485.7" y2="1060.4" stroke="#000" stroke-width="1.3" stroke-dasharray="8 4"/><line x1="1509.6" y1="990.0" x2="1509.6" y2="1037.0" stroke="#000" stroke-width="1.1"/><line x1="1476.2" y1="1009.2" x2="1482.7" y2="1009.2" stroke="#000" stroke-width="0.9"/><polygon points="1485.7,1009.2 1480.7,1010.8 1480.7,1007.6" fill="#000"/><line x1="1519.1" y1="1009.2" x2="1512.6" y2="1009.2" stroke="#000" stroke-width="0.9"/><polygon points="1509.6,1009.2 1514.6,1007.6 1514.6,1010.8" fill="#000"/><text x="1497.2" y="1012.7" font-size="20" text-anchor="middle" font-style="italic">e</text><rect x="1504.4" y="957.5" width="11" height="3.6" fill="#b9cde6" stroke="#445" stroke-width="0.8"/><rect x="1504.4" y="1065.9" width="11" height="3.6" fill="#b9cde6" stroke="#445" stroke-width="0.8"/><rect x="1451.7" y="1008.5" width="3.8" height="10" fill="#b9cde6" stroke="#445" stroke-width="0.8"/><rect x="1564.3000000000002" y="1008.5" width="3.8" height="10" fill="#b9cde6" stroke="#445" stroke-width="0.8"/><text x="1509.2" y="954.7" font-size="21" text-anchor="middle" >4</text><text x="1440.7" y="1021.2" font-size="21" text-anchor="middle" >1</text><text x="1579.3" y="1021.6" font-size="21" text-anchor="middle" >3</text><text x="1509.2" y="1086.3" font-size="21" text-anchor="middle" >2</text>
<text x="1431.4" y="935.7" font-size="16.6" text-anchor="start" >Loading</text>
<line x1="1475.7" y1="940.1" x2="1482.4" y2="959.4" stroke="#000" stroke-width="0.9"/><polygon points="1484.1,964.1 1479.7,958.2 1483.9,956.8" fill="#000"/>
<text x="1588.7" y="963.1" font-size="14.5" text-anchor="start" stroke="#000" stroke-width="0.35">specimen</text>
<line x1="1558.2" y1="987.1" x2="1579.1" y2="967.2" stroke="#000" stroke-width="0.9"/><polygon points="1582.7,963.7 1579.2,970.1 1576.1,966.9" fill="#000"/>
<text x="1373.6" y="1078.9" font-size="15.7" text-anchor="start" stroke="#000" stroke-width="0.35">Strain gauges</text>
<line x1="1453.1" y1="1018.2" x2="1441.2" y2="1055.4" stroke="#000" stroke-width="0.9"/><polygon points="1439.7,1060.2 1439.7,1052.9 1443.9,1054.2" fill="#000"/>
<line x1="1504.2" y1="1067.9" x2="1472.1" y2="1071.7" stroke="#000" stroke-width="0.9"/><polygon points="1467.1,1072.3 1473.8,1069.3 1474.3,1073.7" fill="#000"/>
<text x="1573.3" y="1085.3" font-size="19.3" text-anchor="start" ><tspan font-style="italic">ε</tspan><tspan font-size="13" dy="5">e1</tspan><tspan dy="-5">=2500με</tspan></text>
<line x1="1660.4" y1="1088.3" x2="1678.5" y2="1103.5" stroke="#000" stroke-width="1.5"/><polygon points="1685.4,1109.3 1674.7,1105 1679.3,1099.5" fill="#000"/>
<text x="1588.3" y="1123.3" font-size="19.3" text-anchor="start" ><tspan font-style="italic">ε</tspan><tspan font-size="13" dy="5">p</tspan><tspan dy="-5">=1415με</tspan></text>
<line x1="1675.4" y1="1125.3" x2="1691.6" y2="1139" stroke="#000" stroke-width="1.5"/><polygon points="1698.5,1144.8 1687.8,1140.5 1692.4,1135" fill="#000"/>
</g>
</svg>
</body></html>
